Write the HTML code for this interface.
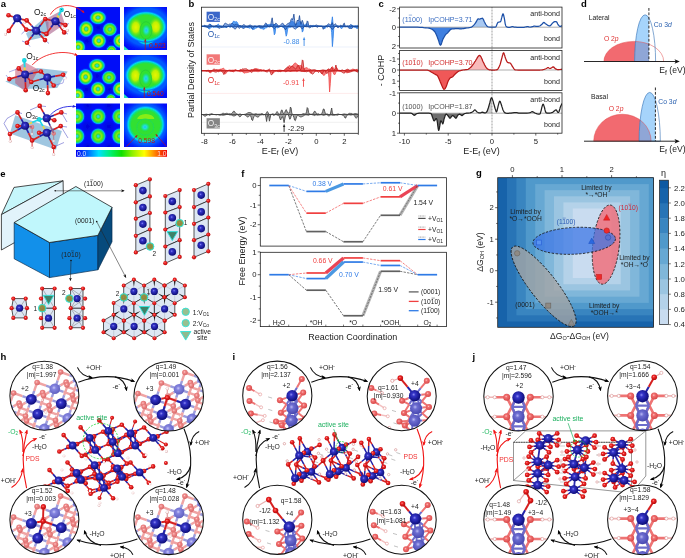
<!DOCTYPE html>
<html><head><meta charset="utf-8"><title>Figure</title>
<style>html,body{margin:0;padding:0;background:#fff;}svg{display:block;}text{font-family:"Liberation Sans",sans-serif;}</style>
</head><body>
<svg width="685" height="558" viewBox="0 0 685 558">
<defs>
<radialGradient id="gCo" cx="0.42" cy="0.4" r="0.6"><stop offset="0" stop-color="#8c8cf0"/><stop offset="0.25" stop-color="#3434c8"/><stop offset="1" stop-color="#0c0c78"/></radialGradient>
<radialGradient id="gCoF" cx="0.42" cy="0.4" r="0.6"><stop offset="0" stop-color="#c8c8f8"/><stop offset="0.3" stop-color="#8484e0"/><stop offset="1" stop-color="#6060c0"/></radialGradient>
<radialGradient id="gO" cx="0.42" cy="0.4" r="0.6"><stop offset="0" stop-color="#ff9a9a"/><stop offset="0.3" stop-color="#f02828"/><stop offset="1" stop-color="#b40808"/></radialGradient>
<radialGradient id="gOF" cx="0.42" cy="0.4" r="0.6"><stop offset="0" stop-color="#ffd0d0"/><stop offset="0.3" stop-color="#f08c8c"/><stop offset="1" stop-color="#d86868"/></radialGradient>
<radialGradient id="gOS" cx="0.42" cy="0.4" r="0.6"><stop offset="0" stop-color="#ffc0c0"/><stop offset="0.3" stop-color="#f07070"/><stop offset="1" stop-color="#d84848"/></radialGradient>
<radialGradient id="gCoS" cx="0.42" cy="0.4" r="0.6"><stop offset="0" stop-color="#b8b8f4"/><stop offset="0.3" stop-color="#6c6cd0"/><stop offset="1" stop-color="#4848b0"/></radialGradient>
<radialGradient id="gH" cx="0.45" cy="0.45" r="0.6"><stop offset="0" stop-color="#ffffff"/><stop offset="0.5" stop-color="#fbeaea"/><stop offset="1" stop-color="#c88c8c"/></radialGradient>
<radialGradient id="gOc" cx="0.45" cy="0.45" r="0.6"><stop offset="0" stop-color="#103030"/><stop offset="0.18" stop-color="#20e0e8"/><stop offset="1" stop-color="#10c8d8"/></radialGradient>
<marker id="arK" viewBox="0 0 10 10" refX="8" refY="5" markerWidth="4.3" markerHeight="4.3" orient="auto-start-reverse"><path d="M0 1 L10 5 L0 9 L2.5 5 Z" fill="#000"/></marker>
<marker id="arK2" viewBox="0 0 10 10" refX="8" refY="5" markerWidth="6.5" markerHeight="6.5" orient="auto-start-reverse"><path d="M0 1 L10 5 L0 9 L2.5 5 Z" fill="#111"/></marker>
<marker id="arR" viewBox="0 0 10 10" refX="8" refY="5" markerWidth="4.3" markerHeight="4.3" orient="auto-start-reverse"><path d="M0 1 L10 5 L0 9 L2.5 5 Z" fill="#f01414"/></marker>
<marker id="arB" viewBox="0 0 10 10" refX="8" refY="5" markerWidth="4.3" markerHeight="4.3" orient="auto-start-reverse"><path d="M0 1 L10 5 L0 9 L2.5 5 Z" fill="#2020e0"/></marker>
<marker id="arDR" viewBox="0 0 10 10" refX="8" refY="5" markerWidth="4.3" markerHeight="4.3" orient="auto-start-reverse"><path d="M0 1 L10 5 L0 9 L2.5 5 Z" fill="#c01010"/></marker>
<marker id="arG" viewBox="0 0 10 10" refX="8" refY="5" markerWidth="4.3" markerHeight="4.3" orient="auto-start-reverse"><path d="M0 1 L10 5 L0 9 L2.5 5 Z" fill="#10b040"/></marker>

<radialGradient id="hb"><stop offset="0" stop-color="#30d0f0"/><stop offset="0.12" stop-color="#28d8c8"/><stop offset="0.24" stop-color="#38e038"/><stop offset="0.4" stop-color="#d0f000"/><stop offset="0.52" stop-color="#b0ee08"/><stop offset="0.64" stop-color="#40e028"/><stop offset="0.76" stop-color="#10d890"/><stop offset="0.85" stop-color="#00a8ff"/><stop offset="0.94" stop-color="#0048ff"/><stop offset="1" stop-color="#0010f8" stop-opacity="0"/></radialGradient>
<radialGradient id="hb2"><stop offset="0" stop-color="#30d0f0"/><stop offset="0.12" stop-color="#28d8c8"/><stop offset="0.24" stop-color="#30e040"/><stop offset="0.42" stop-color="#88ec10"/><stop offset="0.54" stop-color="#60e618"/><stop offset="0.66" stop-color="#38e030"/><stop offset="0.77" stop-color="#10d890"/><stop offset="0.86" stop-color="#00a8ff"/><stop offset="0.94" stop-color="#0048ff"/><stop offset="1" stop-color="#0010f8" stop-opacity="0"/></radialGradient>
<radialGradient id="hbig"><stop offset="0" stop-color="#30e030"/><stop offset="0.70" stop-color="#30e030"/><stop offset="0.79" stop-color="#10e080"/><stop offset="0.86" stop-color="#00d8f0"/><stop offset="0.93" stop-color="#0078ff"/><stop offset="1" stop-color="#0048ff" stop-opacity="0"/></radialGradient>
<radialGradient id="hdark"><stop offset="0" stop-color="#0000d0" stop-opacity="0.7"/><stop offset="0.6" stop-color="#0000d8" stop-opacity="0.5"/><stop offset="1" stop-color="#0008e8" stop-opacity="0"/></radialGradient>
<radialGradient id="hlobe"><stop offset="0" stop-color="#e8f400"/><stop offset="0.45" stop-color="#c0f000"/><stop offset="1" stop-color="#30e030" stop-opacity="0"/></radialGradient>
<radialGradient id="hcen"><stop offset="0" stop-color="#20b8ff"/><stop offset="0.3" stop-color="#20e0d8"/><stop offset="0.65" stop-color="#20e070"/><stop offset="1" stop-color="#30e030" stop-opacity="0"/></radialGradient>
<radialGradient id="hlight"><stop offset="0" stop-color="#0070ff"/><stop offset="0.75" stop-color="#0060ff" stop-opacity="0.9"/><stop offset="1" stop-color="#0030ff" stop-opacity="0"/></radialGradient>
<linearGradient id="jet"><stop offset="0" stop-color="#0000f0"/><stop offset="0.12" stop-color="#0060ff"/><stop offset="0.25" stop-color="#00e0ff"/><stop offset="0.38" stop-color="#00f070"/><stop offset="0.5" stop-color="#10e000"/><stop offset="0.62" stop-color="#90f000"/><stop offset="0.75" stop-color="#ffff00"/><stop offset="0.87" stop-color="#ff8000"/><stop offset="1" stop-color="#f00000"/></linearGradient>
<filter id="bl1" x="-10%" y="-10%" width="120%" height="120%"><feGaussianBlur stdDeviation="0.5"/></filter>
<circle id="H14" r="1.4" fill="url(#gH)"/><circle id="O23" r="2.3" fill="url(#gO)"/><circle id="Co40" r="4.0" fill="url(#gCo)"/><circle id="Oc23" r="2.3" fill="url(#gOc)"/><circle id="H12" r="1.2" fill="url(#gH)"/><circle id="OF22" r="2.2" fill="url(#gOF)"/><circle id="Co38" r="3.8" fill="url(#gCo)"/><circle id="O21" r="2.1" fill="url(#gO)"/><circle id="Co36" r="3.6" fill="url(#gCo)"/><circle id="O20" r="2.0" fill="url(#gO)"/><circle id="H13" r="1.3" fill="url(#gH)"/><circle id="Co39" r="3.9" fill="url(#gCo)"/><circle id="CoF53" r="5.3" fill="url(#gCoF)"/><circle id="OF28" r="2.8" fill="url(#gOF)"/><circle id="Co54" r="5.4" fill="url(#gCo)"/><circle id="H16" r="1.6" fill="url(#gH)"/><circle id="O26" r="2.6" fill="url(#gO)"/><circle id="OS30" r="3.0" fill="url(#gOS)"/><circle id="CoS60" r="6.0" fill="url(#gCoS)"/><circle id="Co57" r="5.7" fill="url(#gCo)"/><circle id="O28" r="2.8" fill="url(#gO)"/><circle id="O24" r="2.4" fill="url(#gO)"/><circle id="Co44" r="4.4" fill="url(#gCo)"/><circle id="CoS62" r="6.2" fill="url(#gCoS)"/><circle id="OS35" r="3.5" fill="url(#gOS)"/><circle id="Co62" r="6.2" fill="url(#gCo)"/></defs>
<rect width="685" height="558" fill="#fff"/>
<g opacity="0.999"><g id="pa"><text x="0.80" y="7.20" font-size="9.5" fill="#000" font-weight="bold">a</text><clipPath id="hc0"><rect x="76" y="7" width="44" height="43"/></clipPath><g clip-path="url(#hc0)"><g filter="url(#bl1)"><rect x="72.00" y="3.00" width="52.00" height="51.00" fill="#0010f8" stroke="none" stroke-width="0.8" /><circle cx="98" cy="27.5" r="6" fill="url(#hdark)"/><circle cx="110.5" cy="41" r="5.5" fill="url(#hdark)"/><circle cx="87" cy="41" r="5.5" fill="url(#hdark)"/><ellipse cx="98" cy="17.6" rx="9.200000000000001" ry="8.0" fill="url(#hlight)"/><ellipse cx="86.2" cy="29" rx="8.4" ry="9.200000000000001" fill="url(#hlight)"/><ellipse cx="109.8" cy="29.4" rx="8.200000000000001" ry="8.0" fill="url(#hlight)"/><ellipse cx="98.8" cy="40.8" rx="8.4" ry="8.4" fill="url(#hlight)"/><ellipse cx="78.2" cy="47.1" rx="8.200000000000001" ry="8.4" fill="url(#hlight)"/><ellipse cx="120.3" cy="40.8" rx="8.200000000000001" ry="8.4" fill="url(#hlight)"/><ellipse cx="111.5" cy="50.5" rx="6.3" ry="6.3" fill="url(#hlight)"/><ellipse cx="98" cy="17.6" rx="8.5" ry="7.1" fill="url(#hb)"/><ellipse cx="86.2" cy="29" rx="7.6" ry="8.5" fill="url(#hb)"/><ellipse cx="109.8" cy="29.4" rx="7.4" ry="7.1" fill="url(#hb2)"/><ellipse cx="98.8" cy="40.8" rx="7.6" ry="7.6" fill="url(#hb)"/><ellipse cx="78.2" cy="47.1" rx="7.4" ry="7.6" fill="url(#hb)"/><ellipse cx="120.3" cy="40.8" rx="7.4" ry="7.6" fill="url(#hb)"/><ellipse cx="111.5" cy="50.5" rx="5.2" ry="5.2" fill="url(#hb2)"/></g></g><clipPath id="hc1"><rect x="124" y="7" width="43" height="43"/></clipPath><g clip-path="url(#hc1)"><g filter="url(#bl1)"><rect x="120.00" y="3.00" width="51.00" height="51.00" fill="#0010f8" stroke="none" stroke-width="0.8" /><ellipse cx="146" cy="26.8" rx="30" ry="25" fill="url(#hlight)"/><ellipse cx="146" cy="30.8" rx="13" ry="15" fill="url(#hbig)"/><ellipse cx="146" cy="26.8" rx="21.5" ry="16.3" fill="url(#hbig)"/><ellipse cx="135.8" cy="27.3" rx="7.5" ry="10.5" fill="url(#hlobe)"/><ellipse cx="155.8" cy="26.8" rx="7.5" ry="10.5" fill="url(#hlobe)"/><ellipse cx="146" cy="30.3" rx="6" ry="8.6" fill="#30e030"/><ellipse cx="146" cy="30.3" rx="6" ry="8.6" fill="none" stroke="#28c838" stroke-width="0.7"/><ellipse cx="146.3" cy="30.3" rx="4.6" ry="6.6" fill="url(#hcen)"/><path d="M124 46 L128.5 50 L124 50 Z" fill="#20e0c0"/></g></g><clipPath id="hc2"><rect x="76" y="55" width="44" height="43"/></clipPath><g clip-path="url(#hc2)"><g filter="url(#bl1)"><rect x="72.00" y="51.00" width="52.00" height="51.00" fill="#0010f8" stroke="none" stroke-width="0.8" /><circle cx="97.3" cy="75.8" r="6" fill="url(#hdark)"/><circle cx="109.5" cy="89.5" r="5.5" fill="url(#hdark)"/><circle cx="86.5" cy="89.5" r="5.5" fill="url(#hdark)"/><ellipse cx="97" cy="65.6" rx="9.200000000000001" ry="8.0" fill="url(#hlight)"/><ellipse cx="85.6" cy="77" rx="8.4" ry="9.200000000000001" fill="url(#hlight)"/><ellipse cx="109" cy="77.5" rx="8.200000000000001" ry="8.0" fill="url(#hlight)"/><ellipse cx="98" cy="89" rx="8.4" ry="8.4" fill="url(#hlight)"/><ellipse cx="77.5" cy="95.5" rx="8.200000000000001" ry="8.4" fill="url(#hlight)"/><ellipse cx="119.8" cy="89" rx="8.200000000000001" ry="8.4" fill="url(#hlight)"/><ellipse cx="110.8" cy="99" rx="6.3" ry="6.3" fill="url(#hlight)"/><ellipse cx="97" cy="65.6" rx="8.5" ry="7.1" fill="url(#hb)"/><ellipse cx="85.6" cy="77" rx="7.6" ry="8.5" fill="url(#hb)"/><ellipse cx="109" cy="77.5" rx="7.4" ry="7.1" fill="url(#hb2)"/><ellipse cx="98" cy="89" rx="7.6" ry="7.6" fill="url(#hb)"/><ellipse cx="77.5" cy="95.5" rx="7.4" ry="7.6" fill="url(#hb)"/><ellipse cx="119.8" cy="89" rx="7.4" ry="7.6" fill="url(#hb)"/><ellipse cx="110.8" cy="99" rx="5.2" ry="5.2" fill="url(#hb2)"/></g></g><clipPath id="hc3"><rect x="124" y="55" width="43" height="43"/></clipPath><g clip-path="url(#hc3)"><g filter="url(#bl1)"><rect x="120.00" y="51.00" width="51.00" height="51.00" fill="#0010f8" stroke="none" stroke-width="0.8" /><ellipse cx="145.6" cy="75.2" rx="30" ry="25" fill="url(#hlight)"/><ellipse cx="145.6" cy="79.2" rx="13" ry="15" fill="url(#hbig)"/><ellipse cx="145.6" cy="75.2" rx="21.5" ry="16.3" fill="url(#hbig)"/><ellipse cx="135.4" cy="75.7" rx="7.5" ry="10.5" fill="url(#hlobe)"/><ellipse cx="155.4" cy="75.2" rx="7.5" ry="10.5" fill="url(#hlobe)"/><ellipse cx="145.6" cy="78.7" rx="6" ry="8.6" fill="#30e030"/><ellipse cx="145.6" cy="78.7" rx="6" ry="8.6" fill="none" stroke="#28c838" stroke-width="0.7"/><ellipse cx="145.9" cy="78.7" rx="4.6" ry="6.6" fill="url(#hcen)"/><path d="M124 94 L128.5 98 L124 98 Z" fill="#20e0c0"/></g></g><clipPath id="hc4"><rect x="76" y="103.5" width="44" height="43.5"/></clipPath><g clip-path="url(#hc4)"><g filter="url(#bl1)"><rect x="72.00" y="99.50" width="52.00" height="51.50" fill="#0010f8" stroke="none" stroke-width="0.8" /><circle cx="87.6" cy="126.5" r="6.5" fill="url(#hdark)"/><circle cx="108.9" cy="126.5" r="6.5" fill="url(#hdark)"/><circle cx="87.6" cy="105.5" r="5.5" fill="url(#hdark)"/><circle cx="108.9" cy="105.5" r="5.5" fill="url(#hdark)"/><circle cx="87.6" cy="147" r="5.5" fill="url(#hdark)"/><circle cx="108.9" cy="147" r="5.5" fill="url(#hdark)"/><ellipse cx="98.2" cy="116.5" rx="8.700000000000001" ry="9.0" fill="url(#hlight)"/><ellipse cx="98.2" cy="136.2" rx="8.700000000000001" ry="9.0" fill="url(#hlight)"/><ellipse cx="77" cy="116.5" rx="8.700000000000001" ry="9.0" fill="url(#hlight)"/><ellipse cx="119.6" cy="116.5" rx="8.700000000000001" ry="9.0" fill="url(#hlight)"/><ellipse cx="77" cy="136.2" rx="8.700000000000001" ry="9.0" fill="url(#hlight)"/><ellipse cx="119.6" cy="136.2" rx="8.700000000000001" ry="9.0" fill="url(#hlight)"/><ellipse cx="98.2" cy="116.5" rx="7.9" ry="8.3" fill="url(#hb2)"/><ellipse cx="98.2" cy="136.2" rx="7.9" ry="8.3" fill="url(#hb2)"/><ellipse cx="77" cy="116.5" rx="7.9" ry="8.3" fill="url(#hb2)"/><ellipse cx="119.6" cy="116.5" rx="7.9" ry="8.3" fill="url(#hb2)"/><ellipse cx="77" cy="136.2" rx="7.9" ry="8.3" fill="url(#hb2)"/><ellipse cx="119.6" cy="136.2" rx="7.9" ry="8.3" fill="url(#hb2)"/></g></g><clipPath id="hc5"><rect x="124" y="103.5" width="43" height="43.5"/></clipPath><g clip-path="url(#hc5)"><g filter="url(#bl1)"><rect x="120.00" y="99.50" width="51.00" height="51.50" fill="#0010f8" stroke="none" stroke-width="0.8" /><ellipse cx="145.6" cy="124.6" rx="27" ry="27" fill="url(#hlight)"/><ellipse cx="145.6" cy="124.6" rx="20.2" ry="19.8" fill="url(#hbig)"/><path d="M137.2 119.1 A8.6 5.2 0 0 1 154.4 119.1 Z" fill="#a0f010" opacity="0.8"/><ellipse cx="145.2" cy="127.1" rx="8.4" ry="8.2" fill="none" stroke="#20d860" stroke-width="1.0" opacity="0.8"/><ellipse cx="145.0" cy="127.1" rx="5.5" ry="5" fill="url(#hcen)"/></g></g><line x1="145.30" y1="50.00" x2="145.30" y2="39.50" stroke="#c01414" stroke-width="0.7" marker-end="url(#arDR)"/><text x="149.00" y="48.00" font-size="6.7" fill="#c01414">0.523</text><line x1="144.30" y1="98.00" x2="144.30" y2="87.50" stroke="#c01414" stroke-width="0.7" marker-end="url(#arDR)"/><text x="147.00" y="96.00" font-size="6.7" fill="#c01414">0.540</text><line x1="126.50" y1="146.50" x2="137.00" y2="135.50" stroke="#c01414" stroke-width="0.7" marker-end="url(#arDR)"/><line x1="166.50" y1="146.50" x2="156.00" y2="134.50" stroke="#c01414" stroke-width="0.7" marker-end="url(#arDR)"/><text x="146.60" y="143.00" font-size="6.7" fill="#c01414" text-anchor="middle">0.598</text><rect x="76.00" y="150.00" width="91.00" height="6.80" fill="url(#jet)" stroke="none" stroke-width="0.8" /><text x="77.00" y="156.30" font-size="6.7" fill="#d8e4ff">0.0</text><text x="166.60" y="156.30" font-size="6.7" fill="#ffe0d8" text-anchor="end">1.0</text><polygon points="26.0,33.5 43.0,19.0 48.5,22.0 48.5,36.0 29.0,40.5" fill="#5fa0cc" fill-opacity="0.6" stroke="none" stroke-width="0.5" /><polygon points="45.0,19.5 60.5,11.0 65.0,24.0 48.0,35.5" fill="#a05080" fill-opacity="0.55" stroke="none" stroke-width="0.5" /><line x1="27.00" y1="42.80" x2="22.00" y2="41.00" stroke="#4040c0" stroke-width="0.5" /><line x1="27.00" y1="42.80" x2="30.00" y2="46.50" stroke="#4040c0" stroke-width="0.5" /><line x1="45.00" y1="40.10" x2="49.00" y2="43.50" stroke="#4040c0" stroke-width="0.5" /><line x1="26.30" y1="29.60" x2="21.50" y2="34.00" stroke="#4040c0" stroke-width="0.5" /><line x1="65.40" y1="25.10" x2="69.00" y2="23.50" stroke="#4040c0" stroke-width="0.5" /><line x1="64.20" y1="32.40" x2="68.00" y2="34.00" stroke="#4040c0" stroke-width="0.5" /><line x1="8.80" y1="30.90" x2="5.50" y2="34.30" stroke="#d62020" stroke-width="0.8" /><path d="M17.2 18.2L12.8 16.8" stroke="#2222a8" stroke-width="1.7"/><path d="M12.8 16.8L8.5 15.3" stroke="#d62020" stroke-width="1.7"/><path d="M17.2 18.2L21.9 19.3" stroke="#2222a8" stroke-width="1.7"/><path d="M21.9 19.3L26.7 20.4" stroke="#d62020" stroke-width="1.7"/><path d="M17.2 18.2L13.0 24.5" stroke="#2222a8" stroke-width="1.7"/><path d="M13.0 24.5L8.8 30.9" stroke="#d62020" stroke-width="1.7"/><path d="M17.2 18.2L21.8 23.9" stroke="#2222a8" stroke-width="1.7"/><path d="M21.8 23.9L26.3 29.6" stroke="#d62020" stroke-width="1.7"/><path d="M36.2 30.7L31.5 25.5" stroke="#2222a8" stroke-width="1.7"/><path d="M31.5 25.5L26.7 20.4" stroke="#d62020" stroke-width="1.7"/><path d="M36.2 30.7L31.2 30.1" stroke="#2222a8" stroke-width="1.7"/><path d="M31.2 30.1L26.3 29.6" stroke="#d62020" stroke-width="1.7"/><path d="M36.2 30.7L40.8 24.9" stroke="#2222a8" stroke-width="1.7"/><path d="M40.8 24.9L45.3 19.0" stroke="#d62020" stroke-width="1.7"/><path d="M36.2 30.7L41.3 32.3" stroke="#2222a8" stroke-width="1.7"/><path d="M41.3 32.3L46.4 33.9" stroke="#d62020" stroke-width="1.7"/><path d="M36.2 30.7L31.6 36.8" stroke="#2222a8" stroke-width="1.7"/><path d="M31.6 36.8L27.0 42.8" stroke="#d62020" stroke-width="1.7"/><path d="M36.2 30.7L40.6 35.4" stroke="#2222a8" stroke-width="1.7"/><path d="M40.6 35.4L45.0 40.1" stroke="#d62020" stroke-width="1.7"/><path d="M55.5 21.2L50.4 20.1" stroke="#2222a8" stroke-width="1.7"/><path d="M50.4 20.1L45.3 19.0" stroke="#d62020" stroke-width="1.7"/><path d="M55.5 21.2L51.0 27.5" stroke="#2222a8" stroke-width="1.7"/><path d="M51.0 27.5L46.4 33.9" stroke="#d62020" stroke-width="1.7"/><path d="M55.5 21.2L60.5 23.1" stroke="#2222a8" stroke-width="1.7"/><path d="M60.5 23.1L65.4 25.1" stroke="#d62020" stroke-width="1.7"/><path d="M55.5 21.2L59.9 26.8" stroke="#2222a8" stroke-width="1.7"/><path d="M59.9 26.8L64.2 32.4" stroke="#d62020" stroke-width="1.7"/><line x1="61.60" y1="9.90" x2="58.55" y2="15.55" stroke="#20d8e8" stroke-width="1.9" /><line x1="58.55" y1="15.55" x2="55.50" y2="21.20" stroke="#e8d840" stroke-width="1.9" /><use href="#H14" x="5.5" y="34.3"/><use href="#H14" x="24.8" y="22.6"/><use href="#H14" x="62.8" y="27.7"/><use href="#H14" x="67.4" y="30.4"/><use href="#O23" x="8.5" y="15.3"/><use href="#O23" x="26.7" y="20.4"/><use href="#O23" x="8.8" y="30.9"/><use href="#O23" x="26.3" y="29.6"/><use href="#O23" x="45.3" y="19.0"/><use href="#O23" x="46.4" y="33.9"/><use href="#O23" x="27.0" y="42.8"/><use href="#O23" x="45.0" y="40.1"/><use href="#O23" x="65.4" y="25.1"/><use href="#O23" x="64.2" y="32.4"/><use href="#Co40" x="17.2" y="18.2"/><use href="#Co40" x="36.2" y="30.7"/><use href="#Co40" x="55.5" y="21.2"/><use href="#Oc23" x="61.6" y="9.9"/><text x="34.00" y="14.80" font-size="8.4" fill="#111">O<tspan dy="1.3" font-size="5.2">2c</tspan><tspan dy="-1.3" font-size="0.1">&#8203;</tspan></text><text x="63.80" y="17.00" font-size="8.4" fill="#111">O<tspan dy="1.3" font-size="5.2">1c</tspan><tspan dy="-1.3" font-size="0.1">&#8203;</tspan></text><path d="M50.4 14.6 C56 4 72 2 84 12.6" fill="none" stroke="#f01414" stroke-width="0.85" marker-end="url(#arR)"/><polygon points="5.3,81.5 37.4,68.0 67.7,71.5 57.2,87.9 23.0,89.0" fill="#5fa0cc" fill-opacity="0.6" stroke="none" stroke-width="0.5" /><polygon points="15.2,69.2 25.1,62.2 38.5,69.8 30.4,84.4 25.1,91.4 15.2,83.2" fill="#c04868" fill-opacity="0.5" stroke="none" stroke-width="0.5" /><line x1="18.70" y1="68.40" x2="9.00" y2="72.00" stroke="#6060d0" stroke-width="0.5" /><line x1="9.30" y1="79.10" x2="6.00" y2="75.00" stroke="#6060d0" stroke-width="0.5" /><line x1="63.10" y1="74.80" x2="67.00" y2="78.00" stroke="#6060d0" stroke-width="0.5" /><line x1="53.70" y1="85.50" x2="63.00" y2="83.00" stroke="#6060d0" stroke-width="0.5" /><line x1="63.00" y1="83.00" x2="64.00" y2="79.00" stroke="#6060d0" stroke-width="0.5" /><path d="M25.1 74.5L21.9 71.5" stroke="#2222a8" stroke-width="1.7"/><path d="M21.9 71.5L18.7 68.4" stroke="#d62020" stroke-width="1.7"/><path d="M25.1 74.5L33.0 73.0" stroke="#2222a8" stroke-width="1.7"/><path d="M33.0 73.0L40.9 71.5" stroke="#d62020" stroke-width="1.7"/><path d="M25.1 74.5L17.2 76.8" stroke="#2222a8" stroke-width="1.7"/><path d="M17.2 76.8L9.3 79.1" stroke="#d62020" stroke-width="1.7"/><path d="M25.1 74.5L28.2 78.2" stroke="#2222a8" stroke-width="1.7"/><path d="M28.2 78.2L31.3 82.0" stroke="#d62020" stroke-width="1.7"/><path d="M25.1 74.5L25.4 82.3" stroke="#2222a8" stroke-width="1.7"/><path d="M25.4 82.3L25.7 90.2" stroke="#d62020" stroke-width="1.7"/><path d="M47.3 77.6L44.1 74.5" stroke="#2222a8" stroke-width="1.7"/><path d="M44.1 74.5L40.9 71.5" stroke="#d62020" stroke-width="1.7"/><path d="M47.3 77.6L39.3 79.8" stroke="#2222a8" stroke-width="1.7"/><path d="M39.3 79.8L31.3 82.0" stroke="#d62020" stroke-width="1.7"/><path d="M47.3 77.6L55.2 76.2" stroke="#2222a8" stroke-width="1.7"/><path d="M55.2 76.2L63.1 74.8" stroke="#d62020" stroke-width="1.7"/><path d="M47.3 77.6L50.5 81.5" stroke="#2222a8" stroke-width="1.7"/><path d="M50.5 81.5L53.7 85.5" stroke="#d62020" stroke-width="1.7"/><path d="M47.3 77.6L47.6 85.3" stroke="#2222a8" stroke-width="1.7"/><path d="M47.6 85.3L47.9 93.1" stroke="#d62020" stroke-width="1.7"/><line x1="24.30" y1="60.40" x2="24.70" y2="67.45" stroke="#20d8e8" stroke-width="1.9" /><line x1="24.70" y1="67.45" x2="25.10" y2="74.50" stroke="#e8d840" stroke-width="1.9" /><use href="#H12" x="66.0" y="78.0" opacity="0.6"/><use href="#O23" x="18.7" y="68.4"/><use href="#O23" x="40.9" y="71.5"/><use href="#O23" x="9.3" y="79.1"/><use href="#O23" x="31.3" y="82.0"/><use href="#O23" x="25.7" y="90.2"/><use href="#O23" x="63.1" y="74.8"/><use href="#O23" x="53.7" y="85.5"/><use href="#O23" x="47.9" y="93.1"/><use href="#Co40" x="25.1" y="74.5"/><use href="#Co40" x="47.3" y="77.6"/><use href="#Oc23" x="24.3" y="60.4"/><text x="26.30" y="58.50" font-size="8.4" fill="#111">O<tspan dy="1.3" font-size="5.2">1c</tspan><tspan dy="-1.3" font-size="0.1">&#8203;</tspan></text><text x="32.70" y="90.50" font-size="8.4" fill="#111">O<tspan dy="1.3" font-size="5.2">2c</tspan><tspan dy="-1.3" font-size="0.1">&#8203;</tspan></text><path d="M32.1 65.1 C42 54 62 49 77.1 55.2" fill="none" stroke="#f01414" stroke-width="0.85" marker-end="url(#arR)"/><polygon points="15.2,115.3 61.9,131.0 56.0,149.7 9.9,133.4" fill="#5fa0cc" fill-opacity="0.6" stroke="none" stroke-width="0.5" /><line x1="17.50" y1="112.40" x2="7.00" y2="118.50" stroke="#4040c0" stroke-width="0.5" /><line x1="7.00" y1="118.50" x2="4.00" y2="123.50" stroke="#4040c0" stroke-width="0.5" /><line x1="4.00" y1="123.50" x2="9.90" y2="134.00" stroke="#4040c0" stroke-width="0.5" /><line x1="39.70" y1="105.90" x2="30.00" y2="110.00" stroke="#4040c0" stroke-width="0.5" /><line x1="39.70" y1="105.90" x2="46.00" y2="106.50" stroke="#4040c0" stroke-width="0.5" /><line x1="61.30" y1="112.40" x2="67.00" y2="114.00" stroke="#4040c0" stroke-width="0.5" /><line x1="61.30" y1="112.40" x2="67.00" y2="122.00" stroke="#4040c0" stroke-width="0.5" /><line x1="60.70" y1="126.10" x2="67.00" y2="127.00" stroke="#4040c0" stroke-width="0.5" /><line x1="60.70" y1="126.10" x2="68.00" y2="138.00" stroke="#4040c0" stroke-width="0.5" /><line x1="53.70" y1="147.00" x2="64.00" y2="142.50" stroke="#4040c0" stroke-width="0.5" /><line x1="17.50" y1="112.40" x2="22.00" y2="113.50" stroke="#4040c0" stroke-width="0.5" /><line x1="32.10" y1="127.00" x2="32.10" y2="134.00" stroke="#b08090" stroke-width="1.0" /><line x1="53.70" y1="133.40" x2="53.70" y2="141.00" stroke="#b08090" stroke-width="1.0" /><use href="#H14" x="32.1" y="134.0" opacity="0.7"/><use href="#H14" x="53.7" y="141.0" opacity="0.7"/><use href="#OF22" x="32.1" y="127.0" opacity="0.9"/><use href="#OF22" x="53.7" y="133.4" opacity="0.9"/><path d="M25.1 125.8L21.3 119.1" stroke="#2222a8" stroke-width="1.7"/><path d="M21.3 119.1L17.5 112.4" stroke="#d62020" stroke-width="1.7"/><path d="M25.1 125.8L21.3 125.9" stroke="#2222a8" stroke-width="1.7"/><path d="M21.3 125.9L17.5 126.1" stroke="#d62020" stroke-width="1.7"/><path d="M25.1 125.8L17.5 129.9" stroke="#2222a8" stroke-width="1.7"/><path d="M17.5 129.9L9.9 134.0" stroke="#d62020" stroke-width="1.7"/><path d="M25.1 125.8L28.6 133.1" stroke="#2222a8" stroke-width="1.7"/><path d="M28.6 133.1L32.1 140.4" stroke="#d62020" stroke-width="1.7"/><path d="M46.7 118.2L43.2 112.1" stroke="#2222a8" stroke-width="1.7"/><path d="M43.2 112.1L39.7 105.9" stroke="#d62020" stroke-width="1.7"/><path d="M46.7 118.2L54.0 115.3" stroke="#2222a8" stroke-width="1.7"/><path d="M54.0 115.3L61.3 112.4" stroke="#d62020" stroke-width="1.7"/><path d="M46.7 118.2L50.5 119.2" stroke="#2222a8" stroke-width="1.7"/><path d="M50.5 119.2L54.3 120.2" stroke="#d62020" stroke-width="1.7"/><path d="M46.7 132.8L53.7 129.4" stroke="#2222a8" stroke-width="1.7"/><path d="M53.7 129.4L60.7 126.1" stroke="#d62020" stroke-width="1.7"/><path d="M46.7 132.8L39.4 136.6" stroke="#2222a8" stroke-width="1.7"/><path d="M39.4 136.6L32.1 140.4" stroke="#d62020" stroke-width="1.7"/><path d="M46.7 132.8L42.9 132.8" stroke="#2222a8" stroke-width="1.7"/><path d="M42.9 132.8L39.1 132.8" stroke="#d62020" stroke-width="1.7"/><path d="M46.7 132.8L50.2 139.9" stroke="#2222a8" stroke-width="1.7"/><path d="M50.2 139.9L53.7 147.0" stroke="#d62020" stroke-width="1.7"/><path d="M46.7 118.2L50.2 125.8" stroke="#2222a8" stroke-width="1.5"/><path d="M50.2 125.8L53.7 133.4" stroke="#a06080" stroke-width="1.5"/><path d="M25.1 125.8L28.6 126.4" stroke="#2222a8" stroke-width="1.5"/><path d="M28.6 126.4L32.1 127.0" stroke="#a06080" stroke-width="1.5"/><line x1="9.90" y1="134.00" x2="10.30" y2="141.30" stroke="#d62020" stroke-width="0.9" /><line x1="32.10" y1="140.40" x2="32.10" y2="147.70" stroke="#d62020" stroke-width="0.9" /><line x1="53.70" y1="147.00" x2="53.70" y2="154.40" stroke="#d62020" stroke-width="0.9" /><line x1="39.10" y1="119.40" x2="32.10" y2="122.60" stroke="#20d8e8" stroke-width="1.7" /><line x1="32.10" y1="122.60" x2="25.10" y2="125.80" stroke="#e8d840" stroke-width="1.7" /><line x1="39.10" y1="119.40" x2="42.90" y2="118.80" stroke="#20d8e8" stroke-width="1.7" /><line x1="42.90" y1="118.80" x2="46.70" y2="118.20" stroke="#e8d840" stroke-width="1.7" /><line x1="39.10" y1="119.40" x2="42.90" y2="126.10" stroke="#20d8e8" stroke-width="1.7" /><line x1="42.90" y1="126.10" x2="46.70" y2="132.80" stroke="#e8d840" stroke-width="1.7" /><use href="#H14" x="10.3" y="141.3"/><use href="#H14" x="32.1" y="147.7"/><use href="#H14" x="53.7" y="154.4"/><use href="#O23" x="17.5" y="112.4"/><use href="#O23" x="39.7" y="105.9"/><use href="#O23" x="61.3" y="112.4"/><use href="#O23" x="60.7" y="126.1"/><use href="#O23" x="54.3" y="120.2"/><use href="#O23" x="17.5" y="126.1"/><use href="#O23" x="9.9" y="134.0"/><use href="#O23" x="32.1" y="140.4"/><use href="#O23" x="39.1" y="132.8"/><use href="#O23" x="53.7" y="147.0"/><use href="#Co40" x="25.1" y="125.8"/><use href="#Co40" x="46.7" y="118.2"/><use href="#Co40" x="46.7" y="132.8"/><use href="#Oc23" x="39.1" y="119.4"/><text x="25.50" y="118.00" font-size="8.4" fill="#111">O<tspan dy="1.3" font-size="5.2">3c</tspan><tspan dy="-1.3" font-size="0.1">&#8203;</tspan></text><path d="M48 118 C54 109 64 105.5 75.5 106.5" fill="none" stroke="#2020e0" stroke-width="0.9" marker-end="url(#arB)"/></g><g id="pb"><text x="188.60" y="6.90" font-size="9.5" fill="#000" font-weight="bold">b</text><clipPath id="cb"><rect x="201.5" y="7.2" width="156.8" height="126.10000000000001"/></clipPath><line x1="201.50" y1="47.00" x2="358.30" y2="47.00" stroke="#dfe8f8" stroke-width="0.6" /><line x1="201.50" y1="93.40" x2="358.30" y2="93.40" stroke="#fbdcdc" stroke-width="0.6" /><line x1="201.50" y1="122.30" x2="358.30" y2="122.30" stroke="#e6e6e6" stroke-width="0.6" /><g clip-path="url(#cb)"><path d="M199.5 26.3L201.5 26.3L202.2 26.3L202.9 26.3L203.6 26.3L204.3 26.3L205.0 26.3L205.7 26.1L206.4 25.7L207.1 25.9L207.8 26.2L208.5 26.1L209.2 25.6L209.9 24.7L210.6 24.5L211.3 25.1L212.0 25.7L212.7 26.1L213.4 26.2L214.1 26.3L214.8 26.3L215.5 26.2L216.2 26.0L216.9 25.4L217.6 24.6L218.3 24.2L219.0 24.8L219.7 25.5L220.4 25.9L221.1 26.1L221.8 26.2L222.5 26.3L223.2 26.3L223.9 26.3L224.6 26.3L225.3 26.3L226.0 26.3L226.7 26.3L227.4 26.3L228.1 26.3L228.8 26.2L229.5 26.1L230.2 25.8L230.9 25.1L231.6 24.2L232.3 23.2L233.0 22.0L233.7 20.9L234.4 21.6L235.1 22.0L235.8 21.8L236.5 21.6L237.2 22.3L237.9 23.6L238.6 24.8L239.3 25.5L240.0 25.9L240.7 26.1L241.4 26.2L242.1 26.3L242.8 26.3L243.5 26.3L244.2 26.3L244.9 26.3L245.6 26.3L246.3 26.3L247.0 26.2L247.7 26.1L248.4 26.0L249.1 26.0L249.8 26.1L250.5 26.2L251.2 26.3L251.9 26.3L252.6 26.3L253.3 26.3L254.0 26.2L254.7 25.8L255.4 25.9L256.1 26.2L256.8 26.3L257.5 26.3L258.2 26.3L258.9 26.3L259.6 26.3L260.3 26.3L261.0 26.3L261.7 26.3L262.4 26.2L263.1 26.2L263.8 26.1L264.5 25.8L265.2 25.2L265.9 24.7L266.6 24.7L267.3 24.8L268.0 24.7L268.7 24.5L269.4 24.4L270.1 24.3L270.8 24.3L271.5 24.4L272.2 24.5L272.9 24.6L273.6 24.5L274.3 24.5L275.0 24.5L275.7 24.5L276.4 24.9L277.1 25.6L277.8 26.0L278.5 26.2L279.2 26.3L279.9 26.3L280.6 26.3L281.3 26.3L282.0 26.3L282.7 26.2L283.4 25.8L284.1 25.6L284.8 25.7L285.5 26.0L286.2 26.2L286.9 26.2L287.6 26.1L288.3 25.7L289.0 25.0L289.7 23.8L290.4 22.6L291.1 21.7L291.8 21.3L292.5 21.2L293.2 21.6L293.9 22.4L294.6 23.4L295.3 24.1L296.0 24.1L296.7 23.7L297.4 23.1L298.1 22.6L298.8 21.7L299.5 21.3L300.2 21.5L300.9 22.3L301.6 23.5L302.3 24.8L303.0 25.3L303.7 25.4L304.4 25.2L305.1 24.6L305.8 23.9L306.5 23.7L307.2 24.5L307.9 25.5L308.6 26.1L309.3 26.3L310.0 26.3L310.7 26.2L311.4 26.1L312.1 25.8L312.8 25.4L313.5 25.4L314.2 25.8L314.9 25.9L315.6 26.0L316.3 26.2L317.0 26.3L317.7 26.3L318.4 26.3L319.1 26.3L319.8 26.2L320.5 26.0L321.2 25.9L321.9 26.1L322.6 26.3L323.3 26.3L324.0 26.3L324.7 26.3L325.4 26.1L326.1 25.9L326.8 25.7L327.5 25.7L328.2 25.8L328.9 25.9L329.6 26.1L330.3 26.2L331.0 26.1L331.7 21.8L332.4 16.8L333.1 24.6L333.8 26.3L334.5 26.3L335.2 26.3L335.9 26.3L336.6 26.2L337.3 26.0L338.0 25.9L338.7 26.2L339.4 26.3L340.1 26.3L340.8 26.3L341.5 26.3L342.2 26.3L342.9 26.2L343.6 25.7L344.3 25.4L345.0 25.9L345.7 26.2L346.4 26.3L347.1 26.3L347.8 26.3L348.5 26.3L349.2 26.3L349.9 26.3L350.6 26.1L351.3 25.3L352.0 24.8L352.7 25.6L353.4 26.1L354.1 26.2L354.8 25.9L355.5 25.7L356.2 25.9L356.9 25.7L357.6 25.4L359.6 26.3" fill="#4a98f4" stroke="#2e7fe6" stroke-width="0.8" fill-opacity="0.9" stroke-linejoin="round"/><path d="M199.5 26.3L201.5 26.3L202.2 26.3L202.9 26.3L203.6 26.4L204.3 26.7L205.0 26.9L205.7 26.9L206.4 26.7L207.1 26.9L207.8 27.6L208.5 28.5L209.2 28.9L209.9 28.7L210.6 28.0L211.3 27.3L212.0 26.9L212.7 27.0L213.4 27.4L214.1 27.4L214.8 27.1L215.5 27.3L216.2 27.3L216.9 27.2L217.6 27.3L218.3 27.5L219.0 27.3L219.7 26.9L220.4 26.7L221.1 27.2L221.8 27.6L222.5 26.9L223.2 26.7L223.9 27.1L224.6 27.4L225.3 27.3L226.0 27.3L226.7 27.4L227.4 26.8L228.1 26.4L228.8 26.6L229.5 27.1L230.2 27.4L230.9 27.0L231.6 26.7L232.3 26.9L233.0 27.2L233.7 27.3L234.4 27.0L235.1 26.8L235.8 26.8L236.5 26.9L237.2 26.7L237.9 26.4L238.6 26.4L239.3 26.4L240.0 26.6L240.7 26.9L241.4 27.1L242.1 27.2L242.8 27.4L243.5 27.4L244.2 27.2L244.9 27.0L245.6 27.2L246.3 27.5L247.0 27.4L247.7 27.2L248.4 27.6L249.1 28.2L249.8 28.0L250.5 27.8L251.2 28.0L251.9 28.9L252.6 29.6L253.3 29.5L254.0 29.3L254.7 28.9L255.4 28.3L256.1 27.9L256.8 27.9L257.5 27.4L258.2 27.1L258.9 27.3L259.6 27.8L260.3 28.3L261.0 28.5L261.7 28.6L262.4 28.8L263.1 29.0L263.8 29.5L264.5 29.0L265.2 27.9L265.9 27.6L266.6 27.9L267.3 27.0L268.0 26.4L268.7 26.3L269.4 26.3L270.1 26.3L270.8 26.3L271.5 26.3L272.2 26.3L272.9 26.5L273.6 28.7L274.3 34.8L275.0 33.7L275.7 28.1L276.4 27.0L277.1 27.7L277.8 28.0L278.5 27.3L279.2 26.6L279.9 26.3L280.6 26.3L281.3 26.4L282.0 26.8L282.7 27.3L283.4 27.6L284.1 27.5L284.8 28.3L285.5 32.2L286.2 36.2L286.9 34.1L287.6 29.3L288.3 27.3L289.0 27.2L289.7 27.4L290.4 27.4L291.1 27.1L291.8 26.8L292.5 26.5L293.2 26.4L293.9 26.3L294.6 26.5L295.3 26.9L296.0 27.6L296.7 27.7L297.4 27.2L298.1 26.7L298.8 26.4L299.5 26.3L300.2 26.3L300.9 26.4L301.6 27.3L302.3 32.1L303.0 31.0L303.7 27.0L304.4 26.4L305.1 26.3L305.8 26.3L306.5 26.3L307.2 26.3L307.9 26.3L308.6 26.3L309.3 26.3L310.0 26.3L310.7 26.4L311.4 26.7L312.1 26.9L312.8 26.9L313.5 26.6L314.2 26.4L314.9 26.3L315.6 26.3L316.3 26.3L317.0 26.3L317.7 26.3L318.4 26.3L319.1 26.3L319.8 26.3L320.5 26.3L321.2 26.3L321.9 26.3L322.6 26.4L323.3 26.8L324.0 28.0L324.7 28.8L325.4 28.0L326.1 26.8L326.8 26.4L327.5 26.3L328.2 26.4L328.9 26.6L329.6 26.9L330.3 26.9L331.0 27.0L331.7 32.7L332.4 46.6L333.1 38.7L333.8 27.7L334.5 26.3L335.2 26.3L335.9 26.3L336.6 26.3L337.3 26.3L338.0 26.3L338.7 26.3L339.4 26.4L340.1 26.8L340.8 28.0L341.5 28.8L342.2 28.1L342.9 27.1L343.6 26.8L344.3 26.7L345.0 26.5L345.7 26.4L346.4 26.3L347.1 26.3L347.8 26.4L348.5 26.7L349.2 27.4L349.9 28.3L350.6 28.0L351.3 27.3L352.0 27.1L352.7 27.0L353.4 26.9L354.1 27.2L354.8 27.4L355.5 27.5L356.2 28.0L356.9 28.4L357.6 28.4L359.6 26.3" fill="#4a98f4" stroke="#2e7fe6" stroke-width="0.8" fill-opacity="0.9" stroke-linejoin="round"/><path d="M199.5 26.3L201.5 26.3L202.2 26.3L202.9 26.3L203.6 26.1L204.3 25.4L205.0 25.1L205.7 25.9L206.4 26.2L207.1 26.1L207.8 25.9L208.5 25.3L209.2 24.4L209.9 24.0L210.6 24.8L211.3 25.8L212.0 26.2L212.7 26.3L213.4 26.3L214.1 26.3L214.8 26.2L215.5 25.8L216.2 25.5L216.9 25.8L217.6 26.1L218.3 26.3L219.0 26.3L219.7 26.3L220.4 26.3L221.1 26.3L221.8 26.3L222.5 26.3L223.2 26.0L223.9 24.9L224.6 23.6L225.3 23.2L226.0 23.5L226.7 23.9L227.4 24.3L228.1 24.7L228.8 24.7L229.5 24.1L230.2 24.2L230.9 24.0L231.6 23.5L232.3 23.4L233.0 23.9L233.7 24.6L234.4 25.1L235.1 24.8L235.8 23.9L236.5 24.0L237.2 24.7L237.9 25.3L238.6 25.7L239.3 25.7L240.0 25.6L240.7 25.6L241.4 25.9L242.1 25.8L242.8 25.2L243.5 24.7L244.2 24.8L244.9 25.3L245.6 25.9L246.3 26.2L247.0 26.2L247.7 26.2L248.4 25.9L249.1 25.5L249.8 25.1L250.5 25.1L251.2 25.5L251.9 25.9L252.6 26.2L253.3 26.3L254.0 26.3L254.7 26.3L255.4 26.3L256.1 26.3L256.8 26.3L257.5 26.2L258.2 26.0L258.9 25.6L259.6 25.6L260.3 25.8L261.0 25.8L261.7 26.0L262.4 26.2L263.1 26.2L263.8 25.9L264.5 24.9L265.2 23.5L265.9 22.9L266.6 23.8L267.3 25.2L268.0 26.0L268.7 26.2L269.4 26.2L270.1 25.7L270.8 24.8L271.5 20.6L272.2 17.8L272.9 23.1L273.6 25.7L274.3 25.2L275.0 24.0L275.7 23.2L276.4 23.5L277.1 24.2L277.8 25.2L278.5 26.0L279.2 26.0L279.9 25.5L280.6 24.7L281.3 24.1L282.0 23.5L282.7 23.2L283.4 23.9L284.1 25.1L284.8 25.8L285.5 25.7L286.2 25.2L286.9 24.4L287.6 23.6L288.3 23.3L289.0 23.3L289.7 22.7L290.4 21.6L291.1 19.5L291.8 18.5L292.5 19.8L293.2 17.7L293.9 14.1L294.6 20.4L295.3 25.3L296.0 25.0L296.7 22.2L297.4 20.0L298.1 21.2L298.8 19.6L299.5 15.6L300.2 20.9L300.9 24.4L301.6 22.2L302.3 20.3L303.0 22.2L303.7 25.0L304.4 26.1L305.1 26.3L305.8 26.2L306.5 24.8L307.2 20.9L307.9 21.6L308.6 25.2L309.3 25.9L310.0 25.6L310.7 25.4L311.4 25.6L312.1 26.0L312.8 26.2L313.5 26.2L314.2 26.1L314.9 25.8L315.6 25.3L316.3 25.0L317.0 25.3L317.7 25.5L318.4 25.7L319.1 26.0L319.8 26.2L320.5 26.3L321.2 26.3L321.9 26.3L322.6 26.3L323.3 26.3L324.0 26.3L324.7 26.3L325.4 26.3L326.1 26.2L326.8 25.7L327.5 24.8L328.2 23.9L328.9 23.8L329.6 24.4L330.3 24.8L331.0 25.1L331.7 23.9L332.4 22.7L333.1 24.9L333.8 25.4L334.5 24.4L335.2 23.7L335.9 24.3L336.6 25.3L337.3 26.0L338.0 26.2L338.7 26.3L339.4 26.2L340.1 25.7L340.8 25.2L341.5 25.7L342.2 26.2L342.9 26.0L343.6 23.7L344.3 23.1L345.0 25.8L345.7 26.3L346.4 26.3L347.1 26.2L347.8 25.9L348.5 26.0L349.2 26.0L349.9 25.2L350.6 24.6L351.3 25.0L352.0 25.7L352.7 26.1L353.4 26.2L354.1 26.3L354.8 26.3L355.5 26.3L356.2 26.3L356.9 26.3L357.6 26.3L359.6 26.3" fill="#2e6cd2" stroke="#1b4796" stroke-width="0.8" fill-opacity="0.55" stroke-linejoin="round"/><path d="M199.5 26.3L201.5 26.3L202.2 26.3L202.9 26.3L203.6 26.3L204.3 26.3L205.0 26.5L205.7 26.7L206.4 27.1L207.1 27.4L207.8 27.6L208.5 27.9L209.2 27.2L209.9 26.5L210.6 26.3L211.3 26.3L212.0 26.3L212.7 26.3L213.4 26.3L214.1 26.3L214.8 26.3L215.5 26.3L216.2 26.3L216.9 26.4L217.6 26.8L218.3 27.8L219.0 28.5L219.7 28.0L220.4 27.7L221.1 27.6L221.8 27.4L222.5 27.4L223.2 27.5L223.9 27.0L224.6 26.6L225.3 26.8L226.0 27.3L226.7 27.3L227.4 26.8L228.1 26.5L228.8 26.3L229.5 26.3L230.2 26.3L230.9 26.3L231.6 26.4L232.3 26.8L233.0 27.5L233.7 28.2L234.4 28.7L235.1 29.1L235.8 28.7L236.5 27.5L237.2 26.8L237.9 27.1L238.6 27.9L239.3 28.3L240.0 27.9L240.7 27.2L241.4 27.1L242.1 27.7L242.8 28.2L243.5 28.5L244.2 28.2L244.9 27.5L245.6 27.0L246.3 26.7L247.0 27.0L247.7 27.5L248.4 27.2L249.1 26.6L249.8 26.4L250.5 26.5L251.2 27.1L251.9 28.2L252.6 28.8L253.3 28.1L254.0 27.0L254.7 26.5L255.4 26.4L256.1 26.8L256.8 26.9L257.5 26.6L258.2 26.6L258.9 26.9L259.6 27.2L260.3 27.4L261.0 27.4L261.7 27.3L262.4 27.5L263.1 27.4L263.8 26.8L264.5 26.4L265.2 26.3L265.9 26.3L266.6 26.3L267.3 26.3L268.0 26.5L268.7 26.8L269.4 27.0L270.1 26.8L270.8 26.5L271.5 26.4L272.2 26.6L272.9 27.2L273.6 28.2L274.3 28.8L275.0 28.2L275.7 27.2L276.4 26.6L277.1 26.4L277.8 26.6L278.5 27.0L279.2 27.1L279.9 26.8L280.6 26.5L281.3 26.3L282.0 26.3L282.7 26.4L283.4 26.7L284.1 27.6L284.8 29.0L285.5 29.8L286.2 28.9L286.9 27.5L287.6 26.6L288.3 26.4L289.0 26.3L289.7 26.3L290.4 26.4L291.1 26.5L291.8 26.7L292.5 27.0L293.2 27.5L293.9 28.0L294.6 28.9L295.3 29.2L296.0 28.5L296.7 27.9L297.4 27.4L298.1 27.0L298.8 26.7L299.5 26.6L300.2 26.8L300.9 27.5L301.6 28.4L302.3 28.7L303.0 28.0L303.7 27.1L304.4 26.6L305.1 26.5L305.8 26.7L306.5 26.8L307.2 26.8L307.9 26.7L308.6 27.1L309.3 27.7L310.0 27.9L310.7 27.3L311.4 26.6L312.1 26.4L312.8 26.3L313.5 26.3L314.2 26.3L314.9 26.3L315.6 26.3L316.3 26.6L317.0 27.2L317.7 27.2L318.4 26.6L319.1 26.3L319.8 26.3L320.5 26.3L321.2 26.3L321.9 26.5L322.6 27.8L323.3 29.3L324.0 27.8L324.7 26.5L325.4 26.3L326.1 26.4L326.8 26.9L327.5 27.1L328.2 26.5L328.9 26.4L329.6 26.7L330.3 27.2L331.0 27.9L331.7 28.9L332.4 29.4L333.1 28.8L333.8 27.9L334.5 27.0L335.2 26.5L335.9 26.3L336.6 26.5L337.3 27.4L338.0 27.7L338.7 27.5L339.4 26.8L340.1 26.3L340.8 26.3L341.5 26.3L342.2 26.3L342.9 26.3L343.6 26.4L344.3 26.6L345.0 26.9L345.7 26.9L346.4 26.8L347.1 26.6L347.8 26.8L348.5 27.9L349.2 28.6L349.9 28.0L350.6 28.1L351.3 29.0L352.0 28.2L352.7 27.2L353.4 26.7L354.1 26.5L354.8 26.4L355.5 26.6L356.2 26.9L356.9 27.1L357.6 26.9L359.6 26.3" fill="#2e6cd2" stroke="#1b4796" stroke-width="0.8" fill-opacity="0.55" stroke-linejoin="round"/><line x1="201.50" y1="26.30" x2="358.30" y2="26.30" stroke="#1b4796" stroke-width="0.8" /><path d="M199.5 70.7L201.5 70.7L202.2 70.7L202.9 70.7L203.6 70.7L204.3 70.7L205.0 70.7L205.7 70.7L206.4 70.7L207.1 70.6L207.8 70.4L208.5 70.4L209.2 70.5L209.9 70.6L210.6 70.7L211.3 70.7L212.0 70.7L212.7 70.6L213.4 70.5L214.1 70.3L214.8 70.1L215.5 70.0L216.2 70.0L216.9 70.0L217.6 69.9L218.3 69.7L219.0 69.5L219.7 69.4L220.4 69.2L221.1 69.1L221.8 68.9L222.5 68.5L223.2 68.2L223.9 68.5L224.6 69.4L225.3 70.0L226.0 70.3L226.7 70.4L227.4 70.5L228.1 70.4L228.8 70.2L229.5 70.0L230.2 70.1L230.9 70.2L231.6 70.2L232.3 70.1L233.0 70.1L233.7 70.1L234.4 69.9L235.1 69.8L235.8 69.9L236.5 70.2L237.2 70.5L237.9 70.6L238.6 70.7L239.3 70.4L240.0 69.5L240.7 69.5L241.4 70.1L242.1 70.2L242.8 69.9L243.5 69.9L244.2 70.3L244.9 70.6L245.6 70.6L246.3 70.2L247.0 70.0L247.7 70.4L248.4 70.3L249.1 70.1L249.8 70.3L250.5 70.3L251.2 69.9L251.9 69.7L252.6 69.7L253.3 69.4L254.0 69.1L254.7 68.9L255.4 68.8L256.1 68.7L256.8 68.8L257.5 68.9L258.2 69.1L258.9 69.4L259.6 69.6L260.3 69.7L261.0 69.8L261.7 70.0L262.4 70.1L263.1 69.9L263.8 69.7L264.5 70.1L265.2 70.5L265.9 70.6L266.6 70.4L267.3 70.2L268.0 70.3L268.7 70.6L269.4 70.7L270.1 70.7L270.8 70.7L271.5 70.7L272.2 70.7L272.9 70.7L273.6 70.7L274.3 70.7L275.0 70.7L275.7 70.7L276.4 70.6L277.1 70.4L277.8 70.3L278.5 70.2L279.2 70.1L279.9 69.9L280.6 70.1L281.3 70.3L282.0 70.4L282.7 70.5L283.4 70.5L284.1 70.4L284.8 70.1L285.5 69.8L286.2 69.2L286.9 68.6L287.6 67.8L288.3 66.7L289.0 65.6L289.7 65.7L290.4 66.2L291.1 66.5L291.8 66.4L292.5 66.0L293.2 65.1L293.9 64.0L294.6 63.2L295.3 63.0L296.0 63.3L296.7 63.9L297.4 64.7L298.1 65.3L298.8 65.6L299.5 65.6L300.2 65.5L300.9 65.5L301.6 65.9L302.3 66.7L303.0 67.7L303.7 68.4L304.4 68.5L305.1 68.2L305.8 67.8L306.5 67.6L307.2 67.9L307.9 68.5L308.6 69.1L309.3 69.0L310.0 69.0L310.7 70.0L311.4 70.5L312.1 70.6L312.8 70.7L313.5 70.7L314.2 70.7L314.9 70.7L315.6 70.6L316.3 70.4L317.0 70.5L317.7 70.6L318.4 70.7L319.1 70.7L319.8 70.6L320.5 70.4L321.2 70.2L321.9 70.1L322.6 70.2L323.3 70.5L324.0 70.6L324.7 70.7L325.4 70.7L326.1 70.7L326.8 70.5L327.5 70.0L328.2 69.3L328.9 69.0L329.6 69.4L330.3 69.9L331.0 69.5L331.7 67.7L332.4 66.6L333.1 67.6L333.8 69.1L334.5 69.7L335.2 69.4L335.9 68.3L336.6 67.6L337.3 68.6L338.0 70.0L338.7 70.4L339.4 70.3L340.1 70.6L340.8 70.7L341.5 70.7L342.2 70.7L342.9 70.7L343.6 70.7L344.3 70.7L345.0 70.7L345.7 70.5L346.4 70.3L347.1 70.2L347.8 70.3L348.5 70.5L349.2 70.6L349.9 70.5L350.6 70.2L351.3 69.7L352.0 69.3L352.7 69.1L353.4 69.2L354.1 69.6L354.8 69.9L355.5 69.7L356.2 69.5L356.9 69.4L357.6 69.4L359.6 70.7" fill="#f47070" stroke="#f04a4a" stroke-width="0.8" fill-opacity="0.9" stroke-linejoin="round"/><path d="M199.5 70.7L201.5 70.7L202.2 70.7L202.9 70.7L203.6 70.7L204.3 70.7L205.0 70.7L205.7 70.7L206.4 70.7L207.1 70.8L207.8 71.0L208.5 71.6L209.2 72.3L209.9 72.6L210.6 72.7L211.3 72.2L212.0 71.6L212.7 71.3L213.4 71.1L214.1 70.8L214.8 70.7L215.5 70.7L216.2 70.7L216.9 70.7L217.6 70.7L218.3 70.9L219.0 71.3L219.7 71.2L220.4 70.8L221.1 70.8L221.8 71.0L222.5 71.2L223.2 71.2L223.9 71.7L224.6 72.9L225.3 73.8L226.0 73.5L226.7 72.4L227.4 71.4L228.1 70.9L228.8 70.8L229.5 70.9L230.2 71.2L230.9 71.4L231.6 71.2L232.3 71.4L233.0 71.8L233.7 71.8L234.4 71.4L235.1 70.9L235.8 70.7L236.5 70.7L237.2 70.7L237.9 70.8L238.6 70.9L239.3 71.4L240.0 71.9L240.7 71.6L241.4 71.4L242.1 71.5L242.8 71.9L243.5 72.7L244.2 73.2L244.9 73.0L245.6 72.7L246.3 72.7L247.0 72.6L247.7 72.5L248.4 72.3L249.1 72.0L249.8 71.7L250.5 71.4L251.2 71.2L251.9 71.0L252.6 70.9L253.3 70.9L254.0 71.0L254.7 71.3L255.4 71.3L256.1 71.3L256.8 71.5L257.5 71.6L258.2 71.6L258.9 71.6L259.6 71.3L260.3 70.9L261.0 70.7L261.7 70.7L262.4 70.7L263.1 70.7L263.8 70.8L264.5 70.8L265.2 71.0L265.9 71.1L266.6 71.0L267.3 70.9L268.0 70.8L268.7 70.8L269.4 70.9L270.1 71.1L270.8 71.6L271.5 72.3L272.2 72.9L272.9 73.2L273.6 72.9L274.3 72.3L275.0 71.6L275.7 71.1L276.4 70.9L277.1 70.8L277.8 70.8L278.5 71.0L279.2 71.3L279.9 71.5L280.6 71.7L281.3 71.5L282.0 71.2L282.7 71.1L283.4 71.3L284.1 71.4L284.8 71.4L285.5 71.2L286.2 71.2L286.9 71.2L287.6 71.4L288.3 71.3L289.0 71.1L289.7 70.9L290.4 71.1L291.1 71.4L291.8 71.5L292.5 71.3L293.2 71.2L293.9 71.2L294.6 71.2L295.3 71.1L296.0 71.4L296.7 71.6L297.4 71.5L298.1 71.1L298.8 70.8L299.5 70.7L300.2 70.7L300.9 70.8L301.6 71.2L302.3 71.4L303.0 71.3L303.7 71.5L304.4 71.6L305.1 71.4L305.8 71.1L306.5 70.8L307.2 70.7L307.9 70.7L308.6 70.9L309.3 71.5L310.0 72.5L310.7 73.3L311.4 72.7L312.1 71.6L312.8 70.9L313.5 70.8L314.2 71.1L314.9 71.5L315.6 71.5L316.3 71.5L317.0 71.2L317.7 70.8L318.4 70.7L319.1 70.8L319.8 70.9L320.5 71.4L321.2 72.2L321.9 73.3L322.6 74.4L323.3 75.2L324.0 75.5L324.7 75.0L325.4 73.7L326.1 72.1L326.8 71.2L327.5 70.8L328.2 71.1L328.9 77.4L329.6 92.0L330.3 83.7L331.0 72.2L331.7 70.9L332.4 71.4L333.1 72.5L333.8 74.0L334.5 74.9L335.2 74.1L335.9 72.3L336.6 71.3L337.3 71.1L338.0 71.1L338.7 71.0L339.4 71.2L340.1 71.4L340.8 71.1L341.5 70.8L342.2 70.7L342.9 70.7L343.6 70.8L344.3 71.0L345.0 71.5L345.7 72.1L346.4 72.8L347.1 72.9L347.8 72.5L348.5 72.2L349.2 71.9L349.9 71.5L350.6 71.1L351.3 71.0L352.0 71.1L352.7 70.8L353.4 70.7L354.1 70.7L354.8 70.7L355.5 70.9L356.2 71.2L356.9 71.6L357.6 71.6L359.6 70.7" fill="#f47070" stroke="#f04a4a" stroke-width="0.8" fill-opacity="0.9" stroke-linejoin="round"/><path d="M199.5 70.7L201.5 70.7L202.2 70.7L202.9 70.7L203.6 70.7L204.3 70.7L205.0 70.7L205.7 70.7L206.4 70.6L207.1 70.5L207.8 70.4L208.5 70.4L209.2 70.5L209.9 70.6L210.6 70.7L211.3 70.7L212.0 70.6L212.7 69.9L213.4 69.2L214.1 68.9L214.8 69.5L215.5 69.9L216.2 69.8L216.9 69.8L217.6 70.1L218.3 70.4L219.0 70.6L219.7 70.2L220.4 70.0L221.1 70.3L221.8 70.3L222.5 70.5L223.2 70.7L223.9 70.7L224.6 70.7L225.3 70.7L226.0 70.7L226.7 70.7L227.4 70.7L228.1 70.7L228.8 70.7L229.5 70.7L230.2 70.7L230.9 70.7L231.6 70.7L232.3 70.7L233.0 70.7L233.7 70.7L234.4 70.6L235.1 70.2L235.8 69.9L236.5 70.4L237.2 70.7L237.9 70.7L238.6 70.7L239.3 70.6L240.0 70.4L240.7 70.1L241.4 69.8L242.1 69.2L242.8 68.8L243.5 69.0L244.2 68.9L244.9 68.8L245.6 68.8L246.3 68.8L247.0 69.2L247.7 69.7L248.4 70.2L249.1 70.4L249.8 70.4L250.5 70.1L251.2 69.8L251.9 69.8L252.6 70.0L253.3 69.9L254.0 69.3L254.7 69.1L255.4 69.1L256.1 69.2L256.8 69.4L257.5 69.7L258.2 70.0L258.9 70.2L259.6 70.1L260.3 69.9L261.0 69.9L261.7 70.1L262.4 70.4L263.1 70.6L263.8 70.7L264.5 70.7L265.2 70.7L265.9 70.7L266.6 70.7L267.3 70.5L268.0 70.1L268.7 69.4L269.4 69.1L270.1 69.7L270.8 70.4L271.5 70.5L272.2 70.3L272.9 70.3L273.6 70.4L274.3 70.6L275.0 70.7L275.7 70.7L276.4 70.7L277.1 70.7L277.8 70.7L278.5 70.7L279.2 70.7L279.9 70.7L280.6 70.7L281.3 70.7L282.0 70.7L282.7 70.7L283.4 70.5L284.1 70.3L284.8 69.7L285.5 68.8L286.2 68.0L286.9 67.6L287.6 67.0L288.3 67.3L289.0 68.4L289.7 68.7L290.4 67.7L291.1 66.6L291.8 66.2L292.5 66.1L293.2 66.6L293.9 67.4L294.6 68.3L295.3 68.9L296.0 68.8L296.7 67.7L297.4 66.0L298.1 65.2L298.8 66.1L299.5 68.0L300.2 69.5L300.9 69.7L301.6 66.3L302.3 59.9L303.0 60.6L303.7 67.2L304.4 70.3L305.1 70.7L305.8 70.7L306.5 70.7L307.2 70.7L307.9 70.7L308.6 70.7L309.3 70.5L310.0 70.2L310.7 69.9L311.4 69.9L312.1 70.0L312.8 69.8L313.5 69.7L314.2 69.7L314.9 69.7L315.6 70.0L316.3 70.5L317.0 70.7L317.7 70.7L318.4 70.7L319.1 70.7L319.8 70.7L320.5 70.7L321.2 70.6L321.9 70.4L322.6 70.1L323.3 69.9L324.0 70.1L324.7 70.2L325.4 70.3L326.1 70.3L326.8 70.2L327.5 69.6L328.2 69.1L328.9 69.2L329.6 69.6L330.3 69.5L331.0 68.2L331.7 67.3L332.4 68.4L333.1 70.0L333.8 70.6L334.5 70.3L335.2 67.9L335.9 65.0L336.6 67.9L337.3 70.3L338.0 70.7L338.7 70.7L339.4 70.7L340.1 70.7L340.8 70.5L341.5 70.2L342.2 69.9L342.9 70.2L343.6 70.5L344.3 70.6L345.0 70.4L345.7 70.1L346.4 69.7L347.1 69.5L347.8 69.1L348.5 69.5L349.2 70.1L349.9 70.2L350.6 70.3L351.3 70.5L352.0 70.5L352.7 70.3L353.4 70.0L354.1 69.6L354.8 69.9L355.5 70.1L356.2 69.9L356.9 70.0L357.6 70.4L359.6 70.7" fill="#e03030" stroke="#c21a1a" stroke-width="0.8" fill-opacity="0.5" stroke-linejoin="round"/><path d="M199.5 70.7L201.5 70.7L202.2 70.7L202.9 70.7L203.6 70.7L204.3 70.7L205.0 70.7L205.7 70.9L206.4 71.2L207.1 71.3L207.8 71.1L208.5 71.2L209.2 71.5L209.9 71.9L210.6 71.7L211.3 71.3L212.0 70.9L212.7 70.9L213.4 71.2L214.1 71.6L214.8 71.9L215.5 72.1L216.2 72.1L216.9 71.8L217.6 71.5L218.3 71.8L219.0 71.4L219.7 70.9L220.4 71.0L221.1 71.3L221.8 71.5L222.5 71.8L223.2 73.1L223.9 74.6L224.6 73.1L225.3 71.5L226.0 71.1L226.7 70.8L227.4 70.7L228.1 70.7L228.8 70.7L229.5 70.7L230.2 70.7L230.9 70.8L231.6 71.0L232.3 71.2L233.0 71.1L233.7 70.9L234.4 70.7L235.1 70.7L235.8 70.7L236.5 70.7L237.2 70.7L237.9 70.7L238.6 70.7L239.3 70.7L240.0 70.7L240.7 70.7L241.4 70.8L242.1 71.1L242.8 71.2L243.5 71.1L244.2 70.9L244.9 70.7L245.6 70.7L246.3 70.7L247.0 70.7L247.7 70.7L248.4 70.7L249.1 70.7L249.8 71.0L250.5 71.8L251.2 72.4L251.9 72.2L252.6 71.7L253.3 71.2L254.0 70.9L254.7 70.8L255.4 70.7L256.1 70.7L256.8 70.7L257.5 70.7L258.2 70.7L258.9 70.7L259.6 70.7L260.3 70.8L261.0 71.0L261.7 71.1L262.4 70.9L263.1 70.8L263.8 70.8L264.5 71.0L265.2 71.4L265.9 71.7L266.6 71.9L267.3 72.0L268.0 71.4L268.7 70.9L269.4 70.9L270.1 71.7L270.8 73.8L271.5 75.1L272.2 74.0L272.9 72.7L273.6 71.6L274.3 71.0L275.0 70.8L275.7 70.8L276.4 71.0L277.1 71.3L277.8 71.6L278.5 71.6L279.2 71.4L279.9 71.3L280.6 71.3L281.3 70.9L282.0 70.7L282.7 70.7L283.4 70.7L284.1 70.7L284.8 71.0L285.5 71.7L286.2 71.7L286.9 71.0L287.6 70.7L288.3 70.7L289.0 70.8L289.7 71.5L290.4 71.5L291.1 70.8L291.8 70.7L292.5 70.7L293.2 70.7L293.9 70.7L294.6 70.7L295.3 70.7L296.0 70.7L296.7 70.7L297.4 70.7L298.1 70.7L298.8 70.7L299.5 70.8L300.2 70.9L300.9 71.2L301.6 71.3L302.3 71.2L303.0 71.2L303.7 71.4L304.4 71.5L305.1 71.5L305.8 71.6L306.5 71.8L307.2 71.6L307.9 71.3L308.6 71.0L309.3 71.0L310.0 71.4L310.7 72.3L311.4 73.3L312.1 74.1L312.8 74.0L313.5 73.5L314.2 72.6L314.9 71.4L315.6 70.8L316.3 70.7L317.0 70.9L317.7 71.5L318.4 72.4L319.1 71.9L319.8 71.3L320.5 71.9L321.2 73.2L321.9 74.0L322.6 73.2L323.3 71.7L324.0 70.9L324.7 70.8L325.4 71.3L326.1 72.7L326.8 73.7L327.5 72.9L328.2 71.8L328.9 71.6L329.6 71.6L330.3 71.4L331.0 71.2L331.7 71.1L332.4 71.0L333.1 71.0L333.8 71.2L334.5 71.1L335.2 70.9L335.9 70.7L336.6 70.7L337.3 70.7L338.0 70.7L338.7 70.7L339.4 70.7L340.1 70.7L340.8 71.1L341.5 71.9L342.2 72.4L342.9 72.3L343.6 73.2L344.3 73.2L345.0 72.0L345.7 71.5L346.4 71.6L347.1 71.9L347.8 72.1L348.5 72.2L349.2 72.2L349.9 72.1L350.6 71.9L351.3 71.7L352.0 71.3L352.7 71.0L353.4 70.8L354.1 70.7L354.8 70.7L355.5 70.8L356.2 71.3L356.9 72.0L357.6 72.0L359.6 70.7" fill="#e03030" stroke="#c21a1a" stroke-width="0.8" fill-opacity="0.5" stroke-linejoin="round"/><line x1="201.50" y1="70.70" x2="358.30" y2="70.70" stroke="#c21a1a" stroke-width="0.8" /><path d="M199.5 114.5L201.5 114.5L202.2 114.5L202.9 114.5L203.6 114.5L204.3 114.5L205.0 114.4L205.7 114.3L206.4 114.2L207.1 114.3L207.8 114.5L208.5 114.5L209.2 114.4L209.9 114.1L210.6 114.0L211.3 113.8L212.0 113.7L212.7 114.1L213.4 114.4L214.1 114.5L214.8 114.5L215.5 114.5L216.2 114.5L216.9 114.5L217.6 114.5L218.3 114.5L219.0 114.5L219.7 114.5L220.4 114.4L221.1 114.3L221.8 113.9L222.5 113.4L223.2 113.2L223.9 113.5L224.6 113.7L225.3 113.6L226.0 113.4L226.7 113.3L227.4 113.4L228.1 113.7L228.8 113.9L229.5 113.7L230.2 113.7L230.9 114.0L231.6 113.6L232.3 112.9L233.0 111.9L233.7 111.1L234.4 111.3L235.1 112.4L235.8 113.3L236.5 113.8L237.2 114.1L237.9 114.3L238.6 114.4L239.3 114.2L240.0 113.8L240.7 114.2L241.4 114.5L242.1 114.5L242.8 114.5L243.5 114.5L244.2 114.4L244.9 114.3L245.6 114.1L246.3 113.8L247.0 113.4L247.7 112.9L248.4 112.6L249.1 112.5L249.8 112.6L250.5 112.7L251.2 113.0L251.9 113.5L252.6 113.9L253.3 114.1L254.0 114.1L254.7 114.0L255.4 113.8L256.1 113.7L256.8 114.0L257.5 114.2L258.2 114.2L258.9 114.1L259.6 114.1L260.3 114.1L261.0 113.9L261.7 113.6L262.4 113.7L263.1 114.2L263.8 114.5L264.5 114.5L265.2 114.4L265.9 113.9L266.6 112.5L267.3 111.5L268.0 112.5L268.7 113.9L269.4 114.4L270.1 114.5L270.8 114.4L271.5 114.3L272.2 114.0L272.9 113.8L273.6 114.1L274.3 114.3L275.0 114.4L275.7 113.9L276.4 112.5L277.1 111.5L277.8 112.5L278.5 113.9L279.2 114.4L279.9 114.1L280.6 112.7L281.3 110.4L282.0 109.8L282.7 111.9L283.4 113.6L284.1 113.6L284.8 112.3L285.5 110.5L286.2 109.6L286.9 111.0L287.6 112.6L288.3 112.9L289.0 113.3L289.7 111.9L290.4 107.0L291.1 108.1L291.8 113.1L292.5 114.4L293.2 114.5L293.9 114.5L294.6 114.5L295.3 114.5L296.0 114.5L296.7 114.5L297.4 114.5L298.1 114.5L298.8 114.5L299.5 114.5L300.2 114.5L300.9 114.5L301.6 114.4L302.3 114.1L303.0 113.6L303.7 113.7L304.4 113.8L305.1 114.1L305.8 113.9L306.5 111.7L307.2 107.6L307.9 108.3L308.6 112.4L309.3 114.0L310.0 114.2L310.7 114.2L311.4 114.2L312.1 114.2L312.8 114.0L313.5 113.0L314.2 111.5L314.9 111.1L315.6 112.2L316.3 113.3L317.0 113.9L317.7 113.9L318.4 113.8L319.1 114.2L319.8 114.5L320.5 114.4L321.2 114.2L321.9 113.5L322.6 111.5L323.3 109.1L324.0 108.9L324.7 111.3L325.4 113.5L326.1 114.1L326.8 113.9L327.5 114.0L328.2 114.4L328.9 114.5L329.6 114.5L330.3 114.2L331.0 110.9L331.7 108.0L332.4 112.9L333.1 114.4L333.8 114.5L334.5 114.5L335.2 114.5L335.9 114.5L336.6 114.4L337.3 114.2L338.0 113.9L338.7 114.1L339.4 114.4L340.1 114.5L340.8 114.5L341.5 114.5L342.2 114.4L342.9 114.2L343.6 114.0L344.3 113.9L345.0 114.0L345.7 114.2L346.4 114.3L347.1 114.4L347.8 114.3L348.5 113.8L349.2 113.3L349.9 113.4L350.6 113.4L351.3 113.4L352.0 113.7L352.7 114.0L353.4 114.0L354.1 113.8L354.8 113.6L355.5 113.5L356.2 113.6L356.9 114.0L357.6 114.0L359.6 114.5" fill="#9a9a9a" stroke="#3c3c3c" stroke-width="0.8" fill-opacity="0.95" stroke-linejoin="round"/><path d="M199.5 114.5L201.5 114.5L202.2 114.6L202.9 114.8L203.6 115.3L204.3 116.0L205.0 116.4L205.7 116.1L206.4 115.4L207.1 115.0L207.8 114.8L208.5 114.7L209.2 115.2L209.9 115.3L210.6 114.8L211.3 114.5L212.0 114.5L212.7 114.5L213.4 114.5L214.1 114.5L214.8 114.6L215.5 114.7L216.2 114.9L216.9 114.8L217.6 114.6L218.3 114.8L219.0 115.0L219.7 115.2L220.4 115.2L221.1 115.1L221.8 115.1L222.5 115.2L223.2 115.2L223.9 115.2L224.6 115.0L225.3 114.8L226.0 114.6L226.7 114.5L227.4 114.5L228.1 114.5L228.8 114.6L229.5 114.9L230.2 115.0L230.9 114.9L231.6 115.1L232.3 115.5L233.0 115.8L233.7 116.0L234.4 115.9L235.1 115.8L235.8 115.3L236.5 114.8L237.2 114.7L237.9 114.9L238.6 115.6L239.3 116.6L240.0 117.0L240.7 116.2L241.4 115.2L242.1 114.7L242.8 114.5L243.5 114.5L244.2 114.7L244.9 114.9L245.6 115.4L246.3 116.1L247.0 116.7L247.7 117.0L248.4 116.7L249.1 116.1L249.8 115.5L250.5 115.7L251.2 117.4L251.9 120.0L252.6 120.6L253.3 118.4L254.0 116.3L254.7 115.7L255.4 115.9L256.1 116.3L256.8 116.8L257.5 117.1L258.2 117.0L258.9 116.5L259.6 115.6L260.3 115.1L261.0 114.9L261.7 114.8L262.4 114.7L263.1 114.8L263.8 114.9L264.5 114.6L265.2 114.6L265.9 117.1L266.6 121.5L267.3 117.1L268.0 114.7L268.7 116.2L269.4 121.2L270.1 118.2L270.8 114.8L271.5 114.5L272.2 114.5L272.9 114.8L273.6 115.5L274.3 115.2L275.0 114.8L275.7 114.6L276.4 114.7L277.1 115.1L277.8 115.3L278.5 115.2L279.2 116.1L279.9 118.6L280.6 120.0L281.3 118.5L282.0 116.9L282.7 116.8L283.4 119.5L284.1 122.7L284.8 119.0L285.5 115.7L286.2 114.9L286.9 114.6L287.6 114.6L288.3 115.0L289.0 116.8L289.7 119.2L290.4 118.8L291.1 116.3L291.8 114.9L292.5 114.8L293.2 115.6L293.9 117.6L294.6 120.1L295.3 120.7L296.0 118.8L296.7 116.6L297.4 115.5L298.1 115.5L298.8 115.9L299.5 116.4L300.2 116.8L300.9 117.0L301.6 116.8L302.3 116.5L303.0 116.1L303.7 115.8L304.4 115.3L305.1 114.9L305.8 114.9L306.5 114.9L307.2 114.9L307.9 115.2L308.6 115.2L309.3 114.8L310.0 114.5L310.7 114.5L311.4 114.5L312.1 114.8L312.8 114.9L313.5 115.1L314.2 115.6L314.9 115.3L315.6 115.0L316.3 114.9L317.0 115.0L317.7 115.2L318.4 115.1L319.1 115.0L319.8 114.9L320.5 114.8L321.2 114.7L321.9 114.8L322.6 115.1L323.3 115.3L324.0 115.2L324.7 115.1L325.4 114.8L326.1 114.6L326.8 114.7L327.5 115.1L328.2 115.7L328.9 116.0L329.6 115.7L330.3 115.1L331.0 114.9L331.7 115.0L332.4 115.2L333.1 115.2L333.8 115.3L334.5 115.3L335.2 115.1L335.9 115.0L336.6 115.1L337.3 115.2L338.0 114.9L338.7 114.6L339.4 114.5L340.1 114.5L340.8 114.6L341.5 114.7L342.2 115.1L342.9 115.4L343.6 115.7L344.3 116.5L345.0 118.0L345.7 118.1L346.4 116.4L347.1 115.2L347.8 114.9L348.5 114.8L349.2 114.8L349.9 114.9L350.6 115.1L351.3 115.0L352.0 114.9L352.7 114.7L353.4 114.7L354.1 115.3L354.8 116.4L355.5 117.6L356.2 118.3L356.9 117.6L357.6 116.3L359.6 114.5" fill="#9a9a9a" stroke="#3c3c3c" stroke-width="0.8" fill-opacity="0.95" stroke-linejoin="round"/><line x1="201.50" y1="114.50" x2="358.30" y2="114.50" stroke="#3c3c3c" stroke-width="0.8" /></g><rect x="201.50" y="7.20" width="156.80" height="126.10" fill="none" stroke="#222" stroke-width="0.8" /><line x1="204.30" y1="133.30" x2="204.30" y2="135.80" stroke="#222" stroke-width="0.7" /><text x="204.30" y="144.10" font-size="7.7" fill="#222" text-anchor="middle">-8</text><line x1="218.30" y1="133.30" x2="218.30" y2="134.90" stroke="#222" stroke-width="0.7" /><line x1="232.30" y1="133.30" x2="232.30" y2="135.80" stroke="#222" stroke-width="0.7" /><text x="232.30" y="144.10" font-size="7.7" fill="#222" text-anchor="middle">-6</text><line x1="246.30" y1="133.30" x2="246.30" y2="134.90" stroke="#222" stroke-width="0.7" /><line x1="260.30" y1="133.30" x2="260.30" y2="135.80" stroke="#222" stroke-width="0.7" /><text x="260.30" y="144.10" font-size="7.7" fill="#222" text-anchor="middle">-4</text><line x1="274.30" y1="133.30" x2="274.30" y2="134.90" stroke="#222" stroke-width="0.7" /><line x1="288.30" y1="133.30" x2="288.30" y2="135.80" stroke="#222" stroke-width="0.7" /><text x="288.30" y="144.10" font-size="7.7" fill="#222" text-anchor="middle">-2</text><line x1="302.30" y1="133.30" x2="302.30" y2="134.90" stroke="#222" stroke-width="0.7" /><line x1="316.30" y1="133.30" x2="316.30" y2="135.80" stroke="#222" stroke-width="0.7" /><text x="316.30" y="144.10" font-size="7.7" fill="#222" text-anchor="middle">0</text><line x1="330.30" y1="133.30" x2="330.30" y2="134.90" stroke="#222" stroke-width="0.7" /><line x1="344.30" y1="133.30" x2="344.30" y2="135.80" stroke="#222" stroke-width="0.7" /><text x="344.30" y="144.10" font-size="7.7" fill="#222" text-anchor="middle">2</text><line x1="358.30" y1="133.30" x2="358.30" y2="134.90" stroke="#222" stroke-width="0.7" /><text x="280.00" y="153.80" font-size="9" fill="#222" text-anchor="middle">E-E<tspan dy="1.5" font-size="6.5">f</tspan><tspan dy="-1.5" font-size="0.1">&#8203;</tspan> (eV)</text><text x="194.00" y="70.00" font-size="9" fill="#222" text-anchor="middle" transform="rotate(-90 194.00 70.00)">Partial Density of States</text><rect x="206.60" y="11.70" width="13.30" height="10.20" fill="#3b67c9" stroke="none" stroke-width="0.8" /><text x="207.80" y="19.80" font-size="8.3" fill="#e8eefc">O<tspan dy="1.3" font-size="5.2">2c</tspan><tspan dy="-1.3" font-size="0.1">&#8203;</tspan></text><text x="207.70" y="36.50" font-size="8.3" fill="#2a5db0">O<tspan dy="1.3" font-size="5.2">1c</tspan><tspan dy="-1.3" font-size="0.1">&#8203;</tspan></text><rect x="206.60" y="54.30" width="13.30" height="10.40" fill="#f27878" stroke="none" stroke-width="0.8" /><text x="207.80" y="62.50" font-size="8.3" fill="#fdeeee">O<tspan dy="1.3" font-size="5.2">2c</tspan><tspan dy="-1.3" font-size="0.1">&#8203;</tspan></text><text x="207.70" y="83.20" font-size="8.3" fill="#e23232">O<tspan dy="1.3" font-size="5.2">1c</tspan><tspan dy="-1.3" font-size="0.1">&#8203;</tspan></text><rect x="206.60" y="118.20" width="13.30" height="10.30" fill="#858585" stroke="none" stroke-width="0.8" /><text x="207.80" y="126.40" font-size="8.3" fill="#f0f0f0">O<tspan dy="1.3" font-size="5.2">3c</tspan><tspan dy="-1.3" font-size="0.1">&#8203;</tspan></text><text x="283.40" y="44.30" font-size="7.1" fill="#3f8ce8">-0.88</text><path d="M304.1 46 L304.1 39.5" fill="none" stroke="#3f8ce8" stroke-width="0.9" /><path d="M302.9 40 L304.1 36.8 L305.3 40 Z" fill="#3f8ce8" stroke="none" stroke-width="0" /><text x="283.00" y="85.10" font-size="7.1" fill="#f04848">-0.91</text><path d="M303.5 86.8 L303.5 80.5" fill="none" stroke="#f04848" stroke-width="0.9" /><path d="M302.3 81 L303.5 77.8 L304.7 81 Z" fill="#f04848" stroke="none" stroke-width="0" /><text x="288.00" y="130.50" font-size="7.1" fill="#222">-2.29</text><path d="M284.1 131.8 L284.1 126.5" fill="none" stroke="#222" stroke-width="0.9" /><path d="M282.9 127 L284.1 123.8 L285.3 127 Z" fill="#222" stroke="none" stroke-width="0" /></g><g id="pc"><text x="378.40" y="6.90" font-size="9.5" fill="#000" font-weight="bold">c</text><clipPath id="cc7"><rect x="399.6" y="7.1" width="162.39999999999998" height="40.9"/></clipPath><clipPath id="cc7b"><rect x="404.4" y="27.2" width="67.452" height="20.8"/></clipPath><clipPath id="cc7a"><rect x="470.1" y="7.1" width="21.9" height="20.1"/></clipPath><defs><path id="cc7p" d="M399.1 27.2L399.1 27.2L402.7 27.2L408.0 27.2L413.4 27.2L417.5 27.2L419.9 27.3L421.3 27.3L422.4 27.4L423.7 27.6L425.4 27.8L427.3 28.0L429.1 28.2L430.7 28.7L432.0 29.3L433.1 30.1L434.1 31.0L435.1 32.2L435.9 33.7L436.7 35.5L437.4 37.4L438.1 39.2L438.8 41.1L439.3 43.0L439.9 44.6L440.5 45.2L441.1 44.5L441.7 42.9L442.3 40.9L442.9 39.2L443.6 37.9L444.3 36.7L444.9 35.6L445.6 34.7L446.1 34.1L446.6 33.6L447.2 33.2L447.8 32.7L448.4 31.9L449.2 31.0L449.9 30.1L450.8 29.4L451.8 29.0L452.8 28.8L454.0 28.8L455.2 28.7L456.7 28.7L458.3 28.7L459.9 28.8L461.3 28.8L462.6 28.7L463.6 28.6L464.7 28.4L465.7 28.2L466.9 28.0L468.0 27.9L469.2 27.7L470.1 27.5L470.8 27.3L471.3 27.2L471.7 27.0L472.3 26.6L473.0 25.9L473.8 25.1L474.6 24.2L475.4 23.2L476.0 22.1L476.7 20.9L477.3 19.8L477.8 19.0L478.2 18.8L478.6 18.9L478.9 19.1L479.3 19.2L479.7 19.1L480.2 18.9L480.6 18.7L481.1 18.6L481.5 18.5L481.9 18.3L482.4 18.2L482.8 18.5L483.2 19.2L483.7 20.1L484.1 21.2L484.6 22.2L485.1 23.1L485.6 24.1L486.2 25.0L486.7 25.7L487.2 26.2L487.7 26.6L488.2 26.8L488.9 27.0L490.0 27.1L491.3 27.2L492.7 27.2L493.8 27.2L494.5 27.2L495.0 27.2L495.5 27.0L495.9 26.6L496.4 25.8L496.8 24.7L497.3 23.5L497.7 22.7L498.1 22.3L498.6 22.2L499.0 22.1L499.4 22.0L499.8 21.9L500.1 21.9L500.4 21.7L500.8 21.2L501.1 20.2L501.4 18.8L501.8 17.4L502.1 16.2L502.4 15.3L502.6 14.5L502.9 13.9L503.1 13.9L503.4 14.4L503.7 15.5L504.0 16.8L504.3 18.2L504.6 19.9L504.9 21.9L505.2 23.8L505.6 25.2L505.9 26.0L506.2 26.5L506.5 26.8L506.9 27.0L507.5 27.2L508.1 27.4L508.8 27.4L509.5 27.4L510.2 27.3L510.8 27.0L511.4 26.8L512.1 26.7L512.9 26.7L513.6 26.9L514.5 27.1L515.7 27.2L517.2 27.3L519.1 27.4L521.0 27.4L522.7 27.4L524.0 27.3L525.1 27.0L526.1 26.8L527.0 26.7L528.0 26.7L528.8 26.9L529.7 27.0L530.5 27.0L531.4 26.9L532.3 26.6L533.2 26.4L534.0 26.2L534.9 26.2L535.9 26.3L536.7 26.4L537.6 26.4L538.3 26.3L538.9 26.2L539.6 26.0L540.2 25.7L540.8 25.3L541.3 24.7L541.9 24.2L542.4 23.7L542.8 23.3L543.2 22.8L543.5 22.5L543.9 22.4L544.2 22.5L544.6 22.9L545.0 23.3L545.4 23.7L546.0 24.1L546.7 24.6L547.4 25.1L548.1 25.4L548.6 25.6L549.2 25.8L549.7 25.9L550.3 25.7L550.8 25.2L551.4 24.5L551.9 23.8L552.4 23.2L552.9 22.8L553.3 22.4L553.7 22.1L554.2 21.9L554.7 21.7L555.3 21.6L555.9 21.6L556.4 21.8L556.9 22.3L557.3 23.1L557.7 24.0L558.1 24.7L558.6 25.2L559.0 25.7L559.4 26.1L559.9 26.3L560.5 26.3L561.1 26.1L561.7 25.9L562.1 25.7L565.0 25.7L565.0 27.2"/></defs><use href="#cc7p" fill="#3f7fe0" clip-path="url(#cc7b)"/><use href="#cc7p" fill="#a9c9f2" clip-path="url(#cc7a)"/><line x1="399.60" y1="27.20" x2="562.00" y2="27.20" stroke="#777" stroke-width="0.6" /><g clip-path="url(#cc7)"><use href="#cc7p" fill="none" stroke="#1c50a8" stroke-width="1.25" stroke-linejoin="round"/></g><rect x="399.60" y="7.10" width="162.40" height="40.90" fill="none" stroke="#222" stroke-width="0.8" /><clipPath id="cc50"><rect x="399.6" y="50.4" width="162.39999999999998" height="40.1"/></clipPath><clipPath id="cc50b"><rect x="404.4" y="70.0" width="61.32" height="20.5"/></clipPath><clipPath id="cc50a"><rect x="465.72" y="50.4" width="26.28" height="19.6"/></clipPath><defs><path id="cc50p" d="M399.1 70.0L399.1 70.0L404.0 70.0L411.1 70.0L418.4 70.0L423.7 70.0L426.2 70.0L427.2 70.0L427.5 70.1L428.1 70.3L429.0 70.7L429.9 71.1L430.7 71.7L431.6 72.2L432.5 72.7L433.4 73.2L434.2 73.7L435.1 74.2L435.8 74.6L436.4 74.9L437.1 75.3L437.7 76.0L438.3 77.2L439.0 78.7L439.7 80.4L440.3 82.0L441.0 83.6L441.7 85.3L442.4 86.8L442.9 88.0L443.4 88.7L443.7 89.1L443.9 89.3L444.3 89.2L444.7 89.0L445.1 88.6L445.5 87.9L446.0 87.0L446.5 85.7L447.1 84.1L447.6 82.4L448.2 81.0L448.7 80.0L449.3 79.1L449.8 78.4L450.4 77.8L450.9 77.4L451.5 77.3L452.0 77.1L452.6 76.8L453.2 76.2L453.8 75.5L454.5 74.7L455.2 74.0L456.0 73.3L456.9 72.5L457.8 71.8L458.7 71.2L459.6 70.8L460.5 70.6L461.3 70.4L462.2 70.2L463.1 70.0L464.0 69.9L464.9 69.8L465.7 69.7L466.4 69.6L467.0 69.6L467.6 69.5L468.3 69.2L469.2 68.6L470.0 67.9L471.0 67.0L471.9 66.0L472.7 64.9L473.7 63.6L474.5 62.2L475.4 61.0L476.1 59.8L476.8 58.6L477.4 57.5L478.0 56.7L478.4 56.1L478.8 55.7L479.1 55.5L479.5 55.4L479.8 55.5L480.2 55.8L480.6 56.3L481.1 57.0L481.5 58.0L482.1 59.3L482.6 60.7L483.2 62.0L483.9 63.3L484.5 64.7L485.2 65.9L485.9 67.0L486.5 67.8L487.1 68.5L487.8 69.1L488.5 69.5L489.3 69.8L490.2 69.9L491.1 70.0L492.0 70.0L492.9 70.1L493.8 70.1L494.7 70.1L495.5 70.0L496.1 69.9L496.7 69.9L497.2 69.7L497.7 69.2L498.3 68.4L498.8 67.4L499.4 66.3L499.9 65.0L500.4 63.6L500.8 62.0L501.2 60.5L501.6 59.0L502.0 57.6L502.3 56.2L502.7 54.9L502.9 54.0L503.2 53.4L503.4 52.9L503.6 52.8L503.8 53.0L504.1 53.6L504.4 54.7L504.8 55.8L505.1 57.0L505.5 58.2L506.0 59.4L506.4 60.6L506.9 61.5L507.3 62.1L507.8 62.4L508.2 62.6L508.6 62.8L509.1 62.9L509.5 62.9L510.0 63.0L510.4 63.2L510.8 63.7L511.2 64.4L511.7 65.2L512.1 66.0L512.7 66.8L513.2 67.7L513.8 68.6L514.3 69.2L514.7 69.6L514.9 69.8L515.4 69.9L516.5 70.0L518.5 70.1L521.1 70.0L524.0 70.0L527.0 70.0L530.4 70.0L534.0 70.0L537.5 70.0L540.2 70.0L541.8 69.9L542.6 69.8L543.1 69.7L543.7 69.5L544.4 69.3L545.1 69.0L545.7 68.8L546.3 68.5L546.8 68.2L547.2 67.9L547.6 67.7L548.1 67.6L548.5 67.7L548.9 68.0L549.4 68.3L549.8 68.5L550.3 68.4L550.7 68.3L551.1 68.0L551.6 67.8L552.0 67.5L552.4 67.2L552.9 66.9L553.3 66.8L553.7 67.0L554.1 67.5L554.6 68.1L555.1 68.5L555.6 68.9L556.2 69.2L556.9 69.4L557.7 69.6L558.8 69.6L560.1 69.5L561.3 69.3L562.1 69.2L565.0 69.2L565.0 70.0"/></defs><use href="#cc50p" fill="#f05858" clip-path="url(#cc50b)"/><use href="#cc50p" fill="#f8baba" clip-path="url(#cc50a)"/><line x1="399.60" y1="70.00" x2="562.00" y2="70.00" stroke="#777" stroke-width="0.6" /><g clip-path="url(#cc50)"><use href="#cc50p" fill="none" stroke="#b81818" stroke-width="1.25" stroke-linejoin="round"/></g><rect x="399.60" y="50.40" width="162.40" height="40.10" fill="none" stroke="#222" stroke-width="0.8" /><clipPath id="cc92"><rect x="399.6" y="92.8" width="162.39999999999998" height="40.39999999999999"/></clipPath><clipPath id="cc92b"><rect x="404.4" y="113.2" width="63.072" height="19.999999999999986"/></clipPath><clipPath id="cc92a"><rect x="485.868" y="92.8" width="6.132" height="20.400000000000006"/></clipPath><defs><path id="cc92p" d="M399.1 113.2L399.1 113.2L401.4 113.2L404.7 113.1L408.1 113.1L410.5 113.2L411.7 113.4L412.2 113.6L412.4 113.9L412.7 114.2L413.2 114.5L413.6 114.9L414.0 115.2L414.5 115.3L414.9 115.1L415.3 114.8L415.7 114.3L416.2 114.0L416.7 113.7L417.3 113.5L418.0 113.3L419.3 113.2L421.4 113.1L424.2 113.1L426.9 113.1L428.9 113.2L430.0 113.3L430.6 113.3L430.9 113.5L431.3 114.0L431.7 114.8L432.1 116.0L432.5 117.2L432.9 118.2L433.2 119.1L433.5 120.0L433.8 120.6L434.2 120.9L434.6 120.6L435.1 119.9L435.5 119.1L435.9 118.7L436.2 118.6L436.5 118.7L436.7 119.1L437.0 120.2L437.4 122.5L437.8 125.7L438.2 128.7L438.6 130.4L438.9 130.2L439.3 128.7L439.6 126.8L439.9 125.2L440.1 123.9L440.3 122.6L440.5 121.6L440.8 120.9L441.0 120.8L441.3 121.2L441.6 121.7L441.9 122.2L442.2 122.7L442.4 123.4L442.7 123.9L442.9 123.8L443.2 122.9L443.6 121.3L443.9 119.7L444.3 118.2L444.7 117.0L445.1 115.7L445.5 114.8L446.0 114.2L446.5 114.2L447.1 114.7L447.7 115.4L448.2 116.0L448.7 116.6L449.1 117.3L449.5 117.9L450.0 118.2L450.4 118.0L450.9 117.4L451.3 116.7L451.7 116.2L452.1 115.9L452.4 115.7L452.7 115.6L453.0 115.6L453.4 115.9L453.9 116.3L454.4 116.8L454.8 117.2L455.1 117.6L455.4 118.0L455.7 118.2L456.1 118.2L456.5 117.7L456.9 116.8L457.4 115.9L457.8 115.2L458.3 114.8L458.7 114.5L459.1 114.3L459.6 114.2L460.0 114.3L460.5 114.6L461.0 115.0L461.3 115.2L461.6 115.4L461.8 115.5L462.0 115.6L462.2 115.5L462.6 115.2L463.0 114.8L463.4 114.4L464.0 114.0L464.5 113.7L465.2 113.5L465.9 113.3L466.6 113.2L467.4 113.1L468.3 113.1L469.3 113.0L470.1 112.9L470.8 112.7L471.5 112.4L472.1 112.1L472.7 111.7L473.3 111.2L473.9 110.6L474.4 110.1L474.9 109.9L475.5 110.2L476.0 110.8L476.5 111.5L477.1 112.0L477.7 112.3L478.4 112.6L479.1 112.8L479.7 112.9L480.4 112.8L481.0 112.6L481.7 112.3L482.4 112.2L483.0 112.3L483.7 112.6L484.4 112.9L485.0 112.9L485.6 112.8L486.1 112.5L486.6 112.1L487.2 111.2L487.7 109.8L488.3 108.0L488.9 106.0L489.4 104.2L489.9 102.5L490.3 100.7L490.7 99.2L491.1 98.2L491.5 97.8L491.8 98.0L492.1 98.4L492.4 99.2L492.8 100.4L493.3 101.9L493.7 103.6L494.2 105.2L494.6 106.8L495.1 108.5L495.6 109.9L495.9 111.0L496.2 111.6L496.4 111.9L496.6 111.8L496.8 111.4L497.1 110.5L497.4 109.1L497.8 107.6L498.1 106.2L498.5 104.7L498.9 103.2L499.3 101.9L499.7 101.2L500.1 101.3L500.4 102.0L500.8 103.1L501.2 104.2L501.6 105.5L502.0 106.9L502.5 108.4L502.9 109.7L503.4 110.7L503.9 111.6L504.4 112.4L505.1 112.9L506.0 113.2L507.1 113.3L508.3 113.3L509.5 113.2L511.0 113.1L512.6 112.9L514.2 112.7L515.7 112.6L516.8 112.7L517.7 112.9L518.7 113.1L520.0 113.2L522.0 113.2L524.5 113.2L526.9 113.1L528.8 112.9L530.1 112.6L530.9 112.2L531.6 111.8L532.3 111.7L533.0 111.9L533.6 112.2L534.2 112.6L534.9 113.0L536.0 113.4L537.2 113.8L538.4 114.1L539.3 114.2L539.8 114.0L540.2 113.6L540.4 113.0L540.6 112.2L541.0 111.1L541.3 109.8L541.6 108.4L541.9 107.2L542.2 106.1L542.5 105.1L542.8 104.4L543.1 104.1L543.4 104.4L543.7 105.1L544.0 106.1L544.4 107.2L544.7 108.5L545.0 109.9L545.4 111.4L545.9 112.4L546.5 112.9L547.3 113.2L548.1 113.2L548.9 113.2L549.8 113.1L550.7 113.0L551.7 112.7L552.4 112.4L553.1 112.0L553.7 111.5L554.2 111.1L554.6 110.7L555.1 110.4L555.5 110.1L555.8 109.9L556.2 109.9L556.6 110.3L557.0 111.0L557.3 111.7L557.7 112.2L558.0 112.4L558.4 112.4L558.7 112.2L559.0 111.7L559.3 110.8L559.6 109.7L560.0 108.4L560.3 107.2L560.8 106.1L561.3 105.0L561.8 104.1L562.1 103.4L565.0 103.4L565.0 113.2"/></defs><use href="#cc92p" fill="#6e6e6e" clip-path="url(#cc92b)"/><use href="#cc92p" fill="#cfcfcf" clip-path="url(#cc92a)"/><line x1="399.60" y1="113.20" x2="562.00" y2="113.20" stroke="#777" stroke-width="0.6" /><g clip-path="url(#cc92)"><use href="#cc92p" fill="none" stroke="#222" stroke-width="1.25" stroke-linejoin="round"/></g><rect x="399.60" y="92.80" width="162.40" height="40.40" fill="none" stroke="#222" stroke-width="0.8" /><line x1="492.00" y1="7.10" x2="492.00" y2="133.20" stroke="#222" stroke-width="0.55" stroke-dasharray="0.8 0.7"/><line x1="397.00" y1="8.80" x2="399.60" y2="8.80" stroke="#222" stroke-width="0.7" /><text x="396.00" y="11.50" font-size="7.7" fill="#222" text-anchor="end">-2</text><line x1="397.00" y1="27.20" x2="399.60" y2="27.20" stroke="#222" stroke-width="0.7" /><text x="396.00" y="29.90" font-size="7.7" fill="#222" text-anchor="end">0</text><line x1="397.00" y1="45.80" x2="399.60" y2="45.80" stroke="#222" stroke-width="0.7" /><text x="396.00" y="48.50" font-size="7.7" fill="#222" text-anchor="end">2</text><line x1="398.10" y1="18.00" x2="399.60" y2="18.00" stroke="#222" stroke-width="0.7" /><line x1="398.10" y1="36.50" x2="399.60" y2="36.50" stroke="#222" stroke-width="0.7" /><line x1="397.00" y1="59.00" x2="399.60" y2="59.00" stroke="#222" stroke-width="0.7" /><text x="396.00" y="61.70" font-size="7.7" fill="#222" text-anchor="end">-1</text><line x1="397.00" y1="70.00" x2="399.60" y2="70.00" stroke="#222" stroke-width="0.7" /><text x="396.00" y="72.70" font-size="7.7" fill="#222" text-anchor="end">0</text><line x1="397.00" y1="81.20" x2="399.60" y2="81.20" stroke="#222" stroke-width="0.7" /><text x="396.00" y="83.90" font-size="7.7" fill="#222" text-anchor="end">1</text><line x1="398.10" y1="53.50" x2="399.60" y2="53.50" stroke="#222" stroke-width="0.7" /><line x1="398.10" y1="64.50" x2="399.60" y2="64.50" stroke="#222" stroke-width="0.7" /><line x1="398.10" y1="75.60" x2="399.60" y2="75.60" stroke="#222" stroke-width="0.7" /><line x1="398.10" y1="86.70" x2="399.60" y2="86.70" stroke="#222" stroke-width="0.7" /><line x1="397.00" y1="93.00" x2="399.60" y2="93.00" stroke="#222" stroke-width="0.7" /><text x="396.00" y="95.70" font-size="7.7" fill="#222" text-anchor="end">-1</text><line x1="397.00" y1="113.20" x2="399.60" y2="113.20" stroke="#222" stroke-width="0.7" /><text x="396.00" y="115.90" font-size="7.7" fill="#222" text-anchor="end">0</text><line x1="397.00" y1="133.20" x2="399.60" y2="133.20" stroke="#222" stroke-width="0.7" /><text x="396.00" y="135.90" font-size="7.7" fill="#222" text-anchor="end">1</text><line x1="398.10" y1="103.10" x2="399.60" y2="103.10" stroke="#222" stroke-width="0.7" /><line x1="398.10" y1="123.20" x2="399.60" y2="123.20" stroke="#222" stroke-width="0.7" /><line x1="404.40" y1="133.20" x2="404.40" y2="135.60" stroke="#222" stroke-width="0.7" /><text x="404.40" y="143.80" font-size="7.7" fill="#222" text-anchor="middle">-10</text><line x1="426.30" y1="133.20" x2="426.30" y2="134.60" stroke="#222" stroke-width="0.7" /><line x1="448.20" y1="133.20" x2="448.20" y2="135.60" stroke="#222" stroke-width="0.7" /><text x="448.20" y="143.80" font-size="7.7" fill="#222" text-anchor="middle">-5</text><line x1="470.10" y1="133.20" x2="470.10" y2="134.60" stroke="#222" stroke-width="0.7" /><line x1="492.00" y1="133.20" x2="492.00" y2="135.60" stroke="#222" stroke-width="0.7" /><text x="492.00" y="143.80" font-size="7.7" fill="#222" text-anchor="middle">0</text><line x1="513.90" y1="133.20" x2="513.90" y2="134.60" stroke="#222" stroke-width="0.7" /><line x1="535.80" y1="133.20" x2="535.80" y2="135.60" stroke="#222" stroke-width="0.7" /><text x="535.80" y="143.80" font-size="7.7" fill="#222" text-anchor="middle">5</text><line x1="557.70" y1="133.20" x2="557.70" y2="134.60" stroke="#222" stroke-width="0.7" /><text x="481.50" y="154.20" font-size="9" fill="#222" text-anchor="middle">E-E<tspan dy="1.5" font-size="6.5">f</tspan><tspan dy="-1.5" font-size="0.1">&#8203;</tspan> (eV)</text><text x="383.50" y="70.50" font-size="9" fill="#222" text-anchor="middle" transform="rotate(-90 383.50 70.50)">- COHP</text><text x="402.30" y="21.60" font-size="7.1" fill="#3a6cc0">(1100)</text><text x="428.20" y="21.60" font-size="7.1" fill="#3a6cc0">IpCOHP=3.71</text><line x1="408.80" y1="15.10" x2="412.10" y2="15.10" stroke="#3a6cc0" stroke-width="0.5" /><text x="402.30" y="65.40" font-size="7.1" fill="#d23030">(1010)</text><text x="428.20" y="65.40" font-size="7.1" fill="#d23030">IpCOHP=3.70</text><line x1="412.80" y1="58.90" x2="416.10" y2="58.90" stroke="#d23030" stroke-width="0.5" /><text x="402.30" y="108.90" font-size="7.1" fill="#505050">(1000)</text><text x="428.20" y="108.90" font-size="7.1" fill="#505050">IpCOHP=1.87</text><text x="559.90" y="16.00" font-size="7.1" fill="#222" text-anchor="end">anti-bond</text><text x="559.90" y="41.30" font-size="7.1" fill="#222" text-anchor="end">bond</text><text x="559.90" y="60.20" font-size="7.1" fill="#222" text-anchor="end">anti-bond</text><text x="559.90" y="83.70" font-size="7.1" fill="#222" text-anchor="end">bond</text><text x="559.90" y="101.60" font-size="7.1" fill="#222" text-anchor="end">anti-bond</text><text x="559.90" y="126.70" font-size="7.1" fill="#222" text-anchor="end">bond</text></g><g id="pd"><text x="581.00" y="7.20" font-size="9.5" fill="#000" font-weight="bold">d</text><clipPath id="dl0"><rect x="580" y="1.5" width="68.89999999999998" height="60"/></clipPath><clipPath id="db0"><path d="M634.6 61.5 A10.5 46.7 0 0 1 655.6 61.5 Z"/></clipPath><path d="M603.9 61.5 A29.9 20.1 0 0 1 663.7 61.5 Z" fill="#f26a70" stroke="none" stroke-width="0" clip-path="url(#dl0)"/><path d="M634.6 61.5 A10.5 46.7 0 0 1 655.6 61.5 Z" fill="#a6d4fb" stroke="none" stroke-width="0" clip-path="url(#dl0)"/><g clip-path="url(#db0)"><path d="M603.9 61.5 A29.9 20.1 0 0 1 663.7 61.5 Z" fill="#8fa6d6" stroke="none" stroke-width="0" clip-path="url(#dl0)"/></g><path d="M603.9 61.5 A29.9 20.1 0 0 1 663.7 61.5 Z" fill="none" stroke="#e04848" stroke-width="0.5" /><path d="M634.6 61.5 A10.5 46.7 0 0 1 655.6 61.5 Z" fill="none" stroke="#2f6db4" stroke-width="0.6" /><line x1="648.90" y1="8.00" x2="648.90" y2="61.50" stroke="#222" stroke-width="0.95" stroke-dasharray="2.8 1.6"/><line x1="584.00" y1="61.50" x2="677.00" y2="61.50" stroke="#111" stroke-width="0.9" /><path d="M679.8 61.5 L674.5 59.3 L675.8 61.5 L674.5 63.7 Z" fill="#111" stroke="none" stroke-width="0" /><text x="588.70" y="20.10" font-size="6.8" fill="#222">Lateral</text><text x="603.90" y="40.90" font-size="6.8" fill="#e03434">O 2<tspan font-style="italic">p</tspan></text><text x="653.70" y="27.00" font-size="6.8" fill="#2c62b0">Co 3<tspan font-style="italic">d</tspan></text><text x="659.30" y="73.00" font-size="8.6" fill="#222">E<tspan dy="1.6" font-size="6.8">f</tspan><tspan dy="-1.6" font-size="0.1">&#8203;</tspan> (eV)</text><clipPath id="dl1"><rect x="580" y="81.19999999999999" width="75.39999999999998" height="60"/></clipPath><clipPath id="db1"><path d="M639.1 141.2 A10.6 48.8 0 0 1 660.3 141.2 Z"/></clipPath><path d="M593.7 141.2 A28.7 27.0 0 0 1 651.1 141.2 Z" fill="#f26a70" stroke="none" stroke-width="0" clip-path="url(#dl1)"/><path d="M639.1 141.2 A10.6 48.8 0 0 1 660.3 141.2 Z" fill="#a6d4fb" stroke="none" stroke-width="0" clip-path="url(#dl1)"/><g clip-path="url(#db1)"><path d="M593.7 141.2 A28.7 27.0 0 0 1 651.1 141.2 Z" fill="#8fa6d6" stroke="none" stroke-width="0" clip-path="url(#dl1)"/></g><path d="M593.7 141.2 A28.7 27.0 0 0 1 651.1 141.2 Z" fill="none" stroke="#e04848" stroke-width="0.5" /><path d="M639.1 141.2 A10.6 48.8 0 0 1 660.3 141.2 Z" fill="none" stroke="#2f6db4" stroke-width="0.6" /><line x1="655.40" y1="87.50" x2="655.40" y2="141.20" stroke="#222" stroke-width="0.95" stroke-dasharray="2.8 1.6"/><line x1="584.00" y1="141.20" x2="677.00" y2="141.20" stroke="#111" stroke-width="0.9" /><path d="M679.8 141.2 L674.5 139.0 L675.8 141.2 L674.5 143.39999999999998 Z" fill="#111" stroke="none" stroke-width="0" /><text x="590.90" y="99.40" font-size="6.8" fill="#222">Basal</text><text x="608.70" y="110.70" font-size="6.8" fill="#e03434">O 2<tspan font-style="italic">p</tspan></text><text x="658.30" y="103.60" font-size="6.8" fill="#2c62b0">Co 3<tspan font-style="italic">d</tspan></text><text x="659.30" y="152.40" font-size="8.6" fill="#222">E<tspan dy="1.6" font-size="6.8">f</tspan><tspan dy="-1.6" font-size="0.1">&#8203;</tspan> (eV)</text></g><g id="pe"><text x="0.30" y="176.90" font-size="9.5" fill="#000" font-weight="bold">e</text><polygon points="14.0,187.4 63.1,180.8 1.4,214.6" fill="#c6f6fb" fill-opacity="1" stroke="#111" stroke-width="0.75" stroke-linejoin="round"/><polygon points="1.4,214.6 63.1,180.8 63.6,215.0 1.4,250.0" fill="#e2f3fb" fill-opacity="1" stroke="#111" stroke-width="0.75" stroke-linejoin="round"/><polygon points="14.2,222.5 49.5,242.5 49.5,277.6 14.2,258.8" fill="#1290ea" fill-opacity="1" stroke="#062c50" stroke-width="0.7" stroke-linejoin="round"/><polygon points="49.5,242.5 97.9,235.4 97.9,269.8 49.5,277.6" fill="#0c7fd6" fill-opacity="1" stroke="#062c50" stroke-width="0.7" stroke-linejoin="round"/><polygon points="97.9,235.4 112.0,207.3 112.0,241.8 97.9,269.8" fill="#064a7c" fill-opacity="1" stroke="#062c50" stroke-width="0.7" stroke-linejoin="round"/><polygon points="14.2,222.5 75.9,186.5 112.0,207.3 97.9,235.4 49.5,242.5" fill="#c0f7fc" fill-opacity="1" stroke="#111" stroke-width="0.75" stroke-linejoin="round"/><text x="84.10" y="186.00" font-size="6.7" fill="#222">(1100)</text><line x1="90.10" y1="179.90" x2="93.20" y2="179.90" stroke="#222" stroke-width="0.45" /><circle cx="55.20" cy="190.80" r="0.80" fill="#111" /><line x1="55.20" y1="190.80" x2="124.00" y2="190.80" stroke="#222" stroke-width="0.55" marker-end="url(#arK2)"/><text x="75.00" y="222.80" font-size="6.7" fill="#222">(0001)</text><circle cx="96.70" cy="221.60" r="0.80" fill="#111" /><line x1="96.70" y1="221.60" x2="125.80" y2="277.30" stroke="#222" stroke-width="0.55" marker-end="url(#arK2)"/><text x="61.30" y="257.00" font-size="6.7" fill="#222">(1010)</text><line x1="71.00" y1="250.90" x2="74.10" y2="250.90" stroke="#222" stroke-width="0.45" /><circle cx="71.00" cy="260.50" r="0.80" fill="#111" /><line x1="71.00" y1="260.50" x2="70.40" y2="280.40" stroke="#222" stroke-width="0.55" marker-end="url(#arK2)"/><polygon points="135.8,185.2 149.9,179.3 149.9,196.4 135.8,202.3" fill="#dde7f3" fill-opacity="1" stroke="#111" stroke-width="0.7" /><polygon points="135.8,202.3 149.9,196.4 149.9,213.0 135.8,218.7" fill="#dde7f3" fill-opacity="1" stroke="#111" stroke-width="0.7" /><polygon points="135.8,218.7 149.9,213.0 149.9,229.5 135.8,235.8" fill="#dde7f3" fill-opacity="1" stroke="#111" stroke-width="0.7" /><polygon points="135.8,235.8 149.9,229.5 149.9,246.5 135.8,252.4" fill="#dde7f3" fill-opacity="1" stroke="#111" stroke-width="0.7" /><use href="#Co38" x="142.9" y="190.6"/><use href="#Co38" x="142.9" y="207.5"/><use href="#Co38" x="142.9" y="224.1"/><use href="#Co38" x="142.9" y="240.8"/><use href="#O21" x="135.8" y="185.2"/><use href="#O21" x="135.8" y="202.3"/><use href="#O21" x="135.8" y="218.7"/><use href="#O21" x="135.8" y="235.8"/><use href="#O21" x="135.8" y="252.4"/><use href="#O21" x="149.9" y="179.3"/><use href="#O21" x="149.9" y="196.4"/><use href="#O21" x="149.9" y="213.0"/><use href="#O21" x="149.9" y="229.5"/><circle cx="150.1" cy="246.5" r="3.8" fill="#8a9a48" stroke="#30e4dc" stroke-width="1"/><circle cx="150.10" cy="246.50" r="1.90" fill="url(#gO)" opacity="0.18"/><text x="154.40" y="256.00" font-size="6.5" fill="#222" text-anchor="middle">2</text><polygon points="165.3,196.0 179.7,190.1 179.7,207.1 165.3,212.5" fill="#dde7f3" fill-opacity="1" stroke="#111" stroke-width="0.7" /><polygon points="165.3,212.5 179.7,207.1 179.7,223.2 165.3,229.5" fill="#dde7f3" fill-opacity="1" stroke="#111" stroke-width="0.7" /><polygon points="165.3,229.5 179.7,223.2 179.7,240.2 165.3,246.5" fill="#dde7f3" fill-opacity="1" stroke="#111" stroke-width="0.7" /><polygon points="165.3,246.5 179.7,240.2 179.7,256.9 165.3,263.2" fill="#dde7f3" fill-opacity="1" stroke="#111" stroke-width="0.7" /><use href="#Co38" x="172.3" y="201.4"/><use href="#Co38" x="172.3" y="217.8"/><use href="#Co38" x="172.3" y="251.9"/><use href="#O21" x="165.3" y="196.0"/><use href="#O21" x="165.3" y="212.5"/><use href="#O21" x="165.3" y="229.5"/><use href="#O21" x="165.3" y="246.5"/><use href="#O21" x="165.3" y="263.2"/><use href="#O21" x="179.7" y="190.1"/><use href="#O21" x="179.7" y="207.1"/><use href="#O21" x="179.7" y="240.2"/><use href="#O21" x="179.7" y="256.9"/><circle cx="179.7" cy="223.2" r="3.8" fill="#8a9a48" stroke="#30e4dc" stroke-width="1"/><circle cx="179.70" cy="223.20" r="1.90" fill="url(#gO)" opacity="0.18"/><text x="185.60" y="225.20" font-size="6.5" fill="#222" text-anchor="middle">1</text><polygon points="167.0,231.6 177.6,231.6 172.3,240.6" fill="#3f8268" fill-opacity="1" stroke="#30e4dc" stroke-width="0.9" stroke-linejoin="round"/><polygon points="194.0,190.1 208.3,183.8 208.3,200.8 194.0,207.1" fill="#dde7f3" fill-opacity="1" stroke="#111" stroke-width="0.7" /><polygon points="194.0,207.1 208.3,200.8 208.3,217.5 194.0,223.8" fill="#dde7f3" fill-opacity="1" stroke="#111" stroke-width="0.7" /><polygon points="194.0,223.8 208.3,217.5 208.3,234.5 194.0,240.2" fill="#dde7f3" fill-opacity="1" stroke="#111" stroke-width="0.7" /><polygon points="194.0,240.2 208.3,234.5 208.3,251.3 194.0,257.3" fill="#dde7f3" fill-opacity="1" stroke="#111" stroke-width="0.7" /><use href="#Co38" x="201.2" y="195.1"/><use href="#Co38" x="201.2" y="211.9"/><use href="#Co38" x="201.2" y="228.6"/><use href="#Co38" x="201.2" y="245.3"/><use href="#O21" x="194.0" y="190.1"/><use href="#O21" x="194.0" y="207.1"/><use href="#O21" x="194.0" y="223.8"/><use href="#O21" x="194.0" y="240.2"/><use href="#O21" x="194.0" y="257.3"/><use href="#O21" x="208.3" y="183.8"/><use href="#O21" x="208.3" y="200.8"/><use href="#O21" x="208.3" y="217.5"/><use href="#O21" x="208.3" y="234.5"/><use href="#O21" x="208.3" y="251.3"/><polygon points="13.3,298.6 25.7,298.6 27.0,308.2 25.7,317.9 13.3,317.9 11.6,308.2" fill="#dde7f3" fill-opacity="1" stroke="#111" stroke-width="0.7" /><line x1="13.30" y1="298.60" x2="25.70" y2="317.90" stroke="#555" stroke-width="0.4" /><line x1="25.70" y1="298.60" x2="13.30" y2="317.90" stroke="#555" stroke-width="0.4" /><line x1="11.60" y1="308.20" x2="27.00" y2="308.20" stroke="#555" stroke-width="0.4" /><use href="#Co36" x="19.6" y="308.2"/><use href="#O21" x="13.3" y="298.6"/><use href="#O21" x="25.7" y="298.6"/><use href="#O21" x="27.0" y="308.2"/><use href="#O21" x="25.7" y="317.9"/><use href="#O21" x="13.3" y="317.9"/><use href="#O21" x="11.6" y="308.2"/><rect x="42.20" y="288.50" width="12.40" height="19.70" fill="#dde7f3" stroke="#111" stroke-width="0.7" /><rect x="42.20" y="308.20" width="12.40" height="19.60" fill="#dde7f3" stroke="#111" stroke-width="0.7" /><line x1="42.20" y1="288.50" x2="54.60" y2="308.20" stroke="#555" stroke-width="0.4" /><line x1="54.60" y1="288.50" x2="42.20" y2="308.20" stroke="#555" stroke-width="0.4" /><line x1="42.20" y1="308.20" x2="54.60" y2="327.80" stroke="#555" stroke-width="0.4" /><line x1="54.60" y1="308.20" x2="42.20" y2="327.80" stroke="#555" stroke-width="0.4" /><use href="#Co36" x="48.5" y="318.2"/><use href="#O21" x="42.2" y="288.5"/><use href="#O21" x="54.6" y="288.5"/><use href="#O21" x="41.0" y="298.6"/><use href="#O21" x="54.6" y="308.2"/><use href="#O21" x="41.0" y="318.2"/><use href="#O21" x="42.2" y="327.8"/><use href="#O21" x="54.6" y="327.8"/><circle cx="42.2" cy="308.2" r="3.8" fill="#8a9a48" stroke="#30e4dc" stroke-width="1"/><circle cx="42.20" cy="308.20" r="1.90" fill="url(#gO)" opacity="0.18"/><polygon points="43.4,295.4 53.8,295.4 48.6,304.4" fill="#3f8268" fill-opacity="1" stroke="#30e4dc" stroke-width="0.9" stroke-linejoin="round"/><text x="35.30" y="311.00" font-size="6.5" fill="#222" text-anchor="middle">1</text><rect x="70.70" y="288.50" width="12.30" height="19.70" fill="#dde7f3" stroke="#111" stroke-width="0.7" /><rect x="70.70" y="308.20" width="12.30" height="19.60" fill="#dde7f3" stroke="#111" stroke-width="0.7" /><line x1="70.70" y1="288.50" x2="83.00" y2="308.20" stroke="#555" stroke-width="0.4" /><line x1="83.00" y1="288.50" x2="70.70" y2="308.20" stroke="#555" stroke-width="0.4" /><line x1="70.70" y1="308.20" x2="83.00" y2="327.80" stroke="#555" stroke-width="0.4" /><line x1="83.00" y1="308.20" x2="70.70" y2="327.80" stroke="#555" stroke-width="0.4" /><line x1="70.70" y1="288.50" x2="85.10" y2="298.60" stroke="#555" stroke-width="0.4" /><line x1="70.70" y1="308.20" x2="85.10" y2="298.60" stroke="#555" stroke-width="0.4" /><line x1="70.70" y1="308.20" x2="85.10" y2="318.20" stroke="#555" stroke-width="0.4" /><line x1="70.70" y1="327.80" x2="85.10" y2="318.20" stroke="#555" stroke-width="0.4" /><use href="#Co36" x="77.1" y="298.6"/><use href="#Co36" x="77.1" y="318.2"/><use href="#O21" x="70.7" y="288.5"/><use href="#O21" x="83.0" y="288.5"/><use href="#O21" x="85.1" y="298.6"/><use href="#O21" x="70.7" y="308.2"/><use href="#O21" x="83.0" y="308.2"/><use href="#O21" x="69.4" y="318.2"/><use href="#O21" x="85.1" y="318.2"/><use href="#O21" x="70.7" y="327.8"/><use href="#O21" x="83.0" y="327.8"/><circle cx="69.4" cy="298.6" r="3.8" fill="#8a9a48" stroke="#30e4dc" stroke-width="1"/><circle cx="69.40" cy="298.60" r="1.90" fill="url(#gO)" opacity="0.18"/><text x="63.90" y="295.40" font-size="6.5" fill="#222" text-anchor="middle">2</text><polygon points="133.9,279.6 144.1,285.5 144.1,297.3 133.9,303.2 123.7,297.3 123.7,285.5" fill="#dde7f3" fill-opacity="1" stroke="#111" stroke-width="0.7" /><line x1="133.90" y1="291.40" x2="144.12" y2="285.50" stroke="#9aa4b4" stroke-width="0.4" /><line x1="133.90" y1="291.40" x2="133.90" y2="303.20" stroke="#9aa4b4" stroke-width="0.4" /><line x1="133.90" y1="291.40" x2="123.68" y2="285.50" stroke="#9aa4b4" stroke-width="0.4" /><polygon points="132.9,279.6 134.9,279.6 133.9,287.1" fill="#111" fill-opacity="1" stroke="none" stroke-width="0.5" /><polygon points="144.6,296.4 143.6,298.2 137.6,293.5" fill="#111" fill-opacity="1" stroke="none" stroke-width="0.5" /><polygon points="124.2,298.2 123.2,296.4 130.2,293.5" fill="#111" fill-opacity="1" stroke="none" stroke-width="0.5" /><polygon points="154.3,279.6 164.5,285.5 164.5,297.3 154.3,303.2 144.1,297.3 144.1,285.5" fill="#dde7f3" fill-opacity="1" stroke="#111" stroke-width="0.7" /><line x1="154.30" y1="291.40" x2="164.52" y2="285.50" stroke="#9aa4b4" stroke-width="0.4" /><line x1="154.30" y1="291.40" x2="154.30" y2="303.20" stroke="#9aa4b4" stroke-width="0.4" /><line x1="154.30" y1="291.40" x2="144.08" y2="285.50" stroke="#9aa4b4" stroke-width="0.4" /><polygon points="153.3,279.6 155.3,279.6 154.3,287.1" fill="#111" fill-opacity="1" stroke="none" stroke-width="0.5" /><polygon points="165.0,296.4 164.0,298.2 158.0,293.5" fill="#111" fill-opacity="1" stroke="none" stroke-width="0.5" /><polygon points="144.6,298.2 143.6,296.4 150.6,293.5" fill="#111" fill-opacity="1" stroke="none" stroke-width="0.5" /><polygon points="174.7,279.6 184.9,285.5 184.9,297.3 174.7,303.2 164.5,297.3 164.5,285.5" fill="#dde7f3" fill-opacity="1" stroke="#111" stroke-width="0.7" /><line x1="174.70" y1="291.40" x2="184.92" y2="285.50" stroke="#9aa4b4" stroke-width="0.4" /><line x1="174.70" y1="291.40" x2="174.70" y2="303.20" stroke="#9aa4b4" stroke-width="0.4" /><line x1="174.70" y1="291.40" x2="164.48" y2="285.50" stroke="#9aa4b4" stroke-width="0.4" /><polygon points="173.7,279.6 175.7,279.6 174.7,287.1" fill="#111" fill-opacity="1" stroke="none" stroke-width="0.5" /><polygon points="185.4,296.4 184.4,298.2 178.4,293.5" fill="#111" fill-opacity="1" stroke="none" stroke-width="0.5" /><polygon points="165.0,298.2 164.0,296.4 171.0,293.5" fill="#111" fill-opacity="1" stroke="none" stroke-width="0.5" /><polygon points="123.8,297.1 134.0,303.0 134.0,314.8 123.8,320.7 113.6,314.8 113.6,303.0" fill="#dde7f3" fill-opacity="1" stroke="#111" stroke-width="0.7" /><line x1="123.80" y1="308.90" x2="134.02" y2="303.00" stroke="#9aa4b4" stroke-width="0.4" /><line x1="123.80" y1="308.90" x2="123.80" y2="320.70" stroke="#9aa4b4" stroke-width="0.4" /><line x1="123.80" y1="308.90" x2="113.58" y2="303.00" stroke="#9aa4b4" stroke-width="0.4" /><polygon points="122.8,297.1 124.8,297.1 123.8,304.6" fill="#111" fill-opacity="1" stroke="none" stroke-width="0.5" /><polygon points="134.5,313.9 133.5,315.7 127.5,311.0" fill="#111" fill-opacity="1" stroke="none" stroke-width="0.5" /><polygon points="114.1,315.7 113.1,313.9 120.1,311.0" fill="#111" fill-opacity="1" stroke="none" stroke-width="0.5" /><polygon points="144.2,297.1 154.4,303.0 154.4,314.8 144.2,320.7 134.0,314.8 134.0,303.0" fill="#dde7f3" fill-opacity="1" stroke="#111" stroke-width="0.7" /><line x1="144.20" y1="308.90" x2="154.42" y2="303.00" stroke="#9aa4b4" stroke-width="0.4" /><line x1="144.20" y1="308.90" x2="144.20" y2="320.70" stroke="#9aa4b4" stroke-width="0.4" /><line x1="144.20" y1="308.90" x2="133.98" y2="303.00" stroke="#9aa4b4" stroke-width="0.4" /><polygon points="143.2,297.1 145.2,297.1 144.2,304.6" fill="#111" fill-opacity="1" stroke="none" stroke-width="0.5" /><polygon points="154.9,313.9 153.9,315.7 147.9,311.0" fill="#111" fill-opacity="1" stroke="none" stroke-width="0.5" /><polygon points="134.5,315.7 133.5,313.9 140.5,311.0" fill="#111" fill-opacity="1" stroke="none" stroke-width="0.5" /><polygon points="164.6,297.1 174.8,303.0 174.8,314.8 164.6,320.7 154.4,314.8 154.4,303.0" fill="#dde7f3" fill-opacity="1" stroke="#111" stroke-width="0.7" /><line x1="164.60" y1="308.90" x2="174.82" y2="303.00" stroke="#9aa4b4" stroke-width="0.4" /><line x1="164.60" y1="308.90" x2="164.60" y2="320.70" stroke="#9aa4b4" stroke-width="0.4" /><line x1="164.60" y1="308.90" x2="154.38" y2="303.00" stroke="#9aa4b4" stroke-width="0.4" /><polygon points="163.6,297.1 165.6,297.1 164.6,304.6" fill="#111" fill-opacity="1" stroke="none" stroke-width="0.5" /><polygon points="175.3,313.9 174.3,315.7 168.3,311.0" fill="#111" fill-opacity="1" stroke="none" stroke-width="0.5" /><polygon points="154.9,315.7 153.9,313.9 160.9,311.0" fill="#111" fill-opacity="1" stroke="none" stroke-width="0.5" /><polygon points="113.7,314.6 123.9,320.5 123.9,332.3 113.7,338.2 103.5,332.3 103.5,320.5" fill="#dde7f3" fill-opacity="1" stroke="#111" stroke-width="0.7" /><line x1="113.70" y1="326.40" x2="123.92" y2="320.50" stroke="#9aa4b4" stroke-width="0.4" /><line x1="113.70" y1="326.40" x2="113.70" y2="338.20" stroke="#9aa4b4" stroke-width="0.4" /><line x1="113.70" y1="326.40" x2="103.48" y2="320.50" stroke="#9aa4b4" stroke-width="0.4" /><polygon points="112.7,314.6 114.7,314.6 113.7,322.1" fill="#111" fill-opacity="1" stroke="none" stroke-width="0.5" /><polygon points="124.4,331.4 123.4,333.2 117.4,328.5" fill="#111" fill-opacity="1" stroke="none" stroke-width="0.5" /><polygon points="104.0,333.2 103.0,331.4 110.0,328.5" fill="#111" fill-opacity="1" stroke="none" stroke-width="0.5" /><polygon points="134.1,314.6 144.3,320.5 144.3,332.3 134.1,338.2 123.9,332.3 123.9,320.5" fill="#dde7f3" fill-opacity="1" stroke="#111" stroke-width="0.7" /><line x1="134.10" y1="326.40" x2="144.32" y2="320.50" stroke="#9aa4b4" stroke-width="0.4" /><line x1="134.10" y1="326.40" x2="134.10" y2="338.20" stroke="#9aa4b4" stroke-width="0.4" /><line x1="134.10" y1="326.40" x2="123.88" y2="320.50" stroke="#9aa4b4" stroke-width="0.4" /><polygon points="133.1,314.6 135.1,314.6 134.1,322.1" fill="#111" fill-opacity="1" stroke="none" stroke-width="0.5" /><polygon points="144.8,331.4 143.8,333.2 137.8,328.5" fill="#111" fill-opacity="1" stroke="none" stroke-width="0.5" /><polygon points="124.4,333.2 123.4,331.4 130.4,328.5" fill="#111" fill-opacity="1" stroke="none" stroke-width="0.5" /><polygon points="154.5,314.6 164.7,320.5 164.7,332.3 154.5,338.2 144.3,332.3 144.3,320.5" fill="#dde7f3" fill-opacity="1" stroke="#111" stroke-width="0.7" /><line x1="154.50" y1="326.40" x2="164.72" y2="320.50" stroke="#9aa4b4" stroke-width="0.4" /><line x1="154.50" y1="326.40" x2="154.50" y2="338.20" stroke="#9aa4b4" stroke-width="0.4" /><line x1="154.50" y1="326.40" x2="144.28" y2="320.50" stroke="#9aa4b4" stroke-width="0.4" /><polygon points="153.5,314.6 155.5,314.6 154.5,322.1" fill="#111" fill-opacity="1" stroke="none" stroke-width="0.5" /><polygon points="165.2,331.4 164.2,333.2 158.2,328.5" fill="#111" fill-opacity="1" stroke="none" stroke-width="0.5" /><polygon points="144.8,333.2 143.8,331.4 150.8,328.5" fill="#111" fill-opacity="1" stroke="none" stroke-width="0.5" /><use href="#Co36" x="133.9" y="291.4"/><use href="#Co36" x="154.3" y="291.4"/><use href="#Co36" x="174.7" y="291.4"/><use href="#Co36" x="123.8" y="308.9"/><use href="#Co36" x="164.6" y="308.9"/><use href="#Co36" x="113.7" y="326.4"/><use href="#Co36" x="134.1" y="326.4"/><use href="#Co36" x="154.5" y="326.4"/><use href="#O20" x="133.9" y="279.6"/><use href="#O20" x="144.1" y="285.5"/><use href="#O20" x="133.9" y="303.2"/><use href="#O20" x="123.7" y="285.5"/><use href="#O20" x="154.3" y="279.6"/><use href="#O20" x="164.5" y="285.5"/><use href="#O20" x="164.5" y="297.3"/><use href="#O20" x="154.3" y="303.2"/><use href="#O20" x="174.7" y="279.6"/><use href="#O20" x="184.9" y="285.5"/><use href="#O20" x="184.9" y="297.3"/><use href="#O20" x="174.7" y="303.2"/><use href="#O20" x="164.5" y="297.3"/><use href="#O20" x="164.5" y="285.5"/><use href="#O20" x="134.0" y="314.8"/><use href="#O20" x="123.8" y="320.7"/><use href="#O20" x="113.6" y="314.8"/><use href="#O20" x="113.6" y="303.0"/><use href="#O20" x="154.4" y="314.8"/><use href="#O20" x="144.2" y="320.7"/><use href="#O20" x="174.8" y="314.8"/><use href="#O20" x="164.6" y="320.7"/><use href="#O20" x="123.9" y="320.5"/><use href="#O20" x="123.9" y="332.3"/><use href="#O20" x="113.7" y="338.2"/><use href="#O20" x="103.5" y="332.3"/><use href="#O20" x="103.5" y="320.5"/><use href="#O20" x="144.3" y="320.5"/><use href="#O20" x="144.3" y="332.3"/><use href="#O20" x="134.1" y="338.2"/><use href="#O20" x="164.7" y="320.5"/><use href="#O20" x="164.7" y="332.3"/><use href="#O20" x="154.5" y="338.2"/><circle cx="123.8" cy="297.4" r="3.8" fill="#8a9a48" stroke="#30e4dc" stroke-width="1"/><circle cx="123.80" cy="297.40" r="1.90" fill="url(#gO)" opacity="0.18"/><circle cx="144.1" cy="297.4" r="3.8" fill="#8a9a48" stroke="#30e4dc" stroke-width="1"/><circle cx="144.10" cy="297.40" r="1.90" fill="url(#gO)" opacity="0.18"/><text x="117.60" y="296.00" font-size="6.5" fill="#222" text-anchor="middle">2</text><text x="148.30" y="294.20" font-size="6.5" fill="#222" text-anchor="middle">1</text><polygon points="139.3,306.5 149.7,306.5 144.5,315.3" fill="#3f8268" fill-opacity="1" stroke="#30e4dc" stroke-width="0.9" stroke-linejoin="round"/><circle cx="185.7" cy="311.8" r="3.7" fill="#98c090" stroke="#30e4dc" stroke-width="0.9"/><circle cx="185.7" cy="323.1" r="3.7" fill="#98c090" stroke="#30e4dc" stroke-width="0.9"/><polygon points="180.5,331.5 190.9,331.5 185.7,340.1" fill="#8fba90" fill-opacity="1" stroke="#30e4dc" stroke-width="0.9" stroke-linejoin="round"/><text x="192.70" y="314.60" font-size="6.7" fill="#222">1:V<tspan dy="1.3" font-size="4.9">O1</tspan><tspan dy="-1.3" font-size="0.1">&#8203;</tspan></text><text x="192.70" y="325.70" font-size="6.7" fill="#222">2:V<tspan dy="1.3" font-size="4.9">Co</tspan><tspan dy="-1.3" font-size="0.1">&#8203;</tspan></text><text x="202.20" y="334.00" font-size="6.7" fill="#222" text-anchor="middle">active</text><text x="202.20" y="340.40" font-size="6.7" fill="#222" text-anchor="middle">site</text></g><g id="pf"><text x="241.20" y="176.90" font-size="9.5" fill="#000" font-weight="bold">f</text><line x1="288.70" y1="185.50" x2="306.40" y2="231.56" stroke="#333" stroke-width="0.65" stroke-dasharray="2.4 1.2"/><line x1="325.80" y1="231.56" x2="343.50" y2="241.75" stroke="#333" stroke-width="0.65" stroke-dasharray="2.4 1.2"/><line x1="362.90" y1="241.75" x2="380.60" y2="215.29" stroke="#333" stroke-width="0.65" stroke-dasharray="2.4 1.2"/><line x1="400.00" y1="215.29" x2="417.70" y2="185.50" stroke="#b4b4b4" stroke-width="3.2" /><line x1="288.70" y1="185.50" x2="306.40" y2="213.14" stroke="#f04040" stroke-width="0.65" stroke-dasharray="2.4 1.2"/><line x1="325.80" y1="213.14" x2="343.50" y2="203.34" stroke="#f04040" stroke-width="0.65" stroke-dasharray="2.4 1.2"/><line x1="362.90" y1="203.34" x2="380.60" y2="196.87" stroke="#f04040" stroke-width="0.65" stroke-dasharray="2.4 1.2"/><line x1="400.00" y1="196.87" x2="417.70" y2="185.50" stroke="#ea4456" stroke-width="3.2" /><line x1="288.70" y1="185.50" x2="306.40" y2="191.38" stroke="#2f7be6" stroke-width="0.65" stroke-dasharray="2.4 1.2"/><line x1="325.80" y1="191.38" x2="343.50" y2="183.93" stroke="#4a98e2" stroke-width="3.2" /><line x1="362.90" y1="183.93" x2="380.60" y2="182.76" stroke="#2f7be6" stroke-width="0.65" stroke-dasharray="2.4 1.2"/><line x1="400.00" y1="182.76" x2="417.70" y2="185.50" stroke="#2f7be6" stroke-width="0.65" stroke-dasharray="2.4 1.2"/><line x1="399.80" y1="215.29" x2="417.50" y2="185.50" stroke="#333" stroke-width="0.5" stroke-dasharray="2 1.2"/><line x1="306.40" y1="231.56" x2="325.80" y2="231.56" stroke="#606060" stroke-width="1.7" /><line x1="343.50" y1="241.75" x2="362.90" y2="241.75" stroke="#606060" stroke-width="1.7" /><line x1="380.60" y1="215.29" x2="400.00" y2="215.29" stroke="#606060" stroke-width="1.7" /><line x1="306.40" y1="213.14" x2="325.80" y2="213.14" stroke="#f04040" stroke-width="1.7" /><line x1="343.50" y1="203.34" x2="362.90" y2="203.34" stroke="#f04040" stroke-width="1.7" /><line x1="380.60" y1="196.87" x2="400.00" y2="196.87" stroke="#f04040" stroke-width="1.7" /><line x1="269.30" y1="185.50" x2="288.70" y2="185.50" stroke="#2f7be6" stroke-width="1.7" /><line x1="306.40" y1="191.38" x2="325.80" y2="191.38" stroke="#2f7be6" stroke-width="1.7" /><line x1="343.50" y1="183.93" x2="362.90" y2="183.93" stroke="#2f7be6" stroke-width="1.7" /><line x1="380.60" y1="182.76" x2="400.00" y2="182.76" stroke="#2f7be6" stroke-width="1.7" /><line x1="417.70" y1="185.50" x2="437.10" y2="185.50" stroke="#2f7be6" stroke-width="1.7" /><line x1="288.70" y1="274.70" x2="306.40" y2="290.20" stroke="#333" stroke-width="0.65" stroke-dasharray="2.4 1.2"/><line x1="325.80" y1="290.20" x2="343.50" y2="315.74" stroke="#333" stroke-width="0.65" stroke-dasharray="2.4 1.2"/><line x1="362.90" y1="315.74" x2="380.60" y2="271.28" stroke="#b4b4b4" stroke-width="3.2" /><line x1="400.00" y1="271.28" x2="417.70" y2="274.70" stroke="#333" stroke-width="0.65" stroke-dasharray="2.4 1.2"/><line x1="288.70" y1="274.70" x2="306.40" y2="272.99" stroke="#f04040" stroke-width="0.65" stroke-dasharray="2.4 1.2"/><line x1="325.80" y1="272.99" x2="343.50" y2="257.94" stroke="#ea4456" stroke-width="3.4" /><line x1="362.90" y1="257.94" x2="380.60" y2="260.68" stroke="#f04040" stroke-width="0.65" stroke-dasharray="2.4 1.2"/><line x1="400.00" y1="260.68" x2="417.70" y2="274.70" stroke="#f04040" stroke-width="0.65" stroke-dasharray="2.4 1.2"/><line x1="288.70" y1="274.70" x2="306.40" y2="278.58" stroke="#2f7be6" stroke-width="0.65" stroke-dasharray="2.4 1.2"/><line x1="325.80" y1="278.58" x2="343.50" y2="262.05" stroke="#4a98e2" stroke-width="3.4" /><line x1="362.90" y1="262.05" x2="380.60" y2="265.47" stroke="#2f7be6" stroke-width="0.65" stroke-dasharray="2.4 1.2"/><line x1="400.00" y1="265.47" x2="417.70" y2="274.70" stroke="#2f7be6" stroke-width="0.65" stroke-dasharray="2.4 1.2"/><line x1="363.00" y1="315.74" x2="380.70" y2="271.28" stroke="#333" stroke-width="0.5" stroke-dasharray="2 1.2"/><line x1="306.40" y1="290.20" x2="325.80" y2="290.20" stroke="#606060" stroke-width="1.7" /><line x1="343.50" y1="315.74" x2="362.90" y2="315.74" stroke="#606060" stroke-width="1.7" /><line x1="380.60" y1="271.28" x2="400.00" y2="271.28" stroke="#606060" stroke-width="1.7" /><line x1="306.40" y1="272.99" x2="325.80" y2="272.99" stroke="#f04040" stroke-width="1.7" /><line x1="343.50" y1="257.94" x2="362.90" y2="257.94" stroke="#f04040" stroke-width="1.7" /><line x1="380.60" y1="260.68" x2="400.00" y2="260.68" stroke="#f04040" stroke-width="1.7" /><line x1="269.30" y1="274.70" x2="288.70" y2="274.70" stroke="#2f7be6" stroke-width="1.7" /><line x1="306.40" y1="278.58" x2="325.80" y2="278.58" stroke="#2f7be6" stroke-width="1.7" /><line x1="343.50" y1="262.05" x2="362.90" y2="262.05" stroke="#2f7be6" stroke-width="1.7" /><line x1="380.60" y1="265.47" x2="400.00" y2="265.47" stroke="#2f7be6" stroke-width="1.7" /><line x1="417.70" y1="274.70" x2="437.10" y2="274.70" stroke="#2f7be6" stroke-width="1.7" /><rect x="260.30" y="177.70" width="186.20" height="68.40" fill="none" stroke="#222" stroke-width="0.8" /><rect x="260.30" y="252.30" width="186.20" height="74.30" fill="none" stroke="#222" stroke-width="0.8" /><line x1="257.70" y1="185.50" x2="260.30" y2="185.50" stroke="#222" stroke-width="0.7" /><text x="256.50" y="188.20" font-size="7.7" fill="#222" text-anchor="end">0</text><line x1="257.70" y1="205.10" x2="260.30" y2="205.10" stroke="#222" stroke-width="0.7" /><text x="256.50" y="207.80" font-size="7.7" fill="#222" text-anchor="end">-1</text><line x1="257.70" y1="224.70" x2="260.30" y2="224.70" stroke="#222" stroke-width="0.7" /><text x="256.50" y="227.40" font-size="7.7" fill="#222" text-anchor="end">-2</text><line x1="258.80" y1="195.30" x2="260.30" y2="195.30" stroke="#222" stroke-width="0.7" /><line x1="258.80" y1="214.90" x2="260.30" y2="214.90" stroke="#222" stroke-width="0.7" /><line x1="258.80" y1="234.50" x2="260.30" y2="234.50" stroke="#222" stroke-width="0.7" /><line x1="257.70" y1="251.90" x2="260.30" y2="251.90" stroke="#222" stroke-width="0.7" /><text x="256.50" y="254.60" font-size="7.7" fill="#222" text-anchor="end">1</text><line x1="257.70" y1="274.70" x2="260.30" y2="274.70" stroke="#222" stroke-width="0.7" /><text x="256.50" y="277.40" font-size="7.7" fill="#222" text-anchor="end">0</text><line x1="257.70" y1="297.50" x2="260.30" y2="297.50" stroke="#222" stroke-width="0.7" /><text x="256.50" y="300.20" font-size="7.7" fill="#222" text-anchor="end">-1</text><line x1="257.70" y1="320.30" x2="260.30" y2="320.30" stroke="#222" stroke-width="0.7" /><text x="256.50" y="323.00" font-size="7.7" fill="#222" text-anchor="end">-2</text><line x1="258.80" y1="263.30" x2="260.30" y2="263.30" stroke="#222" stroke-width="0.7" /><line x1="258.80" y1="286.10" x2="260.30" y2="286.10" stroke="#222" stroke-width="0.7" /><line x1="258.80" y1="308.90" x2="260.30" y2="308.90" stroke="#222" stroke-width="0.7" /><line x1="269.30" y1="326.60" x2="269.30" y2="324.60" stroke="#222" stroke-width="0.6" /><line x1="288.70" y1="326.60" x2="288.70" y2="324.60" stroke="#222" stroke-width="0.6" /><line x1="306.40" y1="326.60" x2="306.40" y2="324.60" stroke="#222" stroke-width="0.6" /><line x1="325.80" y1="326.60" x2="325.80" y2="324.60" stroke="#222" stroke-width="0.6" /><line x1="343.50" y1="326.60" x2="343.50" y2="324.60" stroke="#222" stroke-width="0.6" /><line x1="362.90" y1="326.60" x2="362.90" y2="324.60" stroke="#222" stroke-width="0.6" /><line x1="380.60" y1="326.60" x2="380.60" y2="324.60" stroke="#222" stroke-width="0.6" /><line x1="400.00" y1="326.60" x2="400.00" y2="324.60" stroke="#222" stroke-width="0.6" /><line x1="417.70" y1="326.60" x2="417.70" y2="324.60" stroke="#222" stroke-width="0.6" /><line x1="437.10" y1="326.60" x2="437.10" y2="324.60" stroke="#222" stroke-width="0.6" /><text x="279.00" y="324.60" font-size="6.8" fill="#222" text-anchor="middle">H<tspan dy="1.2" font-size="4.5">2</tspan><tspan dy="-1.2" font-size="0.1">&#8203;</tspan>O</text><text x="316.10" y="324.60" font-size="6.8" fill="#222" text-anchor="middle">*OH</text><text x="353.20" y="324.60" font-size="6.8" fill="#222" text-anchor="middle">*O</text><text x="390.30" y="324.60" font-size="6.8" fill="#222" text-anchor="middle">*OOH</text><text x="427.40" y="324.60" font-size="6.8" fill="#222" text-anchor="middle">O<tspan dy="1.2" font-size="4.5">2</tspan><tspan dy="-1.2" font-size="0.1">&#8203;</tspan></text><text x="352.80" y="340.20" font-size="9" fill="#222" text-anchor="middle">Reaction Coordination</text><text x="244.60" y="251.00" font-size="9" fill="#222" text-anchor="middle" transform="rotate(-90 244.60 251.00)">Free Energy (eV)</text><text x="312.40" y="186.00" font-size="6.85" fill="#2f7be6">0.38 V</text><text x="382.70" y="190.80" font-size="6.85" fill="#f04040">0.61 V</text><text x="413.40" y="205.20" font-size="6.85" fill="#222">1.54 V</text><text x="312.90" y="263.10" font-size="6.85" fill="#f04040">0.66 V</text><text x="339.10" y="276.70" font-size="6.85" fill="#2f7be6">0.70 V</text><text x="378.30" y="292.40" font-size="6.85" fill="#222">1.95 V</text><line x1="418.20" y1="218.40" x2="425.60" y2="218.40" stroke="#505050" stroke-width="1.2" /><line x1="418.40" y1="216.00" x2="425.40" y2="216.00" stroke="#9a9a9a" stroke-width="0.9" stroke-dasharray="1.1 0.5"/><text x="428.00" y="220.60" font-size="6.7" fill="#222">+V<tspan dy="1.4" font-size="4.9">O1</tspan><tspan dy="-1.4" font-size="0.1">&#8203;</tspan></text><line x1="418.20" y1="229.50" x2="425.60" y2="229.50" stroke="#f04040" stroke-width="1.2" /><line x1="418.40" y1="227.10" x2="425.40" y2="227.10" stroke="#9a9a9a" stroke-width="0.9" stroke-dasharray="1.1 0.5"/><text x="428.00" y="231.70" font-size="6.7" fill="#222">+V<tspan dy="1.4" font-size="4.9">O1</tspan><tspan dy="-1.4" font-size="0.1">&#8203;</tspan></text><line x1="418.20" y1="239.50" x2="425.60" y2="239.50" stroke="#2f7be6" stroke-width="1.2" /><line x1="418.40" y1="237.10" x2="425.40" y2="237.10" stroke="#9a9a9a" stroke-width="0.9" stroke-dasharray="1.1 0.5"/><text x="428.00" y="241.70" font-size="6.7" fill="#222">+V<tspan dy="1.4" font-size="4.9">O1</tspan><tspan dy="-1.4" font-size="0.1">&#8203;</tspan></text><line x1="408.80" y1="291.90" x2="418.60" y2="291.90" stroke="#606060" stroke-width="1.3" /><text x="421.00" y="294.30" font-size="6.7" fill="#222">(0001)</text><line x1="408.80" y1="301.40" x2="418.60" y2="301.40" stroke="#f04040" stroke-width="1.3" /><text x="421.00" y="303.80" font-size="6.7" fill="#222">(1010)</text><line x1="431.60" y1="298.10" x2="434.80" y2="298.10" stroke="#222" stroke-width="0.45" /><line x1="408.80" y1="310.70" x2="418.60" y2="310.70" stroke="#2f7be6" stroke-width="1.3" /><text x="421.00" y="313.10" font-size="6.7" fill="#222">(1100)</text><line x1="427.80" y1="307.40" x2="431.00" y2="307.40" stroke="#222" stroke-width="0.45" /></g><g id="pg"><text x="476.00" y="175.80" font-size="9.5" fill="#000" font-weight="bold">g</text><clipPath id="cg"><rect x="497.7" y="177.7" width="155.90000000000003" height="149.60000000000002"/></clipPath><g clip-path="url(#cg)"><rect x="497.70" y="177.70" width="155.90" height="149.60" fill="#0e59a2" stroke="none" stroke-width="0.8" /><rect x="497.60" y="159.70" width="188.60" height="168.06" fill="#1763aa" stroke="none" stroke-width="0.8" /><rect x="507.00" y="165.80" width="169.85" height="155.74" fill="#2874b6" stroke="none" stroke-width="0.8" /><rect x="516.40" y="171.90" width="151.10" height="143.42" fill="#3985c0" stroke="none" stroke-width="0.8" /><rect x="525.80" y="178.00" width="132.35" height="131.10" fill="#5099cb" stroke="none" stroke-width="0.8" /><rect x="535.20" y="184.10" width="113.60" height="118.78" fill="#67a8d3" stroke="none" stroke-width="0.8" /><rect x="544.60" y="190.20" width="94.85" height="106.46" fill="#80b7da" stroke="none" stroke-width="0.8" /><rect x="554.00" y="196.30" width="76.10" height="94.14" fill="#9bc5e1" stroke="none" stroke-width="0.8" /><rect x="563.40" y="202.40" width="57.35" height="81.82" fill="#b4d2e9" stroke="none" stroke-width="0.8" /><rect x="572.80" y="208.50" width="38.60" height="69.50" fill="#c9dcf0" stroke="none" stroke-width="0.8" /><ellipse cx="543.6" cy="286.3" rx="50" ry="13.2" transform="rotate(52 543.6 286.3)" fill="#a4a4a4" fill-opacity="0.78" stroke="#111" stroke-width="0.8" stroke-dasharray="2.4 1.5"/><ellipse cx="606.1" cy="244.6" rx="13.3" ry="39.8" transform="rotate(6 606.1 244.6)" fill="#f26a76" fill-opacity="0.8" stroke="#111" stroke-width="0.8" stroke-dasharray="2.4 1.5"/><ellipse cx="574.2" cy="240.8" rx="41.3" ry="13.4" transform="rotate(-3 574.2 240.8)" fill="#3a74e4" fill-opacity="0.72" stroke="#111" stroke-width="0.8" stroke-dasharray="2.4 1.5"/><rect x="536.50" y="240.10" width="4.80" height="4.80" fill="#5a94f0" stroke="#2a62d8" stroke-width="0.7" /><polygon points="588.7,243.5 594.7,243.5 591.7,238.0" fill="#2a68e0" fill-opacity="1" stroke="#1d50c0" stroke-width="0.5" /><circle cx="608.1" cy="237.5" r="2.7" fill="#5a72d0" stroke="#2c4cb0" stroke-width="0.6"/><polygon points="603.5,220.2 609.9,220.2 606.7,214.4" fill="#f02424" fill-opacity="1" stroke="#c01010" stroke-width="0.4" /><circle cx="606.7" cy="230.6" r="2.7" fill="#ee2c2c" stroke="#b01818" stroke-width="0.5"/><rect x="596.70" y="274.40" width="5.00" height="5.00" fill="#ee2828" stroke="#c01818" stroke-width="0.5" /><circle cx="517.2" cy="253.3" r="2.7" fill="#8f8a84" stroke="#686460" stroke-width="0.6"/><rect x="545.80" y="303.10" width="5.00" height="5.00" fill="#8f8a84" stroke="#686460" stroke-width="0.6" /><polygon points="568.2,325.2 574.6,325.2 571.4,319.4" fill="#8c8c8c" fill-opacity="1" stroke="#686460" stroke-width="0.5" /></g><rect x="497.70" y="177.70" width="155.90" height="149.60" fill="none" stroke="#222" stroke-width="0.8" /><text x="596.40" y="190.30" font-size="6.7" fill="#1c1c1c" text-anchor="middle">Limited by</text><text x="596.40" y="197.20" font-size="6.7" fill="#1c1c1c" text-anchor="middle">*&#8594;*OH</text><text x="525.60" y="213.90" font-size="6.7" fill="#1c1c1c" text-anchor="middle">Limited by</text><text x="525.60" y="220.80" font-size="6.7" fill="#1c1c1c" text-anchor="middle">*O&#8594;*OOH</text><text x="634.40" y="259.70" font-size="6.7" fill="#1c1c1c" text-anchor="middle">Limited by</text><text x="634.40" y="266.60" font-size="6.7" fill="#1c1c1c" text-anchor="middle">*OH&#8594;*O</text><text x="604.20" y="307.80" font-size="6.7" fill="#1c1c1c" text-anchor="middle">Limited by</text><text x="604.20" y="314.70" font-size="6.7" fill="#1c1c1c" text-anchor="middle">*OOH&#8594;*</text><text x="618.60" y="209.80" font-size="6.7" fill="#d02434">(1010)</text><line x1="628.20" y1="204.20" x2="631.40" y2="204.20" stroke="#d02434" stroke-width="0.45" /><text x="556.70" y="223.70" font-size="6.7" fill="#2a5ab4">(1100)</text><line x1="562.60" y1="218.10" x2="565.80" y2="218.10" stroke="#2a5ab4" stroke-width="0.45" /><text x="515.30" y="307.10" font-size="6.7" fill="#1c1c1c">(0001)</text><line x1="512.40" y1="177.70" x2="512.40" y2="175.10" stroke="#222" stroke-width="0.7" /><text x="512.40" y="172.30" font-size="7.7" fill="#222" text-anchor="middle">0</text><line x1="537.20" y1="177.70" x2="537.20" y2="176.20" stroke="#222" stroke-width="0.7" /><line x1="562.00" y1="177.70" x2="562.00" y2="175.10" stroke="#222" stroke-width="0.7" /><text x="562.00" y="172.30" font-size="7.7" fill="#222" text-anchor="middle">1</text><line x1="586.80" y1="177.70" x2="586.80" y2="176.20" stroke="#222" stroke-width="0.7" /><line x1="611.60" y1="177.70" x2="611.60" y2="175.10" stroke="#222" stroke-width="0.7" /><text x="611.60" y="172.30" font-size="7.7" fill="#222" text-anchor="middle">2</text><line x1="636.40" y1="177.70" x2="636.40" y2="176.20" stroke="#222" stroke-width="0.7" /><line x1="497.70" y1="191.95" x2="496.20" y2="191.95" stroke="#222" stroke-width="0.7" /><line x1="497.70" y1="207.70" x2="495.10" y2="207.70" stroke="#222" stroke-width="0.7" /><text x="493.90" y="210.40" font-size="7.7" fill="#222" text-anchor="end">2</text><line x1="497.70" y1="223.45" x2="496.20" y2="223.45" stroke="#222" stroke-width="0.7" /><line x1="497.70" y1="239.20" x2="495.10" y2="239.20" stroke="#222" stroke-width="0.7" /><text x="493.90" y="241.90" font-size="7.7" fill="#222" text-anchor="end">1</text><line x1="497.70" y1="254.95" x2="496.20" y2="254.95" stroke="#222" stroke-width="0.7" /><line x1="497.70" y1="270.70" x2="495.10" y2="270.70" stroke="#222" stroke-width="0.7" /><text x="493.90" y="273.40" font-size="7.7" fill="#222" text-anchor="end">0</text><line x1="497.70" y1="286.45" x2="496.20" y2="286.45" stroke="#222" stroke-width="0.7" /><line x1="497.70" y1="302.20" x2="495.10" y2="302.20" stroke="#222" stroke-width="0.7" /><text x="493.90" y="304.90" font-size="7.7" fill="#222" text-anchor="end">-1</text><line x1="497.70" y1="317.95" x2="496.20" y2="317.95" stroke="#222" stroke-width="0.7" /><text x="483.00" y="252.00" font-size="8.6" fill="#222" text-anchor="middle" transform="rotate(-90 483.00 252.00)">&#916;G<tspan dy="1.4" font-size="5.5">OH</tspan><tspan dy="-1.4" font-size="0.1">&#8203;</tspan> (eV)</text><text x="579.40" y="338.60" font-size="8.6" fill="#222" text-anchor="middle">&#916;G<tspan dy="1.4" font-size="5.5">O</tspan><tspan dy="-1.4" font-size="0.1">&#8203;</tspan>-&#916;G<tspan dy="1.4" font-size="5.5">OH</tspan><tspan dy="-1.4" font-size="0.1">&#8203;</tspan> (eV)</text><rect x="659.50" y="309.40" width="9.00" height="15.50" fill="#c9dcf0" stroke="none" stroke-width="0.8" /><rect x="659.50" y="294.20" width="9.00" height="15.50" fill="#b4d2e9" stroke="none" stroke-width="0.8" /><rect x="659.50" y="279.00" width="9.00" height="15.50" fill="#9bc5e1" stroke="none" stroke-width="0.8" /><rect x="659.50" y="263.80" width="9.00" height="15.50" fill="#80b7da" stroke="none" stroke-width="0.8" /><rect x="659.50" y="248.60" width="9.00" height="15.50" fill="#67a8d3" stroke="none" stroke-width="0.8" /><rect x="659.50" y="233.40" width="9.00" height="15.50" fill="#5099cb" stroke="none" stroke-width="0.8" /><rect x="659.50" y="218.20" width="9.00" height="15.50" fill="#3985c0" stroke="none" stroke-width="0.8" /><rect x="659.50" y="203.00" width="9.00" height="15.50" fill="#2874b6" stroke="none" stroke-width="0.8" /><rect x="659.50" y="187.80" width="9.00" height="15.50" fill="#1763aa" stroke="none" stroke-width="0.8" /><rect x="659.50" y="180.20" width="9.00" height="7.90" fill="#0e59a2" stroke="none" stroke-width="0.8" /><rect x="659.50" y="180.20" width="9.00" height="144.40" fill="none" stroke="#222" stroke-width="0.7" /><line x1="668.50" y1="324.60" x2="670.90" y2="324.60" stroke="#222" stroke-width="0.6" /><text x="674.10" y="327.40" font-size="7.8" fill="#222">0.4</text><line x1="668.50" y1="309.40" x2="670.90" y2="309.40" stroke="#222" stroke-width="0.6" /><text x="674.10" y="312.20" font-size="7.8" fill="#222">0.6</text><line x1="668.50" y1="294.20" x2="670.90" y2="294.20" stroke="#222" stroke-width="0.6" /><text x="674.10" y="297.00" font-size="7.8" fill="#222">0.8</text><line x1="668.50" y1="279.00" x2="670.90" y2="279.00" stroke="#222" stroke-width="0.6" /><text x="674.10" y="281.80" font-size="7.8" fill="#222">1.0</text><line x1="668.50" y1="263.80" x2="670.90" y2="263.80" stroke="#222" stroke-width="0.6" /><text x="674.10" y="266.60" font-size="7.8" fill="#222">1.2</text><line x1="668.50" y1="248.60" x2="670.90" y2="248.60" stroke="#222" stroke-width="0.6" /><text x="674.10" y="251.40" font-size="7.8" fill="#222">1.4</text><line x1="668.50" y1="233.40" x2="670.90" y2="233.40" stroke="#222" stroke-width="0.6" /><text x="674.10" y="236.20" font-size="7.8" fill="#222">1.6</text><line x1="668.50" y1="218.20" x2="670.90" y2="218.20" stroke="#222" stroke-width="0.6" /><text x="674.10" y="221.00" font-size="7.8" fill="#222">1.8</text><line x1="668.50" y1="203.00" x2="670.90" y2="203.00" stroke="#222" stroke-width="0.6" /><text x="674.10" y="205.80" font-size="7.8" fill="#222">2.0</text><line x1="668.50" y1="187.80" x2="670.90" y2="187.80" stroke="#222" stroke-width="0.6" /><text x="674.10" y="190.60" font-size="7.8" fill="#222">2.2</text><text x="663.60" y="176.20" font-size="9" fill="#222" text-anchor="middle">&#951;</text></g><g id="ph"><text x="0.40" y="360.40" font-size="9.5" fill="#000" font-weight="bold">h</text><path d="M58.6 480.5L66.9 476.8M58.6 480.5L55.9 481.4M58.6 480.5L53.0 474.1M58.6 480.5L64.2 486.9M58.6 480.5L50.3 484.2M58.6 480.5L61.3 479.6M58.6 480.5L64.2 483.8M76.6 472.9L73.7 473.9M76.6 472.9L68.2 476.7M76.6 472.9L84.9 469.2M76.6 472.9L71.0 466.5M76.6 472.9L82.2 479.3M76.6 472.9L79.3 472.0M76.6 472.9L76.6 478.1M76.6 472.9L73.7 470.8M76.6 472.9L82.1 476.4M94.6 465.2L91.7 466.3M94.6 465.2L86.2 469.1M94.6 465.2L102.9 461.5M94.6 465.2L89.0 458.8M94.6 465.2L100.2 471.6M94.6 465.2L97.3 464.3M94.6 465.2L94.5 470.6M94.6 465.2L95.0 473.3M117.1 468.5L111.5 462.7M117.1 468.5L108.8 472.9M117.1 468.5L125.4 464.8M117.1 468.5L114.4 469.4M117.1 468.5L122.7 474.9M117.1 468.5L119.8 467.6M117.1 468.5L117.5 474.5M117.1 468.5L114.6 467.2M117.1 468.5L122.9 472.8M117.1 468.5L117.3 476.7M139.7 472.4L134.0 466.3M139.7 472.4L131.3 476.4M139.7 472.4L148.0 468.7M139.7 472.4L137.0 473.3M139.7 472.4L145.3 478.8M139.7 472.4L142.4 471.5M139.7 472.4L131.5 474.3M81.0 479.9L75.4 476.6M81.0 479.9L83.9 482.0M81.0 479.9L81.0 474.7M81.0 479.9L89.3 476.2M81.0 479.9L78.3 480.8M81.0 479.9L75.4 473.5M81.0 479.9L86.6 486.3M81.0 479.9L72.7 483.6M81.0 479.9L83.7 479.0M81.0 479.9L89.8 478.8M99.6 476.8L93.6 470.7M99.6 476.8L102.1 476.1M99.6 476.8L99.2 468.7M99.6 476.8L107.7 472.5M99.6 476.8L96.4 475.0M99.6 476.8L90.8 477.9M99.6 476.8L96.9 477.7M99.6 476.8L105.2 483.2M99.6 476.8L105.2 480.5M99.6 476.8L99.6 484.5M122.1 476.8L116.3 472.5M122.1 476.8L124.6 478.1M122.1 476.8L121.7 470.8M122.1 476.8L130.3 474.9M122.1 476.8L119.4 477.7M122.1 476.8L116.5 470.4M122.1 476.8L127.7 483.2M122.1 476.8L113.8 480.5M122.1 476.8L124.8 475.9M122.1 476.8L119.2 479.9M104.0 487.8L103.8 480.2M104.0 487.8L95.4 489.3M104.0 487.8L98.5 481.8M104.0 487.8L106.9 487.4M104.0 487.8L106.9 484.7M104.0 487.8L112.3 484.1M104.0 487.8L101.3 488.7M104.0 487.8L109.6 494.2M104.0 487.8L95.7 491.5" stroke="#2222a8" stroke-width="1.6" fill="none"/><path d="M66.9 476.8L72.0 474.5M55.9 481.4L54.2 481.9M53.0 474.1L49.5 470.1M64.2 486.9L67.7 490.9M50.3 484.2L45.2 486.5M61.3 479.6L63.0 479.1M64.2 483.8L67.6 485.9M73.7 473.9L72.0 474.5M68.2 476.7L63.0 479.1M84.9 469.2L90.0 466.9M71.0 466.5L67.5 462.5M82.2 479.3L85.7 483.3M79.3 472.0L81.0 471.5M76.6 478.1L76.6 481.3M73.7 470.8L71.9 469.5M82.1 476.4L85.4 478.5M91.7 466.3L90.0 466.9M86.2 469.1L81.0 471.5M102.9 461.5L108.0 459.2M89.0 458.8L85.5 454.8M100.2 471.6L103.7 475.6M97.3 464.3L99.0 463.8M94.5 470.6L94.4 473.9M95.0 473.3L95.2 478.2M111.5 462.7L108.0 459.2M108.8 472.9L103.7 475.6M125.4 464.8L130.5 462.5M114.4 469.4L112.7 469.9M122.7 474.9L126.2 478.9M119.8 467.6L121.5 467.1M117.5 474.5L117.7 478.2M114.6 467.2L113.0 466.4M122.9 472.8L126.5 475.4M117.3 476.7L117.4 481.8M134.0 466.3L130.5 462.5M131.3 476.4L126.2 478.9M148.0 468.7L153.1 466.4M137.0 473.3L135.3 473.8M145.3 478.8L148.8 482.8M142.4 471.5L144.1 471.0M131.5 474.3L126.5 475.4M75.4 476.6L72.0 474.5M83.9 482.0L85.7 483.3M81.0 474.7L81.0 471.5M89.3 476.2L94.4 473.9M78.3 480.8L76.6 481.3M75.4 473.5L71.9 469.5M86.6 486.3L90.1 490.3M72.7 483.6L67.6 485.9M83.7 479.0L85.4 478.5M89.8 478.8L95.2 478.2M93.6 470.7L90.0 466.9M102.1 476.1L103.7 475.6M99.2 468.7L99.0 463.8M107.7 472.5L112.7 469.9M96.4 475.0L94.4 473.9M90.8 477.9L85.4 478.5M96.9 477.7L95.2 478.2M105.2 483.2L108.7 487.2M105.2 480.5L108.7 482.8M99.6 484.5L99.6 489.2M116.3 472.5L112.7 469.9M124.6 478.1L126.2 478.9M121.7 470.8L121.5 467.1M130.3 474.9L135.3 473.8M119.4 477.7L117.7 478.2M116.5 470.4L113.0 466.4M127.7 483.2L131.2 487.2M113.8 480.5L108.7 482.8M124.8 475.9L126.5 475.4M119.2 479.9L117.4 481.8M103.8 480.2L103.7 475.6M95.4 489.3L90.1 490.3M98.5 481.8L95.2 478.2M106.9 487.4L108.7 487.2M106.9 484.7L108.7 482.8M112.3 484.1L117.4 481.8M101.3 488.7L99.6 489.2M109.6 494.2L113.1 498.2M95.7 491.5L90.6 493.8" stroke="#d62020" stroke-width="1.6" fill="none"/><use href="#O23" x="72.0" y="474.5"/><use href="#O23" x="54.2" y="481.9"/><use href="#O23" x="49.5" y="470.1"/><use href="#O23" x="67.7" y="490.9"/><use href="#O23" x="45.2" y="486.5"/><use href="#O23" x="63.0" y="479.1"/><use href="#O23" x="90.0" y="466.9"/><use href="#O23" x="67.5" y="462.5"/><use href="#O23" x="85.7" y="483.3"/><use href="#O23" x="81.0" y="471.5"/><use href="#O23" x="108.0" y="459.2"/><use href="#O23" x="85.5" y="454.8"/><use href="#O23" x="103.7" y="475.6"/><use href="#O23" x="99.0" y="463.8"/><use href="#O23" x="130.5" y="462.5"/><use href="#O23" x="112.7" y="469.9"/><use href="#O23" x="126.2" y="478.9"/><use href="#O23" x="121.5" y="467.1"/><use href="#O23" x="153.1" y="466.4"/><use href="#O23" x="135.3" y="473.8"/><use href="#O23" x="148.8" y="482.8"/><use href="#O23" x="144.1" y="471.0"/><use href="#O23" x="94.4" y="473.9"/><use href="#O23" x="76.6" y="481.3"/><use href="#O23" x="71.9" y="469.5"/><use href="#O23" x="90.1" y="490.3"/><use href="#O23" x="67.6" y="485.9"/><use href="#O23" x="85.4" y="478.5"/><use href="#O23" x="95.2" y="478.2"/><use href="#O23" x="108.7" y="487.2"/><use href="#O23" x="117.7" y="478.2"/><use href="#O23" x="113.0" y="466.4"/><use href="#O23" x="131.2" y="487.2"/><use href="#O23" x="108.7" y="482.8"/><use href="#O23" x="126.5" y="475.4"/><use href="#O23" x="117.4" y="481.8"/><use href="#O23" x="99.6" y="489.2"/><use href="#O23" x="113.1" y="498.2"/><use href="#O23" x="90.6" y="493.8"/><use href="#H13" x="72.0" y="493.0"/><use href="#H13" x="90.0" y="491.0"/><use href="#H13" x="100.0" y="503.0"/><use href="#H13" x="117.0" y="499.0"/><use href="#H13" x="133.0" y="493.0"/><use href="#H13" x="150.0" y="484.0"/><use href="#H13" x="62.0" y="470.0"/><use href="#H13" x="150.0" y="466.0"/><use href="#Co39" x="58.6" y="480.5"/><use href="#Co39" x="76.6" y="472.9"/><use href="#Co39" x="94.6" y="465.2"/><use href="#Co39" x="117.1" y="468.5"/><use href="#Co39" x="139.7" y="472.4"/><use href="#Co39" x="81.0" y="479.9"/><use href="#Co39" x="99.6" y="476.8"/><use href="#Co39" x="122.1" y="476.8"/><use href="#Co39" x="104.0" y="487.8"/><path d="M72.7 445.5L81.0 441.8M72.7 445.5L70.0 446.4M72.7 445.5L67.1 439.1M72.7 445.5L78.3 451.9M72.7 445.5L64.4 449.2M72.7 445.5L75.4 444.6M89.7 437.8L87.5 438.9M89.7 437.8L81.9 441.7M89.7 437.8L98.0 434.1M89.7 437.8L84.1 431.4M89.7 437.8L95.3 444.2M89.7 437.8L92.4 436.9M89.7 437.8L90.4 446.2M108.4 430.8L105.1 431.4M108.4 430.8L116.7 427.1M108.4 430.8L102.8 424.4M108.4 430.8L114.0 437.2M108.4 430.8L111.1 429.9M108.4 430.8L108.5 438.9M130.7 433.5L125.2 428.1M130.7 433.5L122.5 438.3M130.7 433.5L139.0 429.8M130.7 433.5L128.0 434.4M130.7 433.5L136.3 439.9M130.7 433.5L133.4 432.6M130.7 433.5L130.8 441.8M153.2 437.8L147.6 431.4M153.2 437.8L144.9 441.6M153.2 437.8L161.5 434.1M153.2 437.8L150.5 438.7M153.2 437.8L158.8 444.2M153.2 437.8L155.9 436.9M95.2 449.9L89.6 443.5M95.2 449.9L86.9 453.6M95.2 449.9L97.4 448.8M95.2 449.9L94.5 441.5M95.2 449.9L103.5 446.2M95.2 449.9L92.5 450.8M95.2 449.9L100.8 456.3M112.7 441.8L106.7 435.6M112.7 441.8L115.7 441.4M112.7 441.8L112.8 434.1M112.7 441.8L121.1 437.5M112.7 441.8L110.2 443.1M112.7 441.8L118.3 448.2M112.7 441.8L113.1 449.7M135.3 445.5L129.7 438.9M135.3 445.5L138.1 444.5M135.3 445.5L135.2 437.2M135.3 445.5L143.7 441.6M135.3 445.5L126.9 449.7M135.3 445.5L132.6 446.4M135.3 445.5L140.9 451.9M117.8 453.2L117.6 445.8M117.8 453.2L112.1 447.4M117.8 453.2L109.4 457.6M117.8 453.2L120.3 452.6M117.8 453.2L125.9 449.3M117.8 453.2L115.1 454.1M117.8 453.2L123.4 459.6" stroke="#2222a8" stroke-width="1.6" fill="none"/><path d="M81.0 441.8L86.1 439.5M70.0 446.4L68.3 446.9M67.1 439.1L63.6 435.1M78.3 451.9L81.8 455.9M64.4 449.2L59.3 451.5M75.4 444.6L77.1 444.1M87.5 438.9L86.1 439.5M81.9 441.7L77.1 444.1M98.0 434.1L103.1 431.8M84.1 431.4L80.6 427.4M95.3 444.2L98.8 448.2M92.4 436.9L94.1 436.4M90.4 446.2L90.8 451.3M105.1 431.4L103.1 431.8M116.7 427.1L121.8 424.8M102.8 424.4L99.3 420.4M114.0 437.2L117.5 441.2M111.1 429.9L112.8 429.4M108.5 438.9L108.6 443.9M125.2 428.1L121.8 424.8M122.5 438.3L117.5 441.2M139.0 429.8L144.1 427.5M128.0 434.4L126.3 434.9M136.3 439.9L139.8 443.9M133.4 432.6L135.1 432.1M130.8 441.8L130.9 446.9M147.6 431.4L144.1 427.5M144.9 441.6L139.8 443.9M161.5 434.1L166.6 431.8M150.5 438.7L148.8 439.2M158.8 444.2L162.3 448.2M155.9 436.9L157.6 436.4M89.6 443.5L86.1 439.5M86.9 453.6L81.8 455.9M97.4 448.8L98.8 448.2M94.5 441.5L94.1 436.4M103.5 446.2L108.6 443.9M92.5 450.8L90.8 451.3M100.8 456.3L104.3 460.3M106.7 435.6L103.1 431.8M115.7 441.4L117.5 441.2M112.8 434.1L112.8 429.4M121.1 437.5L126.3 434.9M110.2 443.1L108.6 443.9M118.3 448.2L121.8 452.2M113.1 449.7L113.4 454.6M129.7 438.9L126.3 434.9M138.1 444.5L139.8 443.9M135.2 437.2L135.1 432.1M143.7 441.6L148.8 439.2M126.9 449.7L121.8 452.2M132.6 446.4L130.9 446.9M140.9 451.9L144.4 455.9M117.6 445.8L117.5 441.2M112.1 447.4L108.6 443.9M109.4 457.6L104.3 460.3M120.3 452.6L121.8 452.2M125.9 449.3L130.9 446.9M115.1 454.1L113.4 454.6M123.4 459.6L126.9 463.6" stroke="#d62020" stroke-width="1.6" fill="none"/><use href="#O23" x="86.1" y="439.5"/><use href="#O23" x="68.3" y="446.9"/><use href="#O23" x="63.6" y="435.1"/><use href="#O23" x="81.8" y="455.9"/><use href="#O23" x="59.3" y="451.5"/><use href="#O23" x="77.1" y="444.1"/><use href="#O23" x="103.1" y="431.8"/><use href="#O23" x="80.6" y="427.4"/><use href="#O23" x="98.8" y="448.2"/><use href="#O23" x="94.1" y="436.4"/><use href="#O23" x="121.8" y="424.8"/><use href="#O23" x="99.3" y="420.4"/><use href="#O23" x="117.5" y="441.2"/><use href="#O23" x="112.8" y="429.4"/><use href="#O23" x="144.1" y="427.5"/><use href="#O23" x="126.3" y="434.9"/><use href="#O23" x="139.8" y="443.9"/><use href="#O23" x="135.1" y="432.1"/><use href="#O23" x="166.6" y="431.8"/><use href="#O23" x="148.8" y="439.2"/><use href="#O23" x="162.3" y="448.2"/><use href="#O23" x="157.6" y="436.4"/><use href="#O23" x="108.6" y="443.9"/><use href="#O23" x="90.8" y="451.3"/><use href="#O23" x="104.3" y="460.3"/><use href="#O23" x="121.8" y="452.2"/><use href="#O23" x="130.9" y="446.9"/><use href="#O23" x="144.4" y="455.9"/><use href="#O23" x="113.4" y="454.6"/><use href="#O23" x="126.9" y="463.6"/><use href="#H13" x="64.0" y="456.0"/><use href="#H13" x="86.0" y="459.0"/><use href="#H13" x="104.0" y="462.0"/><use href="#H13" x="128.0" y="458.0"/><use href="#H13" x="146.0" y="455.0"/><use href="#H13" x="160.0" y="449.0"/><use href="#Co39" x="72.7" y="445.5"/><use href="#Co39" x="89.7" y="437.8"/><use href="#Co39" x="108.4" y="430.8"/><use href="#Co39" x="130.7" y="433.5"/><use href="#Co39" x="153.2" y="437.8"/><use href="#Co39" x="95.2" y="449.9"/><use href="#Co39" x="112.7" y="441.8"/><use href="#Co39" x="135.3" y="445.5"/><use href="#Co39" x="117.8" y="453.2"/><path d="M108.4 430.8L110.2 424.2" stroke="#2222a8" stroke-width="1.1"/><path d="M110.2 424.2L112.1 417.7" stroke="#d62020" stroke-width="1.1"/><use href="#O20" x="112.1" y="417.7"/><path d="M130.7 433.5L132.9 427.4" stroke="#2222a8" stroke-width="1.1"/><path d="M132.9 427.4L135.1 421.4" stroke="#d62020" stroke-width="1.1"/><use href="#O20" x="135.1" y="421.4"/><path d="M153.2 437.8L159.6 441.1" stroke="#2222a8" stroke-width="1.1"/><path d="M159.6 441.1L165.9 444.4" stroke="#d62020" stroke-width="1.1"/><use href="#O20" x="165.9" y="444.4"/><use href="#H13" x="166.4" y="451.4"/><use href="#O20" x="165.9" y="463.0"/><path d="M104.0 487.8L101.8 492.9" stroke="#2222a8" stroke-width="1.1"/><path d="M101.8 492.9L99.5 498.0" stroke="#d62020" stroke-width="1.1"/><use href="#O20" x="99.5" y="498.0"/><use href="#H13" x="99.0" y="505.5"/><circle cx="100.7" cy="441.1" r="17.7" fill="none" stroke="#20d838" stroke-width="0.8" stroke-dasharray="2 1.3"/><text x="76.20" y="420.40" font-size="7.0" fill="#1fb060">active site</text><clipPath id="hcl1"><circle cx="44.4" cy="395.7" r="34.5"/></clipPath><g clip-path="url(#hcl1)"><circle cx="44.40" cy="395.70" r="34.50" fill="#fff" /><path d="M7.8 409.8L10.7 401.4M7.8 409.8L16.6 412.9M7.8 409.8L13.4 406.4M31.3 399.3L34.2 390.9M31.3 399.3L28.4 407.7M31.3 399.3L22.4 396.1M31.3 399.3L40.1 402.4M31.3 399.3L37.0 395.9M31.3 399.3L25.6 402.6M54.8 388.8L57.7 380.4M54.8 388.8L51.9 397.2M54.8 388.8L46.0 385.6M54.8 388.8L63.6 391.9M54.8 388.8L60.4 385.4M54.8 388.8L49.1 392.1M78.3 378.3L75.4 386.7M78.3 378.3L69.4 375.1M78.3 378.3L72.7 381.6M14.3 424.6L17.2 416.2M14.3 424.6L23.1 427.8M14.3 424.6L19.9 421.2M37.8 414.1L40.7 405.7M37.8 414.1L34.9 422.5M37.8 414.1L28.9 410.9M37.8 414.1L46.6 417.2M37.8 414.1L43.5 410.8M37.8 414.1L32.1 417.4M61.3 403.6L64.2 395.2M61.3 403.6L58.4 412.0M61.3 403.6L52.4 400.4M61.3 403.6L70.2 406.8M61.3 403.6L66.9 400.2M61.3 403.6L55.6 406.9M84.8 393.1L81.9 401.5M84.8 393.1L75.9 389.9M84.8 393.1L79.2 396.4M20.8 439.4L23.7 431.0M44.3 428.9L47.2 420.5M44.3 428.9L35.5 425.8M44.3 428.9L50.0 425.5M67.8 418.4L70.7 410.0M67.8 418.4L58.9 415.2M67.8 418.4L73.4 415.0M67.8 418.4L62.1 421.8M91.3 407.9L82.4 404.8M50.8 443.7L53.7 435.3M74.3 433.2L65.4 430.0" stroke="#9c9cdc" stroke-width="2.4" fill="none"/><path d="M10.7 401.4L13.6 393.0M16.6 412.9L25.5 416.1M13.4 406.4L19.1 403.1M34.2 390.9L37.1 382.5M28.4 407.7L25.5 416.1M22.4 396.1L13.6 393.0M40.1 402.4L49.0 405.6M37.0 395.9L42.6 392.6M25.6 402.6L20.0 406.0M57.7 380.4L60.6 372.0M51.9 397.2L49.0 405.6M46.0 385.6L37.1 382.5M63.6 391.9L72.5 395.1M60.4 385.4L66.1 382.1M49.1 392.1L43.5 395.5M75.4 386.7L72.5 395.1M69.4 375.1L60.6 372.0M72.7 381.6L67.0 385.0M17.2 416.2L20.1 407.8M23.1 427.8L32.0 430.9M19.9 421.2L25.6 417.9M40.7 405.7L43.6 397.3M34.9 422.5L32.0 430.9M28.9 410.9L20.1 407.8M46.6 417.2L55.5 420.4M43.5 410.8L49.1 407.4M32.1 417.4L26.5 420.8M64.2 395.2L67.1 386.8M58.4 412.0L55.5 420.4M52.4 400.4L43.6 397.3M70.2 406.8L79.0 409.9M66.9 400.2L72.6 396.9M55.6 406.9L50.0 410.3M81.9 401.5L79.0 409.9M75.9 389.9L67.1 386.8M79.2 396.4L73.5 399.8M23.7 431.0L26.6 422.6M47.2 420.5L50.1 412.1M35.5 425.8L26.6 422.6M50.0 425.5L55.6 422.2M70.7 410.0L73.6 401.6M58.9 415.2L50.1 412.1M73.4 415.0L79.1 411.7M62.1 421.8L56.5 425.1M82.4 404.8L73.6 401.6M53.7 435.3L56.6 426.9M65.4 430.0L56.6 426.9" stroke="#f0a4a4" stroke-width="2.4" fill="none"/><use href="#CoF53" x="7.8" y="409.8"/><use href="#CoF53" x="54.8" y="388.8"/><use href="#CoF53" x="78.3" y="378.3"/><use href="#CoF53" x="44.3" y="428.9"/><use href="#CoF53" x="67.8" y="418.4"/><use href="#OF28" x="13.6" y="393.0"/><use href="#OF28" x="25.5" y="416.1"/><use href="#OF28" x="19.1" y="403.1"/><use href="#OF28" x="37.1" y="382.5"/><use href="#OF28" x="49.0" y="405.6"/><use href="#OF28" x="42.6" y="392.6"/><use href="#OF28" x="20.0" y="406.0"/><use href="#OF28" x="60.6" y="372.0"/><use href="#OF28" x="72.5" y="395.1"/><use href="#OF28" x="66.1" y="382.1"/><use href="#OF28" x="43.5" y="395.5"/><use href="#OF28" x="67.0" y="385.0"/><use href="#OF28" x="32.0" y="430.9"/><use href="#OF28" x="55.5" y="420.4"/><use href="#OF28" x="26.5" y="420.8"/><use href="#OF28" x="79.0" y="409.9"/><use href="#OF28" x="50.0" y="410.3"/><use href="#OF28" x="73.5" y="399.8"/><use href="#OF28" x="56.5" y="425.1"/><use href="#H12" x="42.4" y="400.2" opacity="0.8"/><use href="#H12" x="45.9" y="412.2" opacity="0.8"/><use href="#H12" x="24.4" y="412.7" opacity="0.8"/><use href="#H12" x="56.4" y="415.7" opacity="0.8"/><use href="#Co54" x="31.3" y="399.3"/><use href="#Co54" x="61.3" y="403.6"/><use href="#Co54" x="37.8" y="414.1"/></g><circle cx="44.4" cy="395.7" r="34.5" fill="none" stroke="#111" stroke-width="1.05"/><text x="42.60" y="368.80" font-size="6.7" fill="#222" text-anchor="middle">q=1.38</text><text x="41.60" y="376.90" font-size="6.7" fill="#222" text-anchor="middle">|m|=1.997</text><text x="21.10" y="391.20" font-size="6.7" fill="#222">+2</text><clipPath id="hcl2"><circle cx="168.7" cy="396.2" r="34.8"/></clipPath><g clip-path="url(#hcl2)"><circle cx="168.70" cy="396.20" r="34.80" fill="#fff" /><path d="M132.1 410.3L135.0 401.9M132.1 410.3L140.9 413.4M132.1 410.3L137.8 406.9M155.6 399.8L158.5 391.4M155.6 399.8L152.7 408.2M155.6 399.8L146.8 396.6M155.6 399.8L164.4 402.9M155.6 399.8L149.9 403.1M179.1 389.3L182.0 380.9M179.1 389.3L176.2 397.7M179.1 389.3L170.2 386.1M179.1 389.3L187.9 392.4M179.1 389.3L184.8 385.9M179.1 389.3L173.4 392.6M202.6 378.8L199.7 387.2M202.6 378.8L193.8 375.6M202.6 378.8L196.9 382.1M138.6 425.1L141.5 416.7M138.6 425.1L147.4 428.2M138.6 425.1L144.2 421.8M162.1 414.6L165.0 406.2M162.1 414.6L159.2 423.0M162.1 414.6L153.2 411.4M162.1 414.6L170.9 417.8M162.1 414.6L167.8 411.2M162.1 414.6L156.4 417.9M185.6 404.1L188.5 395.7M185.6 404.1L182.7 412.5M185.6 404.1L176.8 400.9M185.6 404.1L194.4 407.2M185.6 404.1L191.2 400.8M185.6 404.1L179.9 407.4M209.1 393.6L206.2 402.0M209.1 393.6L200.2 390.4M209.1 393.6L203.4 396.9M145.1 439.9L148.0 431.5M168.6 429.4L171.5 421.0M168.6 429.4L159.8 426.2M168.6 429.4L174.2 426.0M192.1 418.9L195.0 410.5M192.1 418.9L183.2 415.8M192.1 418.9L197.8 415.5M192.1 418.9L186.4 422.2M215.6 408.4L206.8 405.2M175.1 444.2L178.0 435.8M198.6 433.7L189.8 430.5" stroke="#9c9cdc" stroke-width="2.4" fill="none"/><path d="M135.0 401.9L137.9 393.5M140.9 413.4L149.8 416.6M137.8 406.9L143.4 403.6M158.5 391.4L161.4 383.0M152.7 408.2L149.8 416.6M146.8 396.6L137.9 393.5M164.4 402.9L173.3 406.1M149.9 403.1L144.3 406.5M182.0 380.9L184.9 372.5M176.2 397.7L173.3 406.1M170.2 386.1L161.4 383.0M187.9 392.4L196.8 395.6M184.8 385.9L190.4 382.6M173.4 392.6L167.8 396.0M199.7 387.2L196.8 395.6M193.8 375.6L184.9 372.5M196.9 382.1L191.3 385.5M141.5 416.7L144.4 408.3M147.4 428.2L156.3 431.4M144.2 421.8L149.9 418.4M165.0 406.2L167.9 397.8M159.2 423.0L156.3 431.4M153.2 411.4L144.4 408.3M170.9 417.8L179.8 420.9M167.8 411.2L173.4 407.9M156.4 417.9L150.8 421.3M188.5 395.7L191.4 387.3M182.7 412.5L179.8 420.9M176.8 400.9L167.9 397.8M194.4 407.2L203.3 410.4M191.2 400.8L196.9 397.4M179.9 407.4L174.3 410.8M206.2 402.0L203.3 410.4M200.2 390.4L191.4 387.3M203.4 396.9L197.8 400.3M148.0 431.5L150.9 423.1M171.5 421.0L174.4 412.6M159.8 426.2L150.9 423.1M174.2 426.0L179.9 422.7M195.0 410.5L197.9 402.1M183.2 415.8L174.4 412.6M197.8 415.5L203.4 412.2M186.4 422.2L180.8 425.6M206.8 405.2L197.9 402.1M178.0 435.8L180.9 427.4M189.8 430.5L180.9 427.4" stroke="#f0a4a4" stroke-width="2.4" fill="none"/><use href="#CoF53" x="132.1" y="410.3"/><use href="#CoF53" x="179.1" y="389.3"/><use href="#CoF53" x="202.6" y="378.8"/><use href="#CoF53" x="168.6" y="429.4"/><use href="#CoF53" x="192.1" y="418.9"/><use href="#OF28" x="137.9" y="393.5"/><use href="#OF28" x="149.8" y="416.6"/><use href="#OF28" x="143.4" y="403.6"/><use href="#OF28" x="161.4" y="383.0"/><use href="#OF28" x="173.3" y="406.1"/><use href="#OF28" x="144.3" y="406.5"/><use href="#OF28" x="184.9" y="372.5"/><use href="#OF28" x="196.8" y="395.6"/><use href="#OF28" x="190.4" y="382.6"/><use href="#OF28" x="167.8" y="396.0"/><use href="#OF28" x="191.3" y="385.5"/><use href="#OF28" x="156.3" y="431.4"/><use href="#OF28" x="179.8" y="420.9"/><use href="#OF28" x="150.8" y="421.3"/><use href="#OF28" x="203.3" y="410.4"/><use href="#OF28" x="174.3" y="410.8"/><use href="#OF28" x="197.8" y="400.3"/><use href="#OF28" x="180.8" y="425.6"/><use href="#H12" x="166.7" y="400.7" opacity="0.8"/><use href="#H12" x="170.2" y="412.7" opacity="0.8"/><use href="#H12" x="148.7" y="413.2" opacity="0.8"/><use href="#H12" x="180.7" y="416.2" opacity="0.8"/><path d="M155.6 399.8L161.4 398.7" stroke="#2222a8" stroke-width="1.9"/><path d="M161.4 398.7L167.3 397.6" stroke="#d62020" stroke-width="1.9"/><path d="M185.6 404.1L176.4 400.8" stroke="#2222a8" stroke-width="1.9"/><path d="M176.4 400.8L167.3 397.6" stroke="#d62020" stroke-width="1.9"/><path d="M162.1 414.6L164.7 406.1" stroke="#2222a8" stroke-width="1.9"/><path d="M164.7 406.1L167.3 397.6" stroke="#d62020" stroke-width="1.9"/><line x1="167.30" y1="397.60" x2="167.30" y2="388.60" stroke="#e0a0a0" stroke-width="1.2" /><use href="#H16" x="167.3" y="388.6"/><use href="#Co54" x="155.6" y="399.8"/><use href="#Co54" x="185.6" y="404.1"/><use href="#Co54" x="162.1" y="414.6"/><use href="#O26" x="167.3" y="397.6"/></g><circle cx="168.7" cy="396.2" r="34.8" fill="none" stroke="#111" stroke-width="1.05"/><text x="166.00" y="369.30" font-size="6.7" fill="#222" text-anchor="middle">q=1.49</text><text x="164.30" y="377.40" font-size="6.7" fill="#222" text-anchor="middle">|m|=0.001</text><text x="145.80" y="390.80" font-size="6.7" fill="#222">+3</text><clipPath id="hcl3"><circle cx="44.4" cy="519.8" r="34.5"/></clipPath><g clip-path="url(#hcl3)"><circle cx="44.40" cy="519.80" r="34.50" fill="#fff" /><path d="M7.8 533.9L10.7 525.5M7.8 533.9L16.6 537.0M7.8 533.9L13.4 530.5M31.3 523.4L34.2 515.0M31.3 523.4L28.4 531.8M31.3 523.4L22.4 520.2M31.3 523.4L40.1 526.5M31.3 523.4L25.6 526.8M54.8 512.9L57.7 504.5M54.8 512.9L51.9 521.3M54.8 512.9L46.0 509.8M54.8 512.9L63.6 516.0M54.8 512.9L60.4 509.5M54.8 512.9L49.1 516.2M78.3 502.4L75.4 510.8M78.3 502.4L69.4 499.2M78.3 502.4L72.7 505.8M14.3 548.7L17.2 540.3M14.3 548.7L23.1 551.8M14.3 548.7L19.9 545.3M37.8 538.2L40.7 529.8M37.8 538.2L34.9 546.6M37.8 538.2L28.9 535.0M37.8 538.2L46.6 541.3M37.8 538.2L43.5 534.8M37.8 538.2L32.1 541.5M61.3 527.7L64.2 519.3M61.3 527.7L58.4 536.1M61.3 527.7L52.4 524.5M61.3 527.7L70.2 530.8M61.3 527.7L66.9 524.3M61.3 527.7L55.6 531.0M84.8 517.2L81.9 525.6M84.8 517.2L75.9 514.0M84.8 517.2L79.2 520.5M20.8 563.5L23.7 555.1M44.3 553.0L47.2 544.6M44.3 553.0L35.5 549.8M44.3 553.0L50.0 549.6M67.8 542.5L70.7 534.1M67.8 542.5L58.9 539.3M67.8 542.5L73.4 539.1M67.8 542.5L62.1 545.8M91.3 532.0L82.4 528.8M50.8 567.8L53.7 559.4M74.3 557.3L65.4 554.1" stroke="#9c9cdc" stroke-width="2.4" fill="none"/><path d="M10.7 525.5L13.6 517.1M16.6 537.0L25.5 540.2M13.4 530.5L19.1 527.2M34.2 515.0L37.1 506.6M28.4 531.8L25.5 540.2M22.4 520.2L13.6 517.1M40.1 526.5L49.0 529.7M25.6 526.8L20.0 530.1M57.7 504.5L60.6 496.1M51.9 521.3L49.0 529.7M46.0 509.8L37.1 506.6M63.6 516.0L72.5 519.2M60.4 509.5L66.1 506.2M49.1 516.2L43.5 519.6M75.4 510.8L72.5 519.2M69.4 499.2L60.6 496.1M72.7 505.8L67.0 509.1M17.2 540.3L20.1 531.9M23.1 551.8L32.0 555.0M19.9 545.3L25.6 542.0M40.7 529.8L43.6 521.4M34.9 546.6L32.0 555.0M28.9 535.0L20.1 531.9M46.6 541.3L55.5 544.5M43.5 534.8L49.1 531.5M32.1 541.5L26.5 544.9M64.2 519.3L67.1 510.9M58.4 536.1L55.5 544.5M52.4 524.5L43.6 521.4M70.2 530.8L79.0 534.0M66.9 524.3L72.6 521.0M55.6 531.0L50.0 534.4M81.9 525.6L79.0 534.0M75.9 514.0L67.1 510.9M79.2 520.5L73.5 523.9M23.7 555.1L26.6 546.7M47.2 544.6L50.1 536.2M35.5 549.8L26.6 546.7M50.0 549.6L55.6 546.3M70.7 534.1L73.6 525.7M58.9 539.3L50.1 536.2M73.4 539.1L79.1 535.8M62.1 545.8L56.5 549.2M82.4 528.8L73.6 525.7M53.7 559.4L56.6 551.0M65.4 554.1L56.6 551.0" stroke="#f0a4a4" stroke-width="2.4" fill="none"/><use href="#CoF53" x="7.8" y="533.9"/><use href="#CoF53" x="54.8" y="512.9"/><use href="#CoF53" x="78.3" y="502.4"/><use href="#CoF53" x="44.3" y="553.0"/><use href="#CoF53" x="67.8" y="542.5"/><use href="#OF28" x="13.6" y="517.1"/><use href="#OF28" x="25.5" y="540.2"/><use href="#OF28" x="19.1" y="527.2"/><use href="#OF28" x="37.1" y="506.6"/><use href="#OF28" x="49.0" y="529.7"/><use href="#OF28" x="20.0" y="530.1"/><use href="#OF28" x="60.6" y="496.1"/><use href="#OF28" x="72.5" y="519.2"/><use href="#OF28" x="66.1" y="506.2"/><use href="#OF28" x="43.5" y="519.6"/><use href="#OF28" x="67.0" y="509.1"/><use href="#OF28" x="32.0" y="555.0"/><use href="#OF28" x="55.5" y="544.5"/><use href="#OF28" x="26.5" y="544.9"/><use href="#OF28" x="79.0" y="534.0"/><use href="#OF28" x="50.0" y="534.4"/><use href="#OF28" x="73.5" y="523.9"/><use href="#OF28" x="56.5" y="549.2"/><use href="#H12" x="42.4" y="524.3" opacity="0.8"/><use href="#H12" x="45.9" y="536.3" opacity="0.8"/><use href="#H12" x="24.4" y="536.8" opacity="0.8"/><use href="#H12" x="56.4" y="539.8" opacity="0.8"/><path d="M31.3 523.4L37.1 522.3" stroke="#2222a8" stroke-width="1.9"/><path d="M37.1 522.3L43.0 521.2" stroke="#d62020" stroke-width="1.9"/><path d="M61.3 527.7L52.1 524.4" stroke="#2222a8" stroke-width="1.9"/><path d="M52.1 524.4L43.0 521.2" stroke="#d62020" stroke-width="1.9"/><path d="M37.8 538.2L40.4 529.7" stroke="#2222a8" stroke-width="1.9"/><path d="M40.4 529.7L43.0 521.2" stroke="#d62020" stroke-width="1.9"/><line x1="43.00" y1="521.20" x2="43.40" y2="506.70" stroke="#d62020" stroke-width="1.9" /><use href="#O26" x="43.4" y="506.7"/><use href="#Co54" x="31.3" y="523.4"/><use href="#Co54" x="61.3" y="527.7"/><use href="#Co54" x="37.8" y="538.2"/><use href="#O26" x="43.0" y="521.2"/></g><circle cx="44.4" cy="519.8" r="34.5" fill="none" stroke="#111" stroke-width="1.05"/><text x="42.10" y="492.90" font-size="6.7" fill="#222" text-anchor="middle">q=1.52</text><text x="41.20" y="501.00" font-size="6.7" fill="#222" text-anchor="middle">|m|=0.003</text><text x="24.20" y="516.20" font-size="6.7" fill="#222">+3</text><clipPath id="hcl4"><circle cx="168.7" cy="519.8" r="34.8"/></clipPath><g clip-path="url(#hcl4)"><circle cx="168.70" cy="519.80" r="34.80" fill="#fff" /><path d="M132.1 533.9L135.0 525.5M132.1 533.9L140.9 537.0M132.1 533.9L137.8 530.5M155.6 523.4L158.5 515.0M155.6 523.4L152.7 531.8M155.6 523.4L146.8 520.2M155.6 523.4L164.4 526.5M155.6 523.4L149.9 526.8M179.1 512.9L182.0 504.5M179.1 512.9L176.2 521.3M179.1 512.9L170.2 509.8M179.1 512.9L187.9 516.0M179.1 512.9L184.8 509.5M179.1 512.9L173.4 516.2M202.6 502.4L199.7 510.8M202.6 502.4L193.8 499.2M202.6 502.4L196.9 505.8M138.6 548.7L141.5 540.3M138.6 548.7L147.4 551.8M138.6 548.7L144.2 545.3M162.1 538.2L165.0 529.8M162.1 538.2L159.2 546.6M162.1 538.2L153.2 535.0M162.1 538.2L170.9 541.3M162.1 538.2L167.8 534.8M162.1 538.2L156.4 541.5M185.6 527.7L188.5 519.3M185.6 527.7L182.7 536.1M185.6 527.7L176.8 524.5M185.6 527.7L194.4 530.8M185.6 527.7L191.2 524.3M185.6 527.7L179.9 531.0M209.1 517.2L206.2 525.6M209.1 517.2L200.2 514.0M209.1 517.2L203.4 520.5M145.1 563.5L148.0 555.1M168.6 553.0L171.5 544.6M168.6 553.0L159.8 549.8M168.6 553.0L174.2 549.6M192.1 542.5L195.0 534.1M192.1 542.5L183.2 539.3M192.1 542.5L197.8 539.1M192.1 542.5L186.4 545.8M215.6 532.0L206.8 528.8M175.1 567.8L178.0 559.4M198.6 557.3L189.8 554.1" stroke="#9c9cdc" stroke-width="2.4" fill="none"/><path d="M135.0 525.5L137.9 517.1M140.9 537.0L149.8 540.2M137.8 530.5L143.4 527.2M158.5 515.0L161.4 506.6M152.7 531.8L149.8 540.2M146.8 520.2L137.9 517.1M164.4 526.5L173.3 529.7M149.9 526.8L144.3 530.1M182.0 504.5L184.9 496.1M176.2 521.3L173.3 529.7M170.2 509.8L161.4 506.6M187.9 516.0L196.8 519.2M184.8 509.5L190.4 506.2M173.4 516.2L167.8 519.6M199.7 510.8L196.8 519.2M193.8 499.2L184.9 496.1M196.9 505.8L191.3 509.1M141.5 540.3L144.4 531.9M147.4 551.8L156.3 555.0M144.2 545.3L149.9 542.0M165.0 529.8L167.9 521.4M159.2 546.6L156.3 555.0M153.2 535.0L144.4 531.9M170.9 541.3L179.8 544.5M167.8 534.8L173.4 531.5M156.4 541.5L150.8 544.9M188.5 519.3L191.4 510.9M182.7 536.1L179.8 544.5M176.8 524.5L167.9 521.4M194.4 530.8L203.3 534.0M191.2 524.3L196.9 521.0M179.9 531.0L174.3 534.4M206.2 525.6L203.3 534.0M200.2 514.0L191.4 510.9M203.4 520.5L197.8 523.9M148.0 555.1L150.9 546.7M171.5 544.6L174.4 536.2M159.8 549.8L150.9 546.7M174.2 549.6L179.9 546.3M195.0 534.1L197.9 525.7M183.2 539.3L174.4 536.2M197.8 539.1L203.4 535.8M186.4 545.8L180.8 549.2M206.8 528.8L197.9 525.7M178.0 559.4L180.9 551.0M189.8 554.1L180.9 551.0" stroke="#f0a4a4" stroke-width="2.4" fill="none"/><use href="#CoF53" x="132.1" y="533.9"/><use href="#CoF53" x="179.1" y="512.9"/><use href="#CoF53" x="202.6" y="502.4"/><use href="#CoF53" x="168.6" y="553.0"/><use href="#CoF53" x="192.1" y="542.5"/><use href="#OF28" x="137.9" y="517.1"/><use href="#OF28" x="149.8" y="540.2"/><use href="#OF28" x="143.4" y="527.2"/><use href="#OF28" x="161.4" y="506.6"/><use href="#OF28" x="173.3" y="529.7"/><use href="#OF28" x="144.3" y="530.1"/><use href="#OF28" x="184.9" y="496.1"/><use href="#OF28" x="196.8" y="519.2"/><use href="#OF28" x="190.4" y="506.2"/><use href="#OF28" x="167.8" y="519.6"/><use href="#OF28" x="191.3" y="509.1"/><use href="#OF28" x="156.3" y="555.0"/><use href="#OF28" x="179.8" y="544.5"/><use href="#OF28" x="150.8" y="544.9"/><use href="#OF28" x="203.3" y="534.0"/><use href="#OF28" x="174.3" y="534.4"/><use href="#OF28" x="197.8" y="523.9"/><use href="#OF28" x="180.8" y="549.2"/><use href="#H12" x="166.7" y="524.3" opacity="0.8"/><use href="#H12" x="170.2" y="536.3" opacity="0.8"/><use href="#H12" x="148.7" y="536.8" opacity="0.8"/><use href="#H12" x="180.7" y="539.8" opacity="0.8"/><path d="M155.6 523.4L161.4 522.3" stroke="#2222a8" stroke-width="1.9"/><path d="M161.4 522.3L167.3 521.2" stroke="#d62020" stroke-width="1.9"/><path d="M185.6 527.7L176.4 524.4" stroke="#2222a8" stroke-width="1.9"/><path d="M176.4 524.4L167.3 521.2" stroke="#d62020" stroke-width="1.9"/><path d="M162.1 538.2L164.7 529.7" stroke="#2222a8" stroke-width="1.9"/><path d="M164.7 529.7L167.3 521.2" stroke="#d62020" stroke-width="1.9"/><line x1="167.30" y1="521.20" x2="167.30" y2="512.20" stroke="#e0a0a0" stroke-width="1.2" /><use href="#H16" x="167.3" y="512.2"/><use href="#Co54" x="155.6" y="523.4"/><use href="#Co54" x="185.6" y="527.7"/><use href="#Co54" x="162.1" y="538.2"/><use href="#O26" x="167.3" y="521.2"/></g><circle cx="168.7" cy="519.8" r="34.8" fill="none" stroke="#111" stroke-width="1.05"/><text x="165.50" y="492.90" font-size="6.7" fill="#222" text-anchor="middle">q=1.48</text><text x="164.30" y="501.00" font-size="6.7" fill="#222" text-anchor="middle">|m|=0.028</text><text x="145.80" y="515.00" font-size="6.7" fill="#222">+3</text><path d="M78.3 382.2Q106.0 371.5 134.3 381.4" fill="none" stroke="#111" stroke-width="1.1" marker-end="url(#arK)"/><path d="M77.4 367.4Q81.0 376.0 92.0 377.5" fill="none" stroke="#111" stroke-width="1.1" marker-end="url(#arK)"/><path d="M115.0 376.9Q124.5 379.0 126.6 390.3" fill="none" stroke="#111" stroke-width="1.1" marker-end="url(#arK)"/><text x="86.00" y="370.20" font-size="6.8" fill="#222">+OH<tspan dy="-2.6" font-size="4.5">-</tspan><tspan dy="2.6" font-size="0.1">&#8203;</tspan></text><text x="112.50" y="388.60" font-size="6.8" fill="#222">-e<tspan dy="-2.6" font-size="4.5">-</tspan><tspan dy="2.6" font-size="0.1">&#8203;</tspan></text><path d="M184.0 428.8Q196.0 458.0 186.6 487.3" fill="none" stroke="#111" stroke-width="1.1" marker-end="url(#arK)"/><path d="M199.2 431.5Q191.5 435.0 190.8 445.0" fill="none" stroke="#111" stroke-width="1.1" marker-end="url(#arK)"/><path d="M190.6 466.0Q188.0 476.5 176.8 479.5" fill="none" stroke="#111" stroke-width="1.1" marker-end="url(#arK)"/><text x="194.70" y="445.40" font-size="6.8" fill="#222">+OH<tspan dy="-2.6" font-size="4.5">-</tspan><tspan dy="2.6" font-size="0.1">&#8203;</tspan></text><text x="166.90" y="474.20" font-size="6.8" fill="#222">-H<tspan dy="1.2" font-size="4.5">2</tspan><tspan dy="-1.2" font-size="0.1">&#8203;</tspan>O</text><text x="177.70" y="485.00" font-size="6.8" fill="#222">-e<tspan dy="-2.6" font-size="4.5">-</tspan><tspan dy="2.6" font-size="0.1">&#8203;</tspan></text><path d="M137.4 539.0Q108.0 550.0 77.2 540.0" fill="none" stroke="#111" stroke-width="1.1" marker-end="url(#arK)"/><path d="M132.9 554.7Q130.0 548.0 120.5 546.8" fill="none" stroke="#111" stroke-width="1.1" marker-end="url(#arK)"/><path d="M101.0 545.4Q88.5 543.0 84.4 530.8" fill="none" stroke="#111" stroke-width="1.1" marker-end="url(#arK)"/><text x="109.90" y="557.60" font-size="6.8" fill="#222">+OH<tspan dy="-2.6" font-size="4.5">-</tspan><tspan dy="2.6" font-size="0.1">&#8203;</tspan></text><text x="89.60" y="535.50" font-size="6.8" fill="#222">-H<tspan dy="1.2" font-size="4.5">2</tspan><tspan dy="-1.2" font-size="0.1">&#8203;</tspan>O</text><path d="M26.6 488.2Q19.5 459.0 27.0 430.3" fill="none" stroke="#f01414" stroke-width="1.1" marker-end="url(#arR)"/><path d="M22.9 452.0Q23.5 438.0 19.8 430.3" fill="none" stroke="#f01414" stroke-width="1.1" marker-end="url(#arR)"/><path d="M22.8 456.0Q24.5 443.5 36.4 438.6" fill="none" stroke="#f01414" stroke-width="1.1" marker-end="url(#arR)"/><path d="M11.5 487.5Q21.0 482.0 22.7 469.0" fill="none" stroke="#f01414" stroke-width="1.1" marker-end="url(#arR)"/><text x="7.90" y="433.70" font-size="6.8" fill="#20b860">-O<tspan dy="1.2" font-size="4.5">2</tspan><tspan dy="-1.2" font-size="0.1">&#8203;</tspan></text><text x="39.00" y="438.80" font-size="6.8" fill="#222">-e<tspan dy="-2.6" font-size="4.5">-</tspan><tspan dy="2.6" font-size="0.1">&#8203;</tspan></text><text x="31.90" y="448.80" font-size="6.8" fill="#222">-H<tspan dy="1.2" font-size="4.5">2</tspan><tspan dy="-1.2" font-size="0.1">&#8203;</tspan>O</text><text x="0.70" y="482.50" font-size="6.8" fill="#222">+OH<tspan dy="-2.6" font-size="4.5">-</tspan><tspan dy="2.6" font-size="0.1">&#8203;</tspan></text><text x="25.50" y="461.30" font-size="6.8" fill="#f03030">PDS</text></g><g id="pi"><text x="232.60" y="360.40" font-size="9.5" fill="#000" font-weight="bold">i</text><path d="M319.2 453.9L323.2 455.3M322.2 458.4L326.2 459.8M314.2 461.4L318.2 462.8M327.2 451.9L331.2 453.3" stroke="#888" stroke-width="0.5" fill="none"/><path d="M299.2 455.6L295.0 447.6M299.2 455.6L299.6 445.3M299.2 455.6L306.5 451.4M299.2 455.6L302.0 453.9M299.2 455.6L292.6 460.9M299.2 455.6L303.9 464.4M299.2 455.6L297.4 461.0M299.2 455.6L308.8 456.8M307.4 451.5L302.8 443.6M307.4 451.5L309.8 449.8M307.4 451.5L314.7 447.5M307.4 451.5L305.3 452.2M307.4 451.5L311.8 460.4M307.4 451.5L300.7 459.4M307.4 451.5L312.1 455.2M295.1 478.3L291.0 470.0M295.1 478.3L297.6 475.9M295.1 478.3L302.2 473.4M295.1 478.3L294.3 481.6M295.1 478.3L298.9 479.7M295.1 478.3L295.8 470.1M303.3 475.4L300.8 474.7M303.3 475.4L305.5 472.3M303.3 475.4L310.1 469.9M303.3 475.4L297.5 480.4M303.3 475.4L302.2 478.6M303.3 475.4L312.7 479.6M303.3 475.4L299.0 468.9M311.4 471.9L304.1 473.3M311.4 471.9L308.8 470.9M311.4 471.9L313.4 468.5M311.4 471.9L318.5 465.3M311.4 471.9L305.5 477.2M311.4 471.9L316.0 478.2M311.4 471.9L320.4 475.7M311.4 471.9L302.3 467.5M311.4 471.9L313.7 463.3" stroke="#2222a8" stroke-width="1.5" fill="none"/><path d="M295.0 447.6L292.2 442.2M299.6 445.3L299.8 438.4M306.5 451.4L311.4 448.6M302.0 453.9L303.9 452.7M292.6 460.9L288.2 464.4M303.9 464.4L307.0 470.2M297.4 461.0L296.2 464.6M308.8 456.8L315.2 457.6M302.8 443.6L299.8 438.4M309.8 449.8L311.4 448.6M314.7 447.5L319.6 444.9M305.3 452.2L303.9 452.7M311.8 460.4L314.7 466.3M300.7 459.4L296.2 464.6M312.1 455.2L315.2 457.6M291.0 470.0L288.2 464.4M297.6 475.9L299.2 474.3M302.2 473.4L307.0 470.2M294.3 481.6L293.7 483.8M298.9 479.7L301.5 480.7M295.8 470.1L296.2 464.6M300.8 474.7L299.2 474.3M305.5 472.3L307.0 470.2M310.1 469.9L314.7 466.3M297.5 480.4L293.7 483.8M302.2 478.6L301.5 480.7M312.7 479.6L319.0 482.4M299.0 468.9L296.2 464.6M304.1 473.3L299.2 474.3M308.8 470.9L307.0 470.2M313.4 468.5L314.7 466.3M318.5 465.3L323.3 460.9M305.5 477.2L301.5 480.7M316.0 478.2L319.0 482.4M320.4 475.7L326.4 478.3M302.3 467.5L296.2 464.6M313.7 463.3L315.2 457.6" stroke="#d62020" stroke-width="1.5" fill="none"/><use href="#Co38" x="307.4" y="451.5"/><use href="#Co38" x="303.3" y="475.4"/><use href="#Co38" x="311.4" y="471.9"/><use href="#O23" x="292.2" y="442.2"/><use href="#O23" x="299.8" y="438.4"/><use href="#O23" x="311.4" y="448.6"/><use href="#O23" x="319.6" y="444.9"/><use href="#O23" x="303.9" y="452.7"/><use href="#O23" x="288.2" y="464.4"/><use href="#O23" x="299.2" y="474.3"/><use href="#O23" x="307.0" y="470.2"/><use href="#O23" x="314.7" y="466.3"/><use href="#O23" x="323.3" y="460.9"/><use href="#O23" x="293.7" y="483.8"/><use href="#O23" x="301.5" y="480.7"/><use href="#O23" x="319.0" y="482.4"/><use href="#O23" x="326.4" y="478.3"/><use href="#O23" x="296.2" y="464.6"/><use href="#O23" x="315.2" y="457.6"/><circle cx="284.4" cy="443.7" r="1.2" fill="#fff" stroke="#c87070" stroke-width="0.5"/><circle cx="318.4" cy="453.3" r="1.2" fill="#fff" stroke="#c87070" stroke-width="0.5"/><circle cx="326.6" cy="449.2" r="1.2" fill="#fff" stroke="#c87070" stroke-width="0.5"/><circle cx="311.4" cy="457.4" r="1.2" fill="#fff" stroke="#c87070" stroke-width="0.5"/><circle cx="287.2" cy="460.9" r="1.2" fill="#fff" stroke="#c87070" stroke-width="0.5"/><circle cx="319.6" cy="474.0" r="1.2" fill="#fff" stroke="#c87070" stroke-width="0.5"/><circle cx="310.9" cy="477.8" r="1.2" fill="#fff" stroke="#c87070" stroke-width="0.5"/><use href="#Co40" x="299.2" y="455.6"/><use href="#Co40" x="295.1" y="478.3"/><path d="M353.9 449.9L357.9 451.3M356.9 454.4L360.9 455.8M348.9 457.4L352.9 458.8M361.9 447.9L365.9 449.3" stroke="#888" stroke-width="0.5" fill="none"/><path d="M333.9 451.6L329.7 443.6M333.9 451.6L334.3 441.3M333.9 451.6L341.2 447.4M333.9 451.6L336.7 449.9M333.9 451.6L327.3 456.9M333.9 451.6L338.6 460.4M333.9 451.6L332.1 457.0M333.9 451.6L343.5 452.8M342.1 447.5L337.5 439.6M342.1 447.5L344.5 445.8M342.1 447.5L349.4 443.5M342.1 447.5L340.0 448.2M342.1 447.5L346.5 456.4M342.1 447.5L335.4 455.4M342.1 447.5L346.8 451.2M329.8 474.3L325.7 466.0M329.8 474.3L332.3 471.9M329.8 474.3L336.9 469.4M329.8 474.3L329.0 477.6M329.8 474.3L333.6 475.7M329.8 474.3L330.5 466.1M338.0 471.4L335.5 470.7M338.0 471.4L340.2 468.3M338.0 471.4L344.8 465.9M338.0 471.4L332.2 476.4M338.0 471.4L336.9 474.6M338.0 471.4L347.4 475.6M338.0 471.4L333.7 464.9M346.1 467.9L338.8 469.3M346.1 467.9L343.5 466.9M346.1 467.9L348.1 464.5M346.1 467.9L353.2 461.3M346.1 467.9L340.2 473.2M346.1 467.9L350.7 474.2M346.1 467.9L355.1 471.7M346.1 467.9L337.0 463.5M346.1 467.9L348.4 459.3" stroke="#2222a8" stroke-width="1.5" fill="none"/><path d="M329.7 443.6L326.9 438.2M334.3 441.3L334.5 434.4M341.2 447.4L346.1 444.6M336.7 449.9L338.6 448.7M327.3 456.9L322.9 460.4M338.6 460.4L341.7 466.2M332.1 457.0L330.9 460.6M343.5 452.8L349.9 453.6M337.5 439.6L334.5 434.4M344.5 445.8L346.1 444.6M349.4 443.5L354.3 440.9M340.0 448.2L338.6 448.7M346.5 456.4L349.4 462.3M335.4 455.4L330.9 460.6M346.8 451.2L349.9 453.6M325.7 466.0L322.9 460.4M332.3 471.9L333.9 470.3M336.9 469.4L341.7 466.2M329.0 477.6L328.4 479.8M333.6 475.7L336.2 476.7M330.5 466.1L330.9 460.6M335.5 470.7L333.9 470.3M340.2 468.3L341.7 466.2M344.8 465.9L349.4 462.3M332.2 476.4L328.4 479.8M336.9 474.6L336.2 476.7M347.4 475.6L353.7 478.4M333.7 464.9L330.9 460.6M338.8 469.3L333.9 470.3M343.5 466.9L341.7 466.2M348.1 464.5L349.4 462.3M353.2 461.3L358.0 456.9M340.2 473.2L336.2 476.7M350.7 474.2L353.7 478.4M355.1 471.7L361.1 474.3M337.0 463.5L330.9 460.6M348.4 459.3L349.9 453.6" stroke="#d62020" stroke-width="1.5" fill="none"/><use href="#Co38" x="342.1" y="447.5"/><use href="#Co38" x="338.0" y="471.4"/><use href="#Co38" x="346.1" y="467.9"/><use href="#O23" x="326.9" y="438.2"/><use href="#O23" x="334.5" y="434.4"/><use href="#O23" x="346.1" y="444.6"/><use href="#O23" x="354.3" y="440.9"/><use href="#O23" x="338.6" y="448.7"/><use href="#O23" x="322.9" y="460.4"/><use href="#O23" x="333.9" y="470.3"/><use href="#O23" x="341.7" y="466.2"/><use href="#O23" x="349.4" y="462.3"/><use href="#O23" x="358.0" y="456.9"/><use href="#O23" x="328.4" y="479.8"/><use href="#O23" x="336.2" y="476.7"/><use href="#O23" x="353.7" y="478.4"/><use href="#O23" x="361.1" y="474.3"/><use href="#O23" x="330.9" y="460.6"/><use href="#O23" x="349.9" y="453.6"/><circle cx="319.1" cy="439.7" r="1.2" fill="#fff" stroke="#c87070" stroke-width="0.5"/><circle cx="353.1" cy="449.3" r="1.2" fill="#fff" stroke="#c87070" stroke-width="0.5"/><circle cx="361.3" cy="445.2" r="1.2" fill="#fff" stroke="#c87070" stroke-width="0.5"/><circle cx="346.1" cy="453.4" r="1.2" fill="#fff" stroke="#c87070" stroke-width="0.5"/><circle cx="321.9" cy="456.9" r="1.2" fill="#fff" stroke="#c87070" stroke-width="0.5"/><circle cx="354.3" cy="470.0" r="1.2" fill="#fff" stroke="#c87070" stroke-width="0.5"/><circle cx="345.6" cy="473.8" r="1.2" fill="#fff" stroke="#c87070" stroke-width="0.5"/><use href="#Co40" x="333.9" y="451.6"/><use href="#Co40" x="329.8" y="474.3"/><path d="M388.3 454.5L392.3 455.9M391.3 459.0L395.3 460.4M383.3 462.0L387.3 463.4M396.3 452.5L400.3 453.9" stroke="#888" stroke-width="0.5" fill="none"/><path d="M368.3 456.2L364.1 448.2M368.3 456.2L368.7 445.9M368.3 456.2L375.6 452.0M368.3 456.2L371.1 454.5M368.3 456.2L361.7 461.5M368.3 456.2L373.0 465.0M368.3 456.2L366.5 461.6M368.3 456.2L377.9 457.4M376.5 452.1L371.9 444.2M376.5 452.1L378.9 450.4M376.5 452.1L374.4 452.8M376.5 452.1L380.9 461.0M376.5 452.1L369.8 460.0M376.5 452.1L381.2 455.8M364.2 478.9L360.1 470.6M364.2 478.9L366.7 476.5M364.2 478.9L371.3 474.0M364.2 478.9L363.4 482.2M364.2 478.9L368.0 480.3M364.2 478.9L364.9 470.7M372.4 476.0L369.9 475.3M372.4 476.0L374.6 472.9M372.4 476.0L379.2 470.5M372.4 476.0L366.6 481.0M372.4 476.0L371.3 479.2M372.4 476.0L381.8 480.2M372.4 476.0L368.1 469.5M380.5 472.5L373.2 473.9M380.5 472.5L377.9 471.5M380.5 472.5L382.5 469.1M380.5 472.5L374.6 477.8M380.5 472.5L385.1 478.8M380.5 472.5L371.4 468.1M380.5 472.5L382.8 463.9" stroke="#2222a8" stroke-width="1.5" fill="none"/><path d="M364.1 448.2L361.3 442.8M368.7 445.9L368.9 439.0M375.6 452.0L380.5 449.2M371.1 454.5L373.0 453.3M361.7 461.5L357.3 465.0M373.0 465.0L376.1 470.8M366.5 461.6L365.3 465.2M377.9 457.4L384.3 458.2M371.9 444.2L368.9 439.0M378.9 450.4L380.5 449.2M374.4 452.8L373.0 453.3M380.9 461.0L383.8 466.9M369.8 460.0L365.3 465.2M381.2 455.8L384.3 458.2M360.1 470.6L357.3 465.0M366.7 476.5L368.3 474.9M371.3 474.0L376.1 470.8M363.4 482.2L362.8 484.4M368.0 480.3L370.6 481.3M364.9 470.7L365.3 465.2M369.9 475.3L368.3 474.9M374.6 472.9L376.1 470.8M379.2 470.5L383.8 466.9M366.6 481.0L362.8 484.4M371.3 479.2L370.6 481.3M381.8 480.2L388.1 483.0M368.1 469.5L365.3 465.2M373.2 473.9L368.3 474.9M377.9 471.5L376.1 470.8M382.5 469.1L383.8 466.9M374.6 477.8L370.6 481.3M385.1 478.8L388.1 483.0M371.4 468.1L365.3 465.2M382.8 463.9L384.3 458.2" stroke="#d62020" stroke-width="1.5" fill="none"/><use href="#Co38" x="376.5" y="452.1"/><use href="#Co38" x="372.4" y="476.0"/><use href="#Co38" x="380.5" y="472.5"/><use href="#O23" x="361.3" y="442.8"/><use href="#O23" x="368.9" y="439.0"/><use href="#O23" x="380.5" y="449.2"/><use href="#O23" x="373.0" y="453.3"/><use href="#O23" x="357.3" y="465.0"/><use href="#O23" x="368.3" y="474.9"/><use href="#O23" x="376.1" y="470.8"/><use href="#O23" x="383.8" y="466.9"/><use href="#O23" x="362.8" y="484.4"/><use href="#O23" x="370.6" y="481.3"/><use href="#O23" x="388.1" y="483.0"/><use href="#O23" x="365.3" y="465.2"/><use href="#O23" x="384.3" y="458.2"/><circle cx="353.5" cy="444.3" r="1.2" fill="#fff" stroke="#c87070" stroke-width="0.5"/><circle cx="387.5" cy="453.9" r="1.2" fill="#fff" stroke="#c87070" stroke-width="0.5"/><circle cx="395.7" cy="449.8" r="1.2" fill="#fff" stroke="#c87070" stroke-width="0.5"/><circle cx="380.5" cy="458.0" r="1.2" fill="#fff" stroke="#c87070" stroke-width="0.5"/><circle cx="356.3" cy="461.5" r="1.2" fill="#fff" stroke="#c87070" stroke-width="0.5"/><circle cx="388.7" cy="474.6" r="1.2" fill="#fff" stroke="#c87070" stroke-width="0.5"/><circle cx="380.0" cy="478.4" r="1.2" fill="#fff" stroke="#c87070" stroke-width="0.5"/><use href="#Co40" x="368.3" y="456.2"/><use href="#Co40" x="364.2" y="478.9"/><circle cx="341.4" cy="447" r="5.5" fill="none" stroke="#20d838" stroke-width="0.8" stroke-dasharray="1.8 1.1"/><line x1="333.70" y1="429.10" x2="338.80" y2="441.80" stroke="#1fb060" stroke-width="0.7" marker-end="url(#arG)"/><text x="317.90" y="426.60" font-size="7.0" fill="#1fb060">active site</text><clipPath id="icl1"><circle cx="277.3" cy="395.7" r="34.6"/></clipPath><g clip-path="url(#icl1)"><circle cx="277.30" cy="395.70" r="34.60" fill="#fff" /><path d="M249.1 388.0L254.6 391.2M249.5 401.0L255.3 404.1M250.9 413.6L257.8 414.8M246.0 426.0L254.4 423.1" stroke="#ee7474" stroke-width="1.9" fill="none"/><path d="M254.6 391.2L260.2 394.4M255.3 404.1L261.1 407.3M257.8 414.8L264.7 415.9M254.4 423.1L262.9 420.2" stroke="#f4c0c0" stroke-width="1.5" fill="none"/><path d="M268.1 396.9L272.1 398.1M268.3 409.4L272.3 410.6M269.5 421.9L273.5 423.1" stroke="#999" stroke-width="0.6" fill="none"/><path d="M290.1 395.7L290.5 408.2M295.1 395.7L295.5 408.2M290.5 408.2L289.6 420.7M295.5 408.2L294.6 420.7M289.6 420.7L289.0 434.0M294.6 420.7L294.0 434.0M292.1 395.7L297.0 387.4M292.1 395.7L297.6 394.1M292.1 395.7L298.1 400.6M292.1 395.7L286.0 397.9M292.1 395.7L286.5 404.2M292.5 408.2L297.9 400.4M292.5 408.2L298.3 406.9M292.5 408.2L298.8 413.4M292.5 408.2L286.2 404.2M292.5 408.2L286.6 410.4M292.5 408.2L287.1 416.7M291.6 420.7L297.9 413.1M291.6 420.7L298.3 419.6M291.6 420.7L286.2 416.7M291.6 420.7L286.6 422.9M291.6 420.7L283.8 421.1M291.0 434.0L298.0 426.2M291.0 434.0L286.4 429.6M291.0 434.0L283.5 427.8" stroke="#6c6ccc" stroke-width="2.0" fill="none"/><path d="M297.0 387.4L301.8 379.0M297.6 394.1L303.2 392.6M298.1 400.6L304.1 405.5M286.0 397.9L279.9 400.2M286.5 404.2L280.8 412.7M297.9 400.4L303.2 392.6M298.3 406.9L304.1 405.5M298.8 413.4L305.0 418.5M286.2 404.2L279.9 400.2M286.6 410.4L280.8 412.7M287.1 416.7L281.7 425.2M297.9 413.1L304.1 405.5M298.3 419.6L305.0 418.5M286.2 416.7L280.8 412.7M286.6 422.9L281.7 425.2M283.8 421.1L276.0 421.6M298.0 426.2L305.0 418.5M286.4 429.6L281.7 425.2M283.5 427.8L276.0 421.6" stroke="#ee7474" stroke-width="2.0" fill="none"/><circle cx="260.2" cy="394.4" r="1.5" fill="#fff" stroke="#e49090" stroke-width="0.6"/><circle cx="261.1" cy="407.3" r="1.5" fill="#fff" stroke="#e49090" stroke-width="0.6"/><circle cx="264.7" cy="415.9" r="1.5" fill="#fff" stroke="#e49090" stroke-width="0.6"/><circle cx="262.9" cy="420.2" r="1.5" fill="#fff" stroke="#e49090" stroke-width="0.6"/><use href="#OS30" x="249.1" y="388.0"/><use href="#OS30" x="249.5" y="401.0"/><use href="#OS30" x="250.9" y="413.6"/><use href="#OS30" x="246.0" y="426.0"/><use href="#OS30" x="279.9" y="400.2"/><use href="#OS30" x="280.8" y="412.7"/><use href="#OS30" x="281.7" y="425.2"/><use href="#OS30" x="276.0" y="421.6"/><use href="#CoS60" x="291.0" y="434.0"/><use href="#CoS60" x="291.6" y="420.7"/><use href="#CoS60" x="292.5" y="408.2"/><use href="#OS30" x="301.8" y="379.0"/><use href="#OS30" x="303.2" y="392.6"/><use href="#OS30" x="304.1" y="405.5"/><use href="#OS30" x="305.0" y="418.5"/><use href="#Co57" x="292.1" y="395.7"/></g><circle cx="277.3" cy="395.7" r="34.6" fill="none" stroke="#111" stroke-width="1.05"/><text x="277.30" y="368.90" font-size="6.7" fill="#222" text-anchor="middle">q=1.56</text><text x="276.00" y="377.00" font-size="6.7" fill="#222" text-anchor="middle">|m|=2.137</text><text x="282.60" y="387.70" font-size="6.7" fill="#222">+2</text><clipPath id="icl2"><circle cx="401.7" cy="396.2" r="34.5"/></clipPath><g clip-path="url(#icl2)"><circle cx="401.70" cy="396.20" r="34.50" fill="#fff" /><path d="M371.3 388.0L376.6 390.5M373.4 401.0L379.0 404.6M374.3 413.6L381.1 415.0M370.0 426.0L379.6 426.9" stroke="#ee7474" stroke-width="1.9" fill="none"/><path d="M376.6 390.5L382.0 393.0M379.0 404.6L384.6 408.2M381.1 415.0L387.8 416.3M379.6 426.9L389.2 427.9" stroke="#f4c0c0" stroke-width="1.5" fill="none"/><path d="M391.0 397.4L395.0 398.6M392.0 410.4L396.0 411.6M393.5 422.9L397.5 424.1" stroke="#999" stroke-width="0.6" fill="none"/><path d="M412.6 395.7L414.1 408.2M417.6 395.7L419.1 408.2M414.1 408.2L412.6 420.7M419.1 408.2L417.6 420.7M412.6 420.7L412.0 434.0M417.6 420.7L417.0 434.0M414.6 395.7L420.7 388.2M414.6 395.7L421.4 394.8M414.6 395.7L421.8 401.4M414.6 395.7L408.4 398.2M414.6 395.7L409.2 404.4M416.1 408.2L422.1 401.0M416.1 408.2L422.6 407.6M416.1 408.2L423.1 414.1M416.1 408.2L409.1 404.4M416.1 408.2L410.0 410.6M416.1 408.2L410.5 416.9M414.6 420.7L421.8 413.9M414.6 420.7L422.3 420.4M414.6 420.7L409.2 416.9M414.6 420.7L409.7 423.1M414.6 420.7L407.0 421.1M414.0 434.0L409.4 429.8M414.0 434.0L406.7 427.8" stroke="#6c6ccc" stroke-width="2.0" fill="none"/><path d="M420.7 388.2L426.8 380.8M421.4 394.8L428.1 393.9M421.8 401.4L429.0 407.0M408.4 398.2L402.1 400.7M409.2 404.4L403.9 413.0M422.1 401.0L428.1 393.9M422.6 407.6L429.0 407.0M423.1 414.1L430.0 420.0M409.1 404.4L402.1 400.7M410.0 410.6L403.9 413.0M410.5 416.9L404.8 425.6M421.8 413.9L429.0 407.0M422.3 420.4L430.0 420.0M409.2 416.9L403.9 413.0M409.7 423.1L404.8 425.6M407.0 421.1L399.4 421.6M409.4 429.8L404.8 425.6M406.7 427.8L399.4 421.6" stroke="#ee7474" stroke-width="2.0" fill="none"/><circle cx="382.0" cy="393.0" r="1.5" fill="#fff" stroke="#e49090" stroke-width="0.6"/><circle cx="384.6" cy="408.2" r="1.5" fill="#fff" stroke="#e49090" stroke-width="0.6"/><circle cx="387.8" cy="416.3" r="1.5" fill="#fff" stroke="#e49090" stroke-width="0.6"/><circle cx="389.2" cy="427.9" r="1.5" fill="#fff" stroke="#e49090" stroke-width="0.6"/><use href="#OS30" x="371.3" y="388.0"/><use href="#OS30" x="373.4" y="401.0"/><use href="#OS30" x="374.3" y="413.6"/><use href="#OS30" x="370.0" y="426.0"/><use href="#OS30" x="402.1" y="400.7"/><use href="#OS30" x="403.9" y="413.0"/><use href="#OS30" x="404.8" y="425.6"/><use href="#OS30" x="399.4" y="421.6"/><use href="#CoS60" x="414.0" y="434.0"/><use href="#CoS60" x="414.6" y="420.7"/><use href="#CoS60" x="416.1" y="408.2"/><use href="#OS30" x="426.8" y="380.8"/><use href="#OS30" x="428.1" y="393.9"/><use href="#OS30" x="429.0" y="407.0"/><use href="#OS30" x="430.0" y="420.0"/><path d="M414.6 395.7L407.5 386.9" stroke="#2222a8" stroke-width="2.0"/><path d="M407.5 386.9L400.3 378.1" stroke="#d62020" stroke-width="2.0"/><line x1="400.30" y1="378.10" x2="392.30" y2="380.80" stroke="#e8b0b0" stroke-width="1.2" /><use href="#Co57" x="414.6" y="395.7"/><use href="#O28" x="400.3" y="378.1"/><circle cx="392.3" cy="380.8" r="1.6" fill="#fff" stroke="#d88080" stroke-width="0.6"/></g><circle cx="401.7" cy="396.2" r="34.5" fill="none" stroke="#111" stroke-width="1.05"/><text x="377.90" y="389.90" font-size="6.7" fill="#222">q=1.61</text><text x="373.80" y="398.10" font-size="6.7" fill="#222">|m|=0.930</text><text x="411.10" y="385.90" font-size="6.7" fill="#222">+4</text><clipPath id="icl3"><circle cx="277.3" cy="519.8" r="34.6"/></clipPath><g clip-path="url(#icl3)"><circle cx="277.30" cy="519.80" r="34.60" fill="#fff" /><path d="M246.8 521.6L252.2 524.8M248.6 534.1L253.9 537.5M250.0 547.0L256.4 547.3" stroke="#ee7474" stroke-width="1.9" fill="none"/><path d="M252.2 524.8L257.6 527.9M253.9 537.5L259.3 540.8M256.4 547.3L262.9 547.6" stroke="#f4c0c0" stroke-width="1.5" fill="none"/><path d="M265.5 530.4L269.5 531.6M267.0 542.9L271.0 544.1" stroke="#999" stroke-width="0.6" fill="none"/><path d="M287.3 527.0L288.7 540.4M292.3 527.0L293.7 540.4M288.7 540.4L289.0 553.0M293.7 540.4L294.0 553.0M289.3 527.0L295.2 519.8M289.3 527.0L295.4 526.4M289.3 527.0L295.8 532.8M289.3 527.0L283.3 529.2M289.3 527.0L284.1 535.5M290.7 540.4L296.0 533.0M290.7 540.4L296.5 539.5M290.7 540.4L296.9 545.7M290.7 540.4L284.0 535.9M290.7 540.4L284.9 542.2M290.7 540.4L285.4 548.2M291.0 553.0L296.6 545.8M291.0 553.0L297.0 552.0M291.0 553.0L285.0 548.5M291.0 553.0L285.5 554.5" stroke="#6c6ccc" stroke-width="2.0" fill="none"/><path d="M295.2 519.8L301.1 512.6M295.4 526.4L301.4 525.7M295.8 532.8L302.3 538.6M283.3 529.2L277.3 531.4M284.1 535.5L279.0 544.0M296.0 533.0L301.4 525.7M296.5 539.5L302.3 538.6M296.9 545.7L303.0 551.0M284.0 535.9L277.3 531.4M284.9 542.2L279.0 544.0M285.4 548.2L280.0 556.0M296.6 545.8L302.3 538.6M297.0 552.0L303.0 551.0M285.0 548.5L279.0 544.0M285.5 554.5L280.0 556.0" stroke="#ee7474" stroke-width="2.0" fill="none"/><circle cx="257.6" cy="527.9" r="1.5" fill="#fff" stroke="#e49090" stroke-width="0.6"/><circle cx="259.3" cy="540.8" r="1.5" fill="#fff" stroke="#e49090" stroke-width="0.6"/><circle cx="262.9" cy="547.6" r="1.5" fill="#fff" stroke="#e49090" stroke-width="0.6"/><use href="#OS30" x="246.8" y="521.6"/><use href="#OS30" x="248.6" y="534.1"/><use href="#OS30" x="250.0" y="547.0"/><use href="#OS30" x="277.3" y="531.4"/><use href="#OS30" x="279.0" y="544.0"/><use href="#OS30" x="280.0" y="556.0"/><use href="#CoS60" x="291.0" y="553.0"/><use href="#CoS60" x="290.7" y="540.4"/><use href="#OS30" x="301.1" y="512.6"/><use href="#OS30" x="301.4" y="525.7"/><use href="#OS30" x="302.3" y="538.6"/><use href="#OS30" x="303.0" y="551.0"/><path d="M289.3 527.0L282.4 518.8" stroke="#2222a8" stroke-width="2.0"/><path d="M282.4 518.8L275.5 510.5" stroke="#d62020" stroke-width="2.0"/><line x1="275.50" y1="510.50" x2="268.80" y2="499.60" stroke="#d62020" stroke-width="2.0" /><line x1="268.80" y1="499.60" x2="257.60" y2="506.00" stroke="#e8b0b0" stroke-width="1.2" /><use href="#Co57" x="289.3" y="527.0"/><use href="#O28" x="275.5" y="510.5"/><use href="#O28" x="268.8" y="499.6"/><circle cx="257.6" cy="506.0" r="1.6" fill="#fff" stroke="#d88080" stroke-width="0.6"/></g><circle cx="277.3" cy="519.8" r="34.6" fill="none" stroke="#111" stroke-width="1.05"/><text x="280.80" y="503.20" font-size="6.7" fill="#222">q=1.58</text><text x="259.30" y="513.30" font-size="6.7" fill="#222">-1/2</text><text x="285.70" y="516.30" font-size="6.7" fill="#222">+4</text><text x="249.90" y="523.50" font-size="6.7" fill="#222">|m|=1.132</text><clipPath id="icl4"><circle cx="401.7" cy="519.8" r="34.5"/></clipPath><g clip-path="url(#icl4)"><circle cx="401.70" cy="519.80" r="34.50" fill="#fff" /><path d="M372.6 511.7L377.8 513.9M373.8 525.2L379.7 528.2M375.2 536.8L381.0 540.2" stroke="#ee7474" stroke-width="1.9" fill="none"/><path d="M377.8 513.9L383.0 516.0M379.7 528.2L385.6 531.1M381.0 540.2L386.9 543.6" stroke="#f4c0c0" stroke-width="1.5" fill="none"/><path d="M392.0 520.4L396.0 521.6M393.0 533.4L397.0 534.6M394.0 545.9L398.0 547.1" stroke="#999" stroke-width="0.6" fill="none"/><path d="M413.5 518.9L416.2 532.3M418.5 518.9L421.2 532.3M416.2 532.3L417.0 545.5M421.2 532.3L422.0 545.5M415.5 518.9L421.6 511.9M415.5 518.9L422.4 518.5M415.5 518.9L422.9 524.7M415.5 518.9L409.7 521.6M415.5 518.9L410.4 527.8M418.2 532.3L423.8 525.1M418.2 532.3L424.3 531.4M418.2 532.3L424.9 537.9M418.2 532.3L411.0 528.3M418.2 532.3L411.8 534.5M418.2 532.3L412.1 540.8M419.0 545.5L424.7 538.0M419.0 545.5L425.2 544.5M419.0 545.5L412.1 541.1M419.0 545.5L412.5 547.4" stroke="#6c6ccc" stroke-width="2.0" fill="none"/><path d="M421.6 511.9L427.7 504.9M422.4 518.5L429.3 518.0M422.9 524.7L430.4 530.5M409.7 521.6L403.9 524.3M410.4 527.8L405.3 536.8M423.8 525.1L429.3 518.0M424.3 531.4L430.4 530.5M424.9 537.9L431.5 543.5M411.0 528.3L403.9 524.3M411.8 534.5L405.3 536.8M412.1 540.8L406.0 549.3M424.7 538.0L430.4 530.5M425.2 544.5L431.5 543.5M412.1 541.1L405.3 536.8M412.5 547.4L406.0 549.3" stroke="#ee7474" stroke-width="2.0" fill="none"/><circle cx="383.0" cy="516.0" r="1.5" fill="#fff" stroke="#e49090" stroke-width="0.6"/><circle cx="385.6" cy="531.1" r="1.5" fill="#fff" stroke="#e49090" stroke-width="0.6"/><circle cx="386.9" cy="543.6" r="1.5" fill="#fff" stroke="#e49090" stroke-width="0.6"/><use href="#OS30" x="372.6" y="511.7"/><use href="#OS30" x="373.8" y="525.2"/><use href="#OS30" x="375.2" y="536.8"/><use href="#OS30" x="403.9" y="524.3"/><use href="#OS30" x="405.3" y="536.8"/><use href="#OS30" x="406.0" y="549.3"/><use href="#CoS60" x="419.0" y="545.5"/><use href="#CoS60" x="418.2" y="532.3"/><use href="#OS30" x="427.7" y="504.9"/><use href="#OS30" x="429.3" y="518.0"/><use href="#OS30" x="430.4" y="530.5"/><use href="#OS30" x="431.5" y="543.5"/><path d="M415.5 518.9L409.0 511.3" stroke="#2222a8" stroke-width="2.0"/><path d="M409.0 511.3L402.5 503.7" stroke="#d62020" stroke-width="2.0"/><use href="#Co57" x="415.5" y="518.9"/><use href="#O28" x="402.5" y="503.7"/></g><circle cx="401.7" cy="519.8" r="34.5" fill="none" stroke="#111" stroke-width="1.05"/><text x="380.60" y="514.00" font-size="6.7" fill="#222">q=1.63</text><text x="376.70" y="522.60" font-size="6.7" fill="#222">|m|=1.081</text><text x="411.10" y="509.10" font-size="6.7" fill="#222">+4</text><path d="M311.3 382.2Q339.0 371.5 367.3 381.4" fill="none" stroke="#111" stroke-width="1.1" marker-end="url(#arK)"/><path d="M310.4 367.4Q314.0 376.0 325.0 377.5" fill="none" stroke="#111" stroke-width="1.1" marker-end="url(#arK)"/><path d="M348.0 376.9Q357.5 379.0 359.6 390.3" fill="none" stroke="#111" stroke-width="1.1" marker-end="url(#arK)"/><text x="319.00" y="370.20" font-size="6.8" fill="#222">+OH<tspan dy="-2.6" font-size="4.5">-</tspan><tspan dy="2.6" font-size="0.1">&#8203;</tspan></text><text x="345.50" y="388.60" font-size="6.8" fill="#222">-e<tspan dy="-2.6" font-size="4.5">-</tspan><tspan dy="2.6" font-size="0.1">&#8203;</tspan></text><path d="M417.0 428.8Q429.0 458.0 419.6 487.3" fill="none" stroke="#f01414" stroke-width="1.1" marker-end="url(#arR)"/><path d="M432.2 431.5Q424.5 435.0 423.8 445.0" fill="none" stroke="#f01414" stroke-width="1.1" marker-end="url(#arR)"/><path d="M423.6 466.0Q421.0 476.5 409.8 479.5" fill="none" stroke="#f01414" stroke-width="1.1" marker-end="url(#arR)"/><text x="427.70" y="445.40" font-size="6.8" fill="#222">+OH<tspan dy="-2.6" font-size="4.5">-</tspan><tspan dy="2.6" font-size="0.1">&#8203;</tspan></text><text x="399.90" y="474.20" font-size="6.8" fill="#222">-H<tspan dy="1.2" font-size="4.5">2</tspan><tspan dy="-1.2" font-size="0.1">&#8203;</tspan>O</text><text x="410.70" y="485.00" font-size="6.8" fill="#222">-e<tspan dy="-2.6" font-size="4.5">-</tspan><tspan dy="2.6" font-size="0.1">&#8203;</tspan></text><path d="M370.4 539.0Q341.0 550.0 310.2 540.0" fill="none" stroke="#111" stroke-width="1.1" marker-end="url(#arK)"/><path d="M365.9 554.7Q363.0 548.0 353.5 546.8" fill="none" stroke="#111" stroke-width="1.1" marker-end="url(#arK)"/><path d="M334.0 545.4Q321.5 543.0 317.4 530.8" fill="none" stroke="#111" stroke-width="1.1" marker-end="url(#arK)"/><text x="342.90" y="557.60" font-size="6.8" fill="#222">+OH<tspan dy="-2.6" font-size="4.5">-</tspan><tspan dy="2.6" font-size="0.1">&#8203;</tspan></text><text x="322.60" y="535.50" font-size="6.8" fill="#222">-H<tspan dy="1.2" font-size="4.5">2</tspan><tspan dy="-1.2" font-size="0.1">&#8203;</tspan>O</text><path d="M259.6 488.2Q252.5 459.0 260.0 430.3" fill="none" stroke="#111" stroke-width="1.1" marker-end="url(#arK)"/><path d="M255.9 452.0Q256.5 438.0 252.8 430.3" fill="none" stroke="#111" stroke-width="1.1" marker-end="url(#arK)"/><path d="M255.8 456.0Q257.5 443.5 269.4 438.6" fill="none" stroke="#111" stroke-width="1.1" marker-end="url(#arK)"/><path d="M244.5 487.5Q254.0 482.0 255.7 469.0" fill="none" stroke="#111" stroke-width="1.1" marker-end="url(#arK)"/><text x="240.90" y="433.70" font-size="6.8" fill="#20b860">-O<tspan dy="1.2" font-size="4.5">2</tspan><tspan dy="-1.2" font-size="0.1">&#8203;</tspan></text><text x="272.00" y="438.80" font-size="6.8" fill="#222">-e<tspan dy="-2.6" font-size="4.5">-</tspan><tspan dy="2.6" font-size="0.1">&#8203;</tspan></text><text x="264.90" y="448.80" font-size="6.8" fill="#222">-H<tspan dy="1.2" font-size="4.5">2</tspan><tspan dy="-1.2" font-size="0.1">&#8203;</tspan>O</text><text x="233.00" y="479.70" font-size="6.8" fill="#222">+OH<tspan dy="-2.6" font-size="4.5">-</tspan><tspan dy="2.6" font-size="0.1">&#8203;</tspan></text><text x="403.60" y="459.30" font-size="6.8" fill="#f03030">PDS</text></g><g id="pj"><text x="472.40" y="360.40" font-size="9.5" fill="#000" font-weight="bold">j</text><path d="M513.5 442.3 L525.6 430.9 L645.8 430.9 L631.5 442.3 Z M513.5 442.3 L513.5 480.5 L631.5 493 L631.5 442.3 M645.8 430.9 L645.8 476 L631.5 493 M513.5 480.5 L525.6 470" fill="none" stroke="#505050" stroke-width="0.6" /><line x1="513.50" y1="442.30" x2="631.50" y2="442.30" stroke="#222" stroke-width="0.6" stroke-dasharray="1.5 1"/><path d="M560.0 446.0L565.0 446.0M560.0 455.0L565.0 455.0M560.0 464.0L565.0 464.0M560.0 473.0L565.0 473.0M560.0 482.0L565.0 482.0M596.0 446.0L601.0 446.0M596.0 455.0L601.0 455.0M596.0 464.0L601.0 464.0M596.0 473.0L601.0 473.0M596.0 482.0L601.0 482.0" stroke="#999" stroke-width="0.5" fill="none"/><path d="M548.2 438.4L540.0 445.4M540.0 445.4L537.7 461.7M537.7 461.7L548.2 465.2M548.2 465.2L537.7 473.4M537.7 473.4L537.7 485.1" stroke="#2a2ab0" stroke-width="1.8" fill="none"/><path d="M548.2 438.4L542.6 435.3M548.2 438.4L553.8 435.3M548.2 438.4L554.7 439.3M548.2 438.4L553.8 442.7M548.2 438.4L542.6 442.7M548.2 438.4L541.7 439.3M548.2 438.4L548.7 439.6M548.2 438.4L549.6 443.7M540.0 445.4L539.5 438.0M540.0 445.4L539.5 445.4M540.0 445.4L538.6 442.0M540.0 445.4L534.4 442.3M540.0 445.4L545.6 442.3M540.0 445.4L546.5 446.3M540.0 445.4L545.6 449.7M540.0 445.4L534.4 449.7M540.0 445.4L533.5 446.3M537.7 461.7L533.5 455.9M537.7 461.7L532.1 458.6M537.7 461.7L543.3 458.6M537.7 461.7L544.2 462.6M537.7 461.7L543.3 466.0M537.7 461.7L532.1 466.0M537.7 461.7L531.2 462.6M537.7 461.7L538.6 460.8M537.7 461.7L538.6 468.2M537.7 461.7L537.7 464.8M548.2 465.2L547.3 459.9M548.2 465.2L548.2 464.0M548.2 465.2L547.3 467.4M548.2 465.2L542.6 462.1M548.2 465.2L553.8 462.1M548.2 465.2L554.7 466.1M548.2 465.2L553.8 469.5M548.2 465.2L542.6 469.5M548.2 465.2L541.7 466.1M548.2 465.2L548.2 471.2M537.7 473.4L543.3 470.5M537.7 473.4L532.1 470.5M537.7 473.4L538.6 472.7M537.7 473.4L537.7 469.2M537.7 473.4L544.2 474.3M537.7 473.4L543.3 477.7M537.7 473.4L532.1 477.7M537.7 473.4L531.2 474.3M537.7 485.1L543.3 482.2M537.7 485.1L532.1 482.2M537.7 485.1L544.2 486.0M537.7 485.1L543.3 489.4M537.7 485.1L532.1 489.4M537.7 485.1L531.2 486.0" stroke="#2222a8" stroke-width="1.5" fill="none"/><path d="M542.6 435.3L539.2 433.4M553.8 435.3L557.2 433.4M554.7 439.3L558.7 439.9M553.8 442.7L557.2 445.4M542.6 442.7L539.2 445.4M541.7 439.3L537.7 439.9M548.7 439.6L549.0 440.4M549.6 443.7L550.5 446.9M539.5 438.0L539.2 433.4M539.5 445.4L539.2 445.4M538.6 442.0L537.7 439.9M534.4 442.3L531.0 440.4M545.6 442.3L549.0 440.4M546.5 446.3L550.5 446.9M545.6 449.7L549.0 452.4M534.4 449.7L531.0 452.4M533.5 446.3L529.5 446.9M533.5 455.9L531.0 452.4M532.1 458.6L528.7 456.7M543.3 458.6L546.7 456.7M544.2 462.6L548.2 463.2M543.3 466.0L546.7 468.7M532.1 466.0L528.7 468.7M531.2 462.6L527.2 463.2M538.6 460.8L539.2 460.2M538.6 468.2L539.2 472.2M537.7 464.8L537.7 466.7M547.3 459.9L546.7 456.7M548.2 464.0L548.2 463.2M547.3 467.4L546.7 468.7M542.6 462.1L539.2 460.2M553.8 462.1L557.2 460.2M554.7 466.1L558.7 466.7M553.8 469.5L557.2 472.2M542.6 469.5L539.2 472.2M541.7 466.1L537.7 466.7M548.2 471.2L548.2 474.9M543.3 470.5L546.7 468.7M532.1 470.5L528.7 468.7M538.6 472.7L539.2 472.2M537.7 469.2L537.7 466.7M544.2 474.3L548.2 474.9M543.3 477.7L546.7 480.4M532.1 477.7L528.7 480.4M531.2 474.3L527.2 474.9M543.3 482.2L546.7 480.4M532.1 482.2L528.7 480.4M544.2 486.0L548.2 486.6M543.3 489.4L546.7 492.1M532.1 489.4L528.7 492.1M531.2 486.0L527.2 486.6" stroke="#d62020" stroke-width="1.5" fill="none"/><use href="#O24" x="539.2" y="433.4"/><use href="#O24" x="557.2" y="433.4"/><use href="#O24" x="558.7" y="439.9"/><use href="#O24" x="557.2" y="445.4"/><use href="#O24" x="539.2" y="445.4"/><use href="#O24" x="537.7" y="439.9"/><use href="#O24" x="531.0" y="440.4"/><use href="#O24" x="549.0" y="440.4"/><use href="#O24" x="550.5" y="446.9"/><use href="#O24" x="549.0" y="452.4"/><use href="#O24" x="531.0" y="452.4"/><use href="#O24" x="529.5" y="446.9"/><use href="#O24" x="528.7" y="456.7"/><use href="#O24" x="546.7" y="456.7"/><use href="#O24" x="548.2" y="463.2"/><use href="#O24" x="546.7" y="468.7"/><use href="#O24" x="528.7" y="468.7"/><use href="#O24" x="527.2" y="463.2"/><use href="#O24" x="539.2" y="460.2"/><use href="#O24" x="557.2" y="460.2"/><use href="#O24" x="558.7" y="466.7"/><use href="#O24" x="557.2" y="472.2"/><use href="#O24" x="539.2" y="472.2"/><use href="#O24" x="537.7" y="466.7"/><use href="#O24" x="548.2" y="474.9"/><use href="#O24" x="546.7" y="480.4"/><use href="#O24" x="528.7" y="480.4"/><use href="#O24" x="527.2" y="474.9"/><use href="#O24" x="548.2" y="486.6"/><use href="#O24" x="546.7" y="492.1"/><use href="#O24" x="528.7" y="492.1"/><use href="#O24" x="527.2" y="486.6"/><use href="#Co44" x="548.2" y="438.4"/><use href="#Co44" x="540.0" y="445.4"/><use href="#Co44" x="537.7" y="461.7"/><use href="#Co44" x="548.2" y="465.2"/><use href="#Co44" x="537.7" y="473.4"/><use href="#Co44" x="537.7" y="485.1"/><path d="M585.6 440.7L577.4 450.0M577.4 450.0L573.9 464.1M573.9 464.1L584.4 467.6M584.4 467.6L575.1 476.9M575.1 476.9L573.9 489.7" stroke="#2a2ab0" stroke-width="1.8" fill="none"/><path d="M585.6 440.7L580.0 437.6M585.6 440.7L591.2 437.6M585.6 440.7L592.1 441.6M585.6 440.7L591.2 445.0M585.6 440.7L580.0 445.0M585.6 440.7L579.1 441.6M585.6 440.7L586.1 443.4M585.6 440.7L587.0 447.4M577.4 450.0L576.9 448.6M577.4 450.0L576.0 445.2M577.4 450.0L571.8 446.9M577.4 450.0L583.0 446.9M577.4 450.0L583.9 450.9M577.4 450.0L583.0 454.3M577.4 450.0L571.8 454.3M577.4 450.0L570.9 450.9M577.4 450.0L580.8 455.6M573.9 464.1L570.5 459.7M573.9 464.1L568.3 461.0M573.9 464.1L579.5 461.0M573.9 464.1L580.4 465.0M573.9 464.1L579.5 468.4M573.9 464.1L568.3 468.4M573.9 464.1L567.4 465.0M573.9 464.1L574.8 463.2M573.9 464.1L574.8 470.6M573.9 464.1L573.9 467.2M584.4 467.6L585.6 461.0M584.4 467.6L583.5 462.3M584.4 467.6L584.4 466.4M584.4 467.6L583.5 469.8M584.4 467.6L578.8 464.5M584.4 467.6L590.0 464.5M584.4 467.6L590.9 468.5M584.4 467.6L590.0 471.9M584.4 467.6L578.8 471.9M584.4 467.6L577.9 468.5M584.4 467.6L585.1 474.3M575.1 476.9L579.9 473.3M575.1 476.9L568.8 473.3M575.1 476.9L575.3 475.5M575.1 476.9L574.4 472.1M575.1 476.9L581.6 477.8M575.1 476.9L580.7 481.2M575.1 476.9L569.5 481.2M575.1 476.9L568.6 477.8M573.9 489.7L580.2 486.1M573.9 489.7L569.1 486.1M573.9 489.7L580.4 490.6M573.9 489.7L579.5 494.0M573.9 489.7L568.3 494.0M573.9 489.7L567.4 490.6" stroke="#2222a8" stroke-width="1.5" fill="none"/><path d="M580.0 437.6L576.6 435.7M591.2 437.6L594.6 435.7M592.1 441.6L596.1 442.2M591.2 445.0L594.6 447.7M580.0 445.0L576.6 447.7M579.1 441.6L575.1 442.2M586.1 443.4L586.4 445.0M587.0 447.4L587.9 451.5M576.9 448.6L576.6 447.7M576.0 445.2L575.1 442.2M571.8 446.9L568.4 445.0M583.0 446.9L586.4 445.0M583.9 450.9L587.9 451.5M583.0 454.3L586.4 457.0M571.8 454.3L568.4 457.0M570.9 450.9L566.9 451.5M580.8 455.6L582.9 459.1M570.5 459.7L568.4 457.0M568.3 461.0L564.9 459.1M579.5 461.0L582.9 459.1M580.4 465.0L584.4 465.6M579.5 468.4L582.9 471.1M568.3 468.4L564.9 471.1M567.4 465.0L563.4 465.6M574.8 463.2L575.4 462.6M574.8 470.6L575.4 474.6M573.9 467.2L573.9 469.1M585.6 461.0L586.4 457.0M583.5 462.3L582.9 459.1M584.4 466.4L584.4 465.6M583.5 469.8L582.9 471.1M578.8 464.5L575.4 462.6M590.0 464.5L593.4 462.6M590.9 468.5L594.9 469.1M590.0 471.9L593.4 474.6M578.8 471.9L575.4 474.6M577.9 468.5L573.9 469.1M585.1 474.3L585.6 478.4M579.9 473.3L582.9 471.1M568.8 473.3L564.9 471.1M575.3 475.5L575.4 474.6M574.4 472.1L573.9 469.1M581.6 477.8L585.6 478.4M580.7 481.2L584.1 483.9M569.5 481.2L566.1 483.9M568.6 477.8L564.6 478.4M580.2 486.1L584.1 483.9M569.1 486.1L566.1 483.9M580.4 490.6L584.4 491.2M579.5 494.0L582.9 496.7M568.3 494.0L564.9 496.7M567.4 490.6L563.4 491.2" stroke="#d62020" stroke-width="1.5" fill="none"/><use href="#O24" x="576.6" y="435.7"/><use href="#O24" x="594.6" y="435.7"/><use href="#O24" x="596.1" y="442.2"/><use href="#O24" x="594.6" y="447.7"/><use href="#O24" x="576.6" y="447.7"/><use href="#O24" x="575.1" y="442.2"/><use href="#O24" x="568.4" y="445.0"/><use href="#O24" x="586.4" y="445.0"/><use href="#O24" x="587.9" y="451.5"/><use href="#O24" x="586.4" y="457.0"/><use href="#O24" x="568.4" y="457.0"/><use href="#O24" x="566.9" y="451.5"/><use href="#O24" x="564.9" y="459.1"/><use href="#O24" x="582.9" y="459.1"/><use href="#O24" x="584.4" y="465.6"/><use href="#O24" x="582.9" y="471.1"/><use href="#O24" x="564.9" y="471.1"/><use href="#O24" x="563.4" y="465.6"/><use href="#O24" x="575.4" y="462.6"/><use href="#O24" x="593.4" y="462.6"/><use href="#O24" x="594.9" y="469.1"/><use href="#O24" x="593.4" y="474.6"/><use href="#O24" x="575.4" y="474.6"/><use href="#O24" x="573.9" y="469.1"/><use href="#O24" x="585.6" y="478.4"/><use href="#O24" x="584.1" y="483.9"/><use href="#O24" x="566.1" y="483.9"/><use href="#O24" x="564.6" y="478.4"/><use href="#O24" x="584.4" y="491.2"/><use href="#O24" x="582.9" y="496.7"/><use href="#O24" x="564.9" y="496.7"/><use href="#O24" x="563.4" y="491.2"/><use href="#Co44" x="585.6" y="440.7"/><use href="#Co44" x="577.4" y="450.0"/><use href="#Co44" x="573.9" y="464.1"/><use href="#Co44" x="584.4" y="467.6"/><use href="#Co44" x="575.1" y="476.9"/><use href="#Co44" x="573.9" y="489.7"/><path d="M621.8 444.2L613.6 452.4M613.6 452.4L621.8 468.7M621.8 468.7L613.6 478.1M613.6 478.1L624.1 480.4" stroke="#2a2ab0" stroke-width="1.8" fill="none"/><path d="M621.8 444.2L616.2 441.1M621.8 444.2L627.4 441.1M621.8 444.2L628.3 445.1M621.8 444.2L627.4 448.5M621.8 444.2L616.2 448.5M621.8 444.2L615.3 445.1M621.8 444.2L622.3 446.2M621.8 444.2L623.2 450.2M613.6 452.4L613.1 451.7M613.6 452.4L612.2 448.2M613.6 452.4L608.0 449.3M613.6 452.4L619.2 449.3M613.6 452.4L620.1 453.3M613.6 452.4L619.2 456.7M613.6 452.4L608.0 456.7M613.6 452.4L607.1 453.3M613.6 452.4L613.1 459.4M621.8 468.7L622.3 462.9M621.8 468.7L616.2 465.6M621.8 468.7L627.4 465.6M621.8 468.7L628.3 469.6M621.8 468.7L627.4 473.0M621.8 468.7L616.2 473.0M621.8 468.7L615.3 469.6M621.8 468.7L622.3 471.4M621.8 468.7L623.2 475.5M613.6 478.1L613.1 476.6M613.6 478.1L612.2 473.2M613.6 478.1L608.0 475.0M613.6 478.1L619.2 475.0M613.6 478.1L620.1 479.0M613.6 478.1L619.2 482.4M613.6 478.1L608.0 482.4M613.6 478.1L607.1 479.0M613.6 478.1L614.5 483.9M613.6 478.1L613.6 480.5M624.1 480.4L628.3 477.5M624.1 480.4L617.1 477.5M624.1 480.4L623.2 475.9M624.1 480.4L624.1 479.9M624.1 480.4L623.2 483.3M624.1 480.4L630.6 481.3M624.1 480.4L629.7 484.7M624.1 480.4L618.5 484.7M624.1 480.4L617.6 481.3" stroke="#2222a8" stroke-width="1.5" fill="none"/><path d="M616.2 441.1L612.8 439.2M627.4 441.1L630.8 439.2M628.3 445.1L632.3 445.7M627.4 448.5L630.8 451.2M616.2 448.5L612.8 451.2M615.3 445.1L611.3 445.7M622.3 446.2L622.6 447.4M623.2 450.2L624.1 453.9M613.1 451.7L612.8 451.2M612.2 448.2L611.3 445.7M608.0 449.3L604.6 447.4M619.2 449.3L622.6 447.4M620.1 453.3L624.1 453.9M619.2 456.7L622.6 459.4M608.0 456.7L604.6 459.4M607.1 453.3L603.1 453.9M613.1 459.4L612.8 463.7M622.3 462.9L622.6 459.4M616.2 465.6L612.8 463.7M627.4 465.6L630.8 463.7M628.3 469.6L632.3 470.2M627.4 473.0L630.8 475.7M616.2 473.0L612.8 475.7M615.3 469.6L611.3 470.2M622.3 471.4L622.6 473.1M623.2 475.5L624.1 479.6M613.1 476.6L612.8 475.7M612.2 473.2L611.3 470.2M608.0 475.0L604.6 473.1M619.2 475.0L622.6 473.1M620.1 479.0L624.1 479.6M619.2 482.4L622.6 485.1M608.0 482.4L604.6 485.1M607.1 479.0L603.1 479.6M614.5 483.9L615.1 487.4M613.6 480.5L613.6 481.9M628.3 477.5L630.8 475.7M617.1 477.5L612.8 475.7M623.2 475.9L622.6 473.1M624.1 479.9L624.1 479.6M623.2 483.3L622.6 485.1M630.6 481.3L634.6 481.9M629.7 484.7L633.1 487.4M618.5 484.7L615.1 487.4M617.6 481.3L613.6 481.9" stroke="#d62020" stroke-width="1.5" fill="none"/><use href="#O24" x="612.8" y="439.2"/><use href="#O24" x="630.8" y="439.2"/><use href="#O24" x="632.3" y="445.7"/><use href="#O24" x="630.8" y="451.2"/><use href="#O24" x="612.8" y="451.2"/><use href="#O24" x="611.3" y="445.7"/><use href="#O24" x="604.6" y="447.4"/><use href="#O24" x="622.6" y="447.4"/><use href="#O24" x="624.1" y="453.9"/><use href="#O24" x="622.6" y="459.4"/><use href="#O24" x="604.6" y="459.4"/><use href="#O24" x="603.1" y="453.9"/><use href="#O24" x="612.8" y="463.7"/><use href="#O24" x="630.8" y="463.7"/><use href="#O24" x="632.3" y="470.2"/><use href="#O24" x="630.8" y="475.7"/><use href="#O24" x="612.8" y="475.7"/><use href="#O24" x="611.3" y="470.2"/><use href="#O24" x="604.6" y="473.1"/><use href="#O24" x="622.6" y="473.1"/><use href="#O24" x="624.1" y="479.6"/><use href="#O24" x="622.6" y="485.1"/><use href="#O24" x="604.6" y="485.1"/><use href="#O24" x="603.1" y="479.6"/><use href="#O24" x="634.6" y="481.9"/><use href="#O24" x="633.1" y="487.4"/><use href="#O24" x="615.1" y="487.4"/><use href="#O24" x="613.6" y="481.9"/><use href="#Co44" x="621.8" y="444.2"/><use href="#Co44" x="613.6" y="452.4"/><use href="#Co44" x="621.8" y="468.7"/><use href="#Co44" x="613.6" y="478.1"/><use href="#Co44" x="624.1" y="480.4"/><circle cx="560" cy="443" r="1.2" fill="#fff" stroke="#d08080" stroke-width="0.5"/><circle cx="562" cy="452" r="1.2" fill="#fff" stroke="#d08080" stroke-width="0.5"/><circle cx="561" cy="461" r="1.2" fill="#fff" stroke="#d08080" stroke-width="0.5"/><circle cx="563" cy="470" r="1.2" fill="#fff" stroke="#d08080" stroke-width="0.5"/><circle cx="560" cy="479" r="1.2" fill="#fff" stroke="#d08080" stroke-width="0.5"/><circle cx="597" cy="446" r="1.2" fill="#fff" stroke="#d08080" stroke-width="0.5"/><circle cx="599" cy="455" r="1.2" fill="#fff" stroke="#d08080" stroke-width="0.5"/><circle cx="598" cy="464" r="1.2" fill="#fff" stroke="#d08080" stroke-width="0.5"/><circle cx="600" cy="473" r="1.2" fill="#fff" stroke="#d08080" stroke-width="0.5"/><circle cx="597" cy="482" r="1.2" fill="#fff" stroke="#d08080" stroke-width="0.5"/><circle cx="524" cy="458" r="1.2" fill="#fff" stroke="#d08080" stroke-width="0.5"/><circle cx="527" cy="470" r="1.2" fill="#fff" stroke="#d08080" stroke-width="0.5"/><circle cx="635" cy="450" r="1.2" fill="#fff" stroke="#d08080" stroke-width="0.5"/><circle cx="637" cy="462" r="1.2" fill="#fff" stroke="#d08080" stroke-width="0.5"/><circle cx="578.6" cy="448.9" r="8.2" fill="none" stroke="#20d838" stroke-width="0.8" stroke-dasharray="1.8 1.1"/><line x1="568.10" y1="423.20" x2="574.60" y2="441.60" stroke="#1fb060" stroke-width="0.7" marker-end="url(#arG)"/><text x="552.40" y="420.90" font-size="7.0" fill="#1fb060">active site</text><clipPath id="jcl1"><circle cx="518.5" cy="396.2" r="34.7"/></clipPath><g clip-path="url(#jcl1)"><circle cx="518.50" cy="396.20" r="34.70" fill="#fff" /><path d="M506.7 397.2L494.7 397.2M530.3 397.2L542.3 397.2M506.7 416.7L494.7 416.7M530.3 416.7L542.3 416.7M506.7 435.9L494.7 435.9M530.3 435.9L542.3 435.9M506.7 397.2L514.5 412.7M514.5 401.2L506.7 416.7M530.3 397.2L522.5 412.7M522.5 401.2L530.3 416.7M506.7 416.7L514.5 431.9M514.5 420.7L506.7 435.9M530.3 416.7L522.5 431.9M522.5 420.7L530.3 435.9" stroke="#ee7474" stroke-width="2.6" fill="none"/><path d="M494.7 397.2L484.7 397.2M542.3 397.2L552.3 397.2M494.7 416.7L484.7 416.7M542.3 416.7L552.3 416.7M494.7 435.9L484.7 435.9M542.3 435.9L552.3 435.9" stroke="#f0b8b8" stroke-width="1.6" fill="none"/><path d="M481.7 397.2L472.7 397.2M555.3 397.2L564.3 397.2M481.7 416.7L472.7 416.7M555.3 416.7L564.3 416.7M481.7 435.9L472.7 435.9M555.3 435.9L564.3 435.9" stroke="#f0b8b8" stroke-width="1.2" fill="none"/><path d="M515.1 400.2L512.0 406.9M512.0 406.9L515.1 413.7M521.9 400.2L525.0 406.9M525.0 406.9L521.9 413.7M515.1 419.7L512.0 426.3M512.0 426.3L515.1 432.9M521.9 419.7L525.0 426.3M525.0 426.3L521.9 432.9" stroke="#6c6ccc" stroke-width="2.5" fill="none"/><path d="M512.0 406.9L525.0 406.9M512.0 426.3L525.0 426.3" stroke="#6c6ccc" stroke-width="2.2" fill="none"/><circle cx="494.7" cy="397.2" r="1.6" fill="#fff" stroke="#d89090" stroke-width="0.6"/><circle cx="487.7" cy="397.2" r="1.6" fill="#fff" stroke="#d89090" stroke-width="0.6"/><circle cx="542.3" cy="397.2" r="1.6" fill="#fff" stroke="#d89090" stroke-width="0.6"/><circle cx="549.3" cy="397.2" r="1.6" fill="#fff" stroke="#d89090" stroke-width="0.6"/><circle cx="494.7" cy="416.7" r="1.6" fill="#fff" stroke="#d89090" stroke-width="0.6"/><circle cx="487.7" cy="416.7" r="1.6" fill="#fff" stroke="#d89090" stroke-width="0.6"/><circle cx="542.3" cy="416.7" r="1.6" fill="#fff" stroke="#d89090" stroke-width="0.6"/><circle cx="549.3" cy="416.7" r="1.6" fill="#fff" stroke="#d89090" stroke-width="0.6"/><circle cx="494.7" cy="435.9" r="1.6" fill="#fff" stroke="#d89090" stroke-width="0.6"/><circle cx="487.7" cy="435.9" r="1.6" fill="#fff" stroke="#d89090" stroke-width="0.6"/><circle cx="542.3" cy="435.9" r="1.6" fill="#fff" stroke="#d89090" stroke-width="0.6"/><circle cx="549.3" cy="435.9" r="1.6" fill="#fff" stroke="#d89090" stroke-width="0.6"/><use href="#CoS62" x="518.5" y="416.7"/><use href="#CoS62" x="518.5" y="435.9"/><use href="#OS35" x="506.7" y="397.2"/><use href="#OS35" x="530.3" y="397.2"/><use href="#OS35" x="506.7" y="416.7"/><use href="#OS35" x="530.3" y="416.7"/><use href="#OS35" x="506.7" y="435.9"/><use href="#OS35" x="530.3" y="435.9"/><use href="#Co62" x="518.5" y="397.5"/></g><circle cx="518.5" cy="396.2" r="34.7" fill="none" stroke="#111" stroke-width="1.05"/><text x="516.20" y="370.20" font-size="6.7" fill="#222" text-anchor="middle">q=1.47</text><text x="516.80" y="378.40" font-size="6.7" fill="#222" text-anchor="middle">|m|=2.596</text><text x="519.30" y="388.30" font-size="6.7" fill="#222" text-anchor="middle">+2</text><clipPath id="jcl2"><circle cx="642.5" cy="395.7" r="34.9"/></clipPath><g clip-path="url(#jcl2)"><circle cx="642.50" cy="395.70" r="34.90" fill="#fff" /><path d="M630.7 395.9L618.7 395.9M654.3 395.9L666.3 395.9M630.7 415.4L618.7 415.4M654.3 415.4L666.3 415.4M630.7 434.6L618.7 434.6M654.3 434.6L666.3 434.6M630.7 395.9L638.5 411.4M638.5 399.9L630.7 415.4M654.3 395.9L646.5 411.4M646.5 399.9L654.3 415.4M630.7 415.4L638.5 430.6M638.5 419.4L630.7 434.6M654.3 415.4L646.5 430.6M646.5 419.4L654.3 434.6" stroke="#ee7474" stroke-width="2.6" fill="none"/><path d="M618.7 395.9L608.7 395.9M666.3 395.9L676.3 395.9M618.7 415.4L608.7 415.4M666.3 415.4L676.3 415.4M618.7 434.6L608.7 434.6M666.3 434.6L676.3 434.6" stroke="#f0b8b8" stroke-width="1.6" fill="none"/><path d="M605.7 395.9L596.7 395.9M679.3 395.9L688.3 395.9M605.7 415.4L596.7 415.4M679.3 415.4L688.3 415.4M605.7 434.6L596.7 434.6M679.3 434.6L688.3 434.6" stroke="#f0b8b8" stroke-width="1.2" fill="none"/><path d="M639.1 398.9L636.0 405.6M636.0 405.6L639.1 412.4M645.9 398.9L649.0 405.6M649.0 405.6L645.9 412.4M639.1 418.4L636.0 425.0M636.0 425.0L639.1 431.6M645.9 418.4L649.0 425.0M649.0 425.0L645.9 431.6" stroke="#6c6ccc" stroke-width="2.5" fill="none"/><path d="M636.0 405.6L649.0 405.6M636.0 425.0L649.0 425.0" stroke="#6c6ccc" stroke-width="2.2" fill="none"/><circle cx="618.7" cy="395.9" r="1.6" fill="#fff" stroke="#d89090" stroke-width="0.6"/><circle cx="611.7" cy="395.9" r="1.6" fill="#fff" stroke="#d89090" stroke-width="0.6"/><circle cx="666.3" cy="395.9" r="1.6" fill="#fff" stroke="#d89090" stroke-width="0.6"/><circle cx="673.3" cy="395.9" r="1.6" fill="#fff" stroke="#d89090" stroke-width="0.6"/><circle cx="618.7" cy="415.4" r="1.6" fill="#fff" stroke="#d89090" stroke-width="0.6"/><circle cx="611.7" cy="415.4" r="1.6" fill="#fff" stroke="#d89090" stroke-width="0.6"/><circle cx="666.3" cy="415.4" r="1.6" fill="#fff" stroke="#d89090" stroke-width="0.6"/><circle cx="673.3" cy="415.4" r="1.6" fill="#fff" stroke="#d89090" stroke-width="0.6"/><circle cx="618.7" cy="434.6" r="1.6" fill="#fff" stroke="#d89090" stroke-width="0.6"/><circle cx="611.7" cy="434.6" r="1.6" fill="#fff" stroke="#d89090" stroke-width="0.6"/><circle cx="666.3" cy="434.6" r="1.6" fill="#fff" stroke="#d89090" stroke-width="0.6"/><circle cx="673.3" cy="434.6" r="1.6" fill="#fff" stroke="#d89090" stroke-width="0.6"/><use href="#CoS62" x="642.5" y="415.4"/><use href="#CoS62" x="642.5" y="434.6"/><use href="#OS35" x="630.7" y="395.9"/><use href="#OS35" x="654.3" y="395.9"/><use href="#OS35" x="630.7" y="415.4"/><use href="#OS35" x="654.3" y="415.4"/><use href="#OS35" x="630.7" y="434.6"/><use href="#OS35" x="654.3" y="434.6"/><path d="M643.4 396.2L648.8 386.7" stroke="#2222a8" stroke-width="2.0"/><path d="M648.8 386.7L654.2 377.2" stroke="#d62020" stroke-width="2.0"/><line x1="654.20" y1="377.20" x2="661.30" y2="372.90" stroke="#e8b0b0" stroke-width="1.2" /><use href="#Co62" x="642.5" y="396.2"/><use href="#O28" x="654.2" y="377.2"/><circle cx="661.3" cy="372.9" r="1.6" fill="#fff" stroke="#d89090" stroke-width="0.6"/></g><circle cx="642.5" cy="395.7" r="34.9" fill="none" stroke="#111" stroke-width="1.05"/><text x="640.20" y="368.50" font-size="6.7" fill="#222" text-anchor="middle">q=1.54</text><text x="634.10" y="376.60" font-size="6.7" fill="#222" text-anchor="middle">|m|=1.666</text><text x="625.20" y="388.60" font-size="6.7" fill="#222">+3~4</text><clipPath id="jcl3"><circle cx="518.5" cy="519.8" r="34.7"/></clipPath><g clip-path="url(#jcl3)"><circle cx="518.50" cy="519.80" r="34.70" fill="#fff" /><path d="M506.7 519.5L494.7 519.5M530.3 519.5L542.3 519.5M506.7 539.0L494.7 539.0M530.3 539.0L542.3 539.0M506.7 558.2L494.7 558.2M530.3 558.2L542.3 558.2M506.7 519.5L514.5 535.0M514.5 523.5L506.7 539.0M530.3 519.5L522.5 535.0M522.5 523.5L530.3 539.0M506.7 539.0L514.5 554.2M514.5 543.0L506.7 558.2M530.3 539.0L522.5 554.2M522.5 543.0L530.3 558.2" stroke="#ee7474" stroke-width="2.6" fill="none"/><path d="M494.7 519.5L484.7 519.5M542.3 519.5L552.3 519.5M494.7 539.0L484.7 539.0M542.3 539.0L552.3 539.0M494.7 558.2L484.7 558.2M542.3 558.2L552.3 558.2" stroke="#f0b8b8" stroke-width="1.6" fill="none"/><path d="M481.7 519.5L472.7 519.5M555.3 519.5L564.3 519.5M481.7 539.0L472.7 539.0M555.3 539.0L564.3 539.0M481.7 558.2L472.7 558.2M555.3 558.2L564.3 558.2" stroke="#f0b8b8" stroke-width="1.2" fill="none"/><path d="M515.1 522.5L512.0 529.2M512.0 529.2L515.1 536.0M521.9 522.5L525.0 529.2M525.0 529.2L521.9 536.0M515.1 542.0L512.0 548.6M512.0 548.6L515.1 555.2M521.9 542.0L525.0 548.6M525.0 548.6L521.9 555.2" stroke="#6c6ccc" stroke-width="2.5" fill="none"/><path d="M512.0 529.2L525.0 529.2M512.0 548.6L525.0 548.6" stroke="#6c6ccc" stroke-width="2.2" fill="none"/><circle cx="494.7" cy="519.5" r="1.6" fill="#fff" stroke="#d89090" stroke-width="0.6"/><circle cx="487.7" cy="519.5" r="1.6" fill="#fff" stroke="#d89090" stroke-width="0.6"/><circle cx="542.3" cy="519.5" r="1.6" fill="#fff" stroke="#d89090" stroke-width="0.6"/><circle cx="549.3" cy="519.5" r="1.6" fill="#fff" stroke="#d89090" stroke-width="0.6"/><circle cx="494.7" cy="539.0" r="1.6" fill="#fff" stroke="#d89090" stroke-width="0.6"/><circle cx="487.7" cy="539.0" r="1.6" fill="#fff" stroke="#d89090" stroke-width="0.6"/><circle cx="542.3" cy="539.0" r="1.6" fill="#fff" stroke="#d89090" stroke-width="0.6"/><circle cx="549.3" cy="539.0" r="1.6" fill="#fff" stroke="#d89090" stroke-width="0.6"/><circle cx="494.7" cy="558.2" r="1.6" fill="#fff" stroke="#d89090" stroke-width="0.6"/><circle cx="487.7" cy="558.2" r="1.6" fill="#fff" stroke="#d89090" stroke-width="0.6"/><circle cx="542.3" cy="558.2" r="1.6" fill="#fff" stroke="#d89090" stroke-width="0.6"/><circle cx="549.3" cy="558.2" r="1.6" fill="#fff" stroke="#d89090" stroke-width="0.6"/><use href="#CoS62" x="518.5" y="539.0"/><use href="#CoS62" x="518.5" y="558.2"/><use href="#OS35" x="506.7" y="519.5"/><use href="#OS35" x="530.3" y="519.5"/><use href="#OS35" x="506.7" y="539.0"/><use href="#OS35" x="530.3" y="539.0"/><use href="#OS35" x="506.7" y="558.2"/><use href="#OS35" x="530.3" y="558.2"/><path d="M519.8 519.8L525.1 510.2" stroke="#2222a8" stroke-width="2.0"/><path d="M525.1 510.2L530.5 500.6" stroke="#d62020" stroke-width="2.0"/><line x1="530.50" y1="500.60" x2="526.10" y2="491.70" stroke="#d62020" stroke-width="2.0" /><line x1="526.10" y1="491.70" x2="518.90" y2="501.30" stroke="#e8b0b0" stroke-width="1.2" /><use href="#Co62" x="518.5" y="519.8"/><use href="#O28" x="530.5" y="500.6"/><use href="#O28" x="526.1" y="491.7"/><circle cx="518.9" cy="501.3" r="1.6" fill="#fff" stroke="#d89090" stroke-width="0.6"/></g><circle cx="518.5" cy="519.8" r="34.7" fill="none" stroke="#111" stroke-width="1.05"/><text x="489.30" y="506.80" font-size="6.7" fill="#222">q=1.48</text><text x="485.20" y="514.50" font-size="6.7" fill="#222">|m|=1.49</text><text x="535.40" y="504.70" font-size="6.7" fill="#222">-1/2</text><text x="527.90" y="514.50" font-size="6.7" fill="#222">+3~4</text><clipPath id="jcl4"><circle cx="642.5" cy="519.8" r="34.9"/></clipPath><g clip-path="url(#jcl4)"><circle cx="642.50" cy="519.80" r="34.90" fill="#fff" /><path d="M630.7 518.6L618.7 518.6M654.3 518.6L666.3 518.6M630.7 538.1L618.7 538.1M654.3 538.1L666.3 538.1M630.7 557.3L618.7 557.3M654.3 557.3L666.3 557.3M630.7 518.6L638.5 534.1M638.5 522.6L630.7 538.1M654.3 518.6L646.5 534.1M646.5 522.6L654.3 538.1M630.7 538.1L638.5 553.3M638.5 542.1L630.7 557.3M654.3 538.1L646.5 553.3M646.5 542.1L654.3 557.3" stroke="#ee7474" stroke-width="2.6" fill="none"/><path d="M618.7 518.6L608.7 518.6M666.3 518.6L676.3 518.6M618.7 538.1L608.7 538.1M666.3 538.1L676.3 538.1M618.7 557.3L608.7 557.3M666.3 557.3L676.3 557.3" stroke="#f0b8b8" stroke-width="1.6" fill="none"/><path d="M605.7 518.6L596.7 518.6M679.3 518.6L688.3 518.6M605.7 538.1L596.7 538.1M679.3 538.1L688.3 538.1M605.7 557.3L596.7 557.3M679.3 557.3L688.3 557.3" stroke="#f0b8b8" stroke-width="1.2" fill="none"/><path d="M639.1 521.6L636.0 528.4M636.0 528.4L639.1 535.1M645.9 521.6L649.0 528.4M649.0 528.4L645.9 535.1M639.1 541.1L636.0 547.7M636.0 547.7L639.1 554.3M645.9 541.1L649.0 547.7M649.0 547.7L645.9 554.3" stroke="#6c6ccc" stroke-width="2.5" fill="none"/><path d="M636.0 528.4L649.0 528.4M636.0 547.7L649.0 547.7" stroke="#6c6ccc" stroke-width="2.2" fill="none"/><circle cx="618.7" cy="518.6" r="1.6" fill="#fff" stroke="#d89090" stroke-width="0.6"/><circle cx="611.7" cy="518.6" r="1.6" fill="#fff" stroke="#d89090" stroke-width="0.6"/><circle cx="666.3" cy="518.6" r="1.6" fill="#fff" stroke="#d89090" stroke-width="0.6"/><circle cx="673.3" cy="518.6" r="1.6" fill="#fff" stroke="#d89090" stroke-width="0.6"/><circle cx="618.7" cy="538.1" r="1.6" fill="#fff" stroke="#d89090" stroke-width="0.6"/><circle cx="611.7" cy="538.1" r="1.6" fill="#fff" stroke="#d89090" stroke-width="0.6"/><circle cx="666.3" cy="538.1" r="1.6" fill="#fff" stroke="#d89090" stroke-width="0.6"/><circle cx="673.3" cy="538.1" r="1.6" fill="#fff" stroke="#d89090" stroke-width="0.6"/><circle cx="618.7" cy="557.3" r="1.6" fill="#fff" stroke="#d89090" stroke-width="0.6"/><circle cx="611.7" cy="557.3" r="1.6" fill="#fff" stroke="#d89090" stroke-width="0.6"/><circle cx="666.3" cy="557.3" r="1.6" fill="#fff" stroke="#d89090" stroke-width="0.6"/><circle cx="673.3" cy="557.3" r="1.6" fill="#fff" stroke="#d89090" stroke-width="0.6"/><use href="#CoS62" x="642.5" y="538.1"/><use href="#CoS62" x="642.5" y="557.3"/><use href="#OS35" x="630.7" y="518.6"/><use href="#OS35" x="654.3" y="518.6"/><use href="#OS35" x="630.7" y="538.1"/><use href="#OS35" x="654.3" y="538.1"/><use href="#OS35" x="630.7" y="557.3"/><use href="#OS35" x="654.3" y="557.3"/><path d="M642.5 518.9L648.1 510.1" stroke="#2222a8" stroke-width="2.0"/><path d="M648.1 510.1L653.8 501.3" stroke="#d62020" stroke-width="2.0"/><use href="#Co62" x="642.5" y="518.9"/><use href="#O28" x="653.8" y="501.3"/></g><circle cx="642.5" cy="519.8" r="34.9" fill="none" stroke="#111" stroke-width="1.05"/><text x="640.20" y="492.10" font-size="6.7" fill="#222" text-anchor="middle">q=1.58</text><text x="634.10" y="500.20" font-size="6.7" fill="#222" text-anchor="middle">|m|=1.829</text><text x="623.40" y="511.80" font-size="6.7" fill="#222">+3~4</text><path d="M552.3 382.2Q580.0 371.5 608.3 381.4" fill="none" stroke="#111" stroke-width="1.1" marker-end="url(#arK)"/><path d="M551.4 367.4Q555.0 376.0 566.0 377.5" fill="none" stroke="#111" stroke-width="1.1" marker-end="url(#arK)"/><path d="M589.0 376.9Q598.5 379.0 600.6 390.3" fill="none" stroke="#111" stroke-width="1.1" marker-end="url(#arK)"/><text x="560.00" y="370.20" font-size="6.8" fill="#222">+OH<tspan dy="-2.6" font-size="4.5">-</tspan><tspan dy="2.6" font-size="0.1">&#8203;</tspan></text><text x="586.50" y="388.60" font-size="6.8" fill="#222">-e<tspan dy="-2.6" font-size="4.5">-</tspan><tspan dy="2.6" font-size="0.1">&#8203;</tspan></text><path d="M658.0 428.8Q670.0 458.0 660.6 487.3" fill="none" stroke="#111" stroke-width="1.1" marker-end="url(#arK)"/><path d="M673.2 431.5Q665.5 435.0 664.8 445.0" fill="none" stroke="#111" stroke-width="1.1" marker-end="url(#arK)"/><path d="M664.6 466.0Q662.0 476.5 650.8 479.5" fill="none" stroke="#111" stroke-width="1.1" marker-end="url(#arK)"/><text x="668.70" y="445.40" font-size="6.8" fill="#222">+OH<tspan dy="-2.6" font-size="4.5">-</tspan><tspan dy="2.6" font-size="0.1">&#8203;</tspan></text><text x="647.00" y="467.80" font-size="6.8" fill="#222">-H<tspan dy="1.2" font-size="4.5">2</tspan><tspan dy="-1.2" font-size="0.1">&#8203;</tspan>O</text><text x="651.70" y="485.00" font-size="6.8" fill="#222">-e<tspan dy="-2.6" font-size="4.5">-</tspan><tspan dy="2.6" font-size="0.1">&#8203;</tspan></text><path d="M611.4 539.0Q582.0 550.0 551.2 540.0" fill="none" stroke="#111" stroke-width="1.1" marker-end="url(#arK)"/><path d="M606.9 554.7Q604.0 548.0 594.5 546.8" fill="none" stroke="#111" stroke-width="1.1" marker-end="url(#arK)"/><path d="M575.0 545.4Q562.5 543.0 558.4 530.8" fill="none" stroke="#111" stroke-width="1.1" marker-end="url(#arK)"/><text x="583.90" y="557.60" font-size="6.8" fill="#222">+OH<tspan dy="-2.6" font-size="4.5">-</tspan><tspan dy="2.6" font-size="0.1">&#8203;</tspan></text><text x="563.60" y="535.50" font-size="6.8" fill="#222">-H<tspan dy="1.2" font-size="4.5">2</tspan><tspan dy="-1.2" font-size="0.1">&#8203;</tspan>O</text><path d="M500.6 488.2Q493.5 459.0 501.0 430.3" fill="none" stroke="#f01414" stroke-width="1.1" marker-end="url(#arR)"/><path d="M496.9 452.0Q497.5 438.0 493.8 430.3" fill="none" stroke="#f01414" stroke-width="1.1" marker-end="url(#arR)"/><path d="M496.8 456.0Q498.5 443.5 510.4 438.6" fill="none" stroke="#f01414" stroke-width="1.1" marker-end="url(#arR)"/><path d="M485.5 487.5Q495.0 482.0 496.7 469.0" fill="none" stroke="#f01414" stroke-width="1.1" marker-end="url(#arR)"/><text x="481.90" y="433.70" font-size="6.8" fill="#20b860">-O<tspan dy="1.2" font-size="4.5">2</tspan><tspan dy="-1.2" font-size="0.1">&#8203;</tspan></text><text x="505.50" y="436.10" font-size="6.8" fill="#222">-e<tspan dy="-2.6" font-size="4.5">-</tspan><tspan dy="2.6" font-size="0.1">&#8203;</tspan></text><text x="480.40" y="449.50" font-size="6.8" fill="#222">-H<tspan dy="1.2" font-size="4.5">2</tspan><tspan dy="-1.2" font-size="0.1">&#8203;</tspan>O</text><text x="474.70" y="482.50" font-size="6.8" fill="#222">+OH<tspan dy="-2.6" font-size="4.5">-</tspan><tspan dy="2.6" font-size="0.1">&#8203;</tspan></text><text x="499.20" y="461.60" font-size="6.8" fill="#f03030">PDS</text></g></g>
</svg>
</body></html>
